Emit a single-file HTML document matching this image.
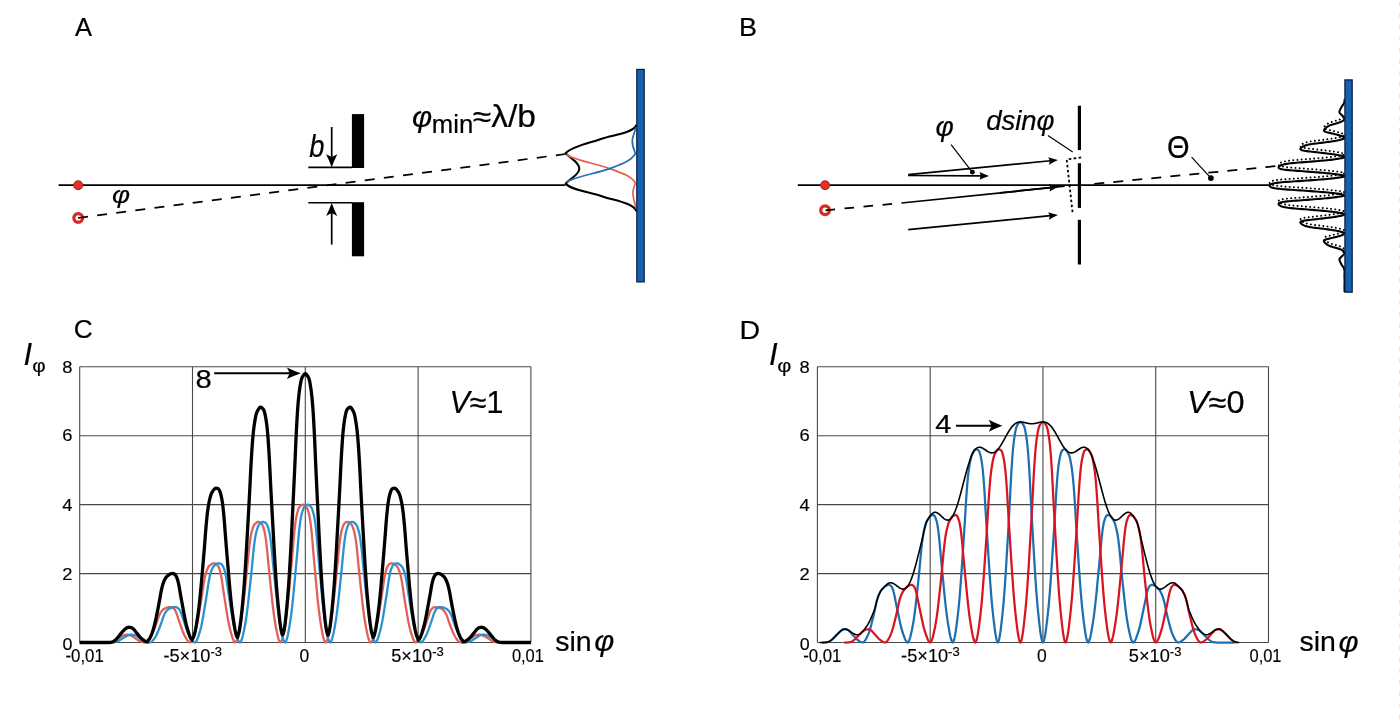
<!DOCTYPE html>
<html><head><meta charset="utf-8"><title>fig</title>
<style>
html,body{margin:0;padding:0;background:#fff;}
body{width:1400px;height:726px;overflow:hidden;}
svg{display:block;will-change:transform;}
text{font-family:"Liberation Sans",sans-serif;fill:#000;}
.g{stroke:#484848;stroke-width:1.1;}
.k{stroke:#000;fill:none;}
</style></head><body>
<svg width="1400" height="726" viewBox="0 0 1400 726">
<rect width="1400" height="726" fill="#fff"/>
<line x1="1399.5" y1="0" x2="1399.5" y2="726" stroke="#f1e3d8" stroke-width="1" stroke-dasharray="4,7.5" stroke-dashoffset="-2"/>

<!-- ===== Panel labels ===== -->
<text transform="translate(75.10,35.80) scale(1.0,1)" font-size="25.5" text-anchor="start" stroke="#000" stroke-width="0.20">A</text>
<text transform="translate(739.04,35.60) scale(1.06,1)" font-size="25.5" text-anchor="start" stroke="#000" stroke-width="0.19">B</text>
<text transform="translate(73.69,338.40) scale(1.03,1)" font-size="25.5" text-anchor="start" stroke="#000" stroke-width="0.20">C</text>
<text transform="translate(739.41,338.60) scale(1.1,1)" font-size="26" text-anchor="start" stroke="#000" stroke-width="0.19">D</text>

<!-- ===== Panel A ===== -->
<g id="panelA">
<line x1="58.6" y1="185.2" x2="565.5" y2="185.2" class="k" stroke-width="1.75"/>
<circle cx="78.2" cy="185.2" r="4.25" fill="#ee2e20" stroke="#a8342b" stroke-width="1.4"/>
<circle cx="78.2" cy="217.9" r="4.35" fill="#fff" stroke="#d92a20" stroke-width="3.3"/>
<line x1="78" y1="218" x2="565.7" y2="154" class="k" stroke-width="1.75" stroke-dasharray="10,9.28"/>
<rect x="351.9" y="114.1" width="12.2" height="53.9" fill="#000"/>
<rect x="351.9" y="202.2" width="12.2" height="54.1" fill="#000"/>
<line x1="308.3" y1="167.4" x2="352" y2="167.4" class="k" stroke-width="1.6"/>
<line x1="308.3" y1="202.7" x2="352" y2="202.7" class="k" stroke-width="1.6"/>
<line x1="331.70" y1="127.00" x2="331.70" y2="157.56" stroke="#000" stroke-width="1.7"/><path d="M331.70,167.20 Q334.05,160.70 337.30,154.20 L331.70,157.06 L326.10,154.20 Q329.35,160.70 331.70,167.20 Z" fill="#000"/>
<line x1="331.70" y1="244.60" x2="331.70" y2="212.54" stroke="#000" stroke-width="1.7"/><path d="M331.70,202.90 Q329.35,209.40 326.10,215.90 L331.70,213.04 L337.30,215.90 Q334.05,209.40 331.70,202.90 Z" fill="#000"/>
<text transform="translate(309.35,157.00) scale(0.88,1)" font-size="31" text-anchor="start" font-style="italic" stroke="#000" stroke-width="0.21">b</text>
<text transform="translate(111.89,203.20) scale(1.13,1)" font-size="24.5" text-anchor="start" font-style="italic" stroke="#000" stroke-width="0.19">φ</text>
<text transform="translate(412.06,127.10) scale(1.03,1)" font-size="30" text-anchor="start" font-style="italic" stroke="#000" stroke-width="0.20">φ</text>
<text transform="translate(431.80,133.40) scale(1.0,1)" font-size="25.7" text-anchor="start" stroke="#000" stroke-width="0.20">min</text>
<text transform="translate(472.79,126.50) scale(1.1,1)" font-size="30.5" text-anchor="start" stroke="#000" stroke-width="0.19">≈λ/b</text>
<!-- pattern -->
<path d="M636.6,124.6 C634,133 612,135 602.5,138.5 C588,143.5 572,146.5 565.8,153 C569,158 579.5,162 579.3,168.6 C579.5,175 569,179 565.8,183.7 C572,190.5 588,191.5 602.5,196.4 C612,200 634,203 636.6,211.4" class="k" stroke-width="2.1"/>
<path d="M566.5,154.5 C575,160.5 596,163.5 609.7,168.6 C622,173 631,176 635.5,183 C634,187 632.5,190 633,194.5 C633.3,199 635,203 636,208.5" fill="none" stroke="#e8604c" stroke-width="1.7"/>
<path d="M566.5,182.2 C575,176.5 596,173.5 609.7,168.6 C622,164 631,161 635.5,153.5 C634,149.5 632,146 632.3,140.5 C632.6,136 635,131.5 636,127.4" fill="none" stroke="#2a6db5" stroke-width="1.7"/>
<!-- screen -->
<rect x="636.8" y="69.4" width="7.4" height="212.5" fill="#1660b0" stroke="#0c1838" stroke-width="1.2"/>
</g>

<!-- ===== Panel B ===== -->
<g id="panelB">
<line x1="797.8" y1="185.2" x2="1270" y2="185.2" class="k" stroke-width="1.75"/>
<circle cx="825.1" cy="185.2" r="4.25" fill="#ee2e20" stroke="#a8342b" stroke-width="1.4"/>
<circle cx="825.1" cy="210.2" r="4.35" fill="#fff" stroke="#d92a20" stroke-width="3.3"/>
<line x1="825.5" y1="210.3" x2="901.6" y2="203.0" class="k" stroke-width="1.75" stroke-dasharray="9.6,9.5"/>
<line x1="901.5" y1="203.0" x2="1064.7" y2="186.2" class="k" stroke-width="1.75"/>
<line x1="1000.00" y1="192.85" x2="1050.97" y2="187.63" stroke="#000" stroke-width="1.75"/><path d="M1058.60,186.85 Q1053.71,185.75 1048.76,184.04 L1050.47,187.68 L1049.54,191.60 Q1054.04,188.92 1058.60,186.85 Z" fill="#000"/>
<line x1="908.20" y1="174.70" x2="1050.37" y2="160.75" stroke="#000" stroke-width="1.75"/><path d="M1058.00,160.00 Q1053.12,158.88 1048.17,157.15 L1049.87,160.80 L1048.92,164.71 Q1053.43,162.05 1058.00,160.00 Z" fill="#000"/>
<line x1="908.20" y1="175.50" x2="981.33" y2="175.86" stroke="#000" stroke-width="1.75"/><path d="M989.00,175.90 Q984.26,174.28 979.52,172.05 L980.83,175.86 L979.48,179.65 Q984.24,177.47 989.00,175.90 Z" fill="#000"/>
<line x1="908.20" y1="229.60" x2="1050.37" y2="215.74" stroke="#000" stroke-width="1.75"/><path d="M1058.00,215.00 Q1053.12,213.87 1048.18,212.14 L1049.87,215.79 L1048.91,219.70 Q1053.43,217.05 1058.00,215.00 Z" fill="#000"/>
<circle cx="972.4" cy="172.2" r="2.4" fill="#000"/>
<line x1="951.1" y1="144.7" x2="972" y2="171.8" class="k" stroke-width="1.2"/>
<text transform="translate(935.38,135.80) scale(1.0,1)" font-size="28" text-anchor="start" font-style="italic" stroke="#000" stroke-width="0.20">φ</text>
<text transform="translate(986.17,129.50) scale(0.965,1)" font-size="28.5" text-anchor="start" font-style="italic" stroke="#000" stroke-width="0.20">dsinφ</text>
<line x1="1047.9" y1="135.5" x2="1072.7" y2="152" class="k" stroke-width="1.2"/>
<!-- double slit -->
<line x1="1079.4" y1="105.7" x2="1079.4" y2="150.1" class="k" stroke-width="3.2"/>
<line x1="1079.4" y1="163.2" x2="1079.4" y2="207.9" class="k" stroke-width="3.2"/>
<line x1="1079.4" y1="219.8" x2="1079.4" y2="264.5" class="k" stroke-width="3.2"/>
<path d="M1081.2,157.4 L1066.7,159.5 L1072.7,213.8" class="k" stroke-width="1.8" stroke-dasharray="2.6,2.4"/>
<!-- theta line (drawn right to left so dash phase matches) -->
<line x1="1278.3" y1="165.9" x2="1088" y2="184.5" class="k" stroke-width="1.75" stroke-dasharray="10,9.1" stroke-dashoffset="-3"/>
<text transform="translate(1166.95,158.00) scale(0.94,1)" font-size="30.8" text-anchor="start" stroke="#000" stroke-width="0.21">Θ</text>
<line x1="1191.6" y1="157.1" x2="1210.5" y2="177.6" class="k" stroke-width="1.2"/>
<circle cx="1210.9" cy="178.1" r="2.9" fill="#000"/>
<!-- fringes -->
<path d="M1343.49,117.50 L1343.32,117.64 L1343.14,117.77 L1342.96,117.91 L1342.76,118.05 L1342.55,118.18 L1342.33,118.32 L1342.10,118.46 L1341.84,118.59 L1341.57,118.73 L1341.27,118.87 L1340.96,119.00 L1340.64,119.14 L1340.30,119.28 L1339.95,119.41 L1339.58,119.55 L1339.20,119.69 L1338.80,119.82 L1338.40,119.96 L1338.00,120.10 L1337.58,120.23 L1337.16,120.37 L1336.73,120.51 L1336.28,120.64 L1335.83,120.78 L1335.36,120.92 L1334.88,121.05 L1334.36,121.19 L1333.83,121.33 L1333.31,121.46 L1332.81,121.60 L1332.34,121.74 L1331.88,121.87 L1331.44,122.01 L1331.02,122.15 L1330.63,122.28 L1330.26,122.42 L1329.92,122.56 L1329.60,122.69 L1329.29,122.83 L1329.00,122.97 L1328.73,123.10 L1328.46,123.24 L1328.20,123.38 L1327.95,123.51 L1327.71,123.65 L1327.49,123.79 L1327.28,123.92 L1327.09,124.06 L1326.90,124.20 L1326.72,124.33 L1326.55,124.47 L1326.37,124.61 L1326.20,124.74 L1326.02,124.88 L1325.85,125.02 L1325.69,125.15 L1325.53,125.29 L1325.37,125.42 L1325.23,125.56 L1325.09,125.70 L1324.97,125.83 L1324.85,125.97 L1324.73,126.11 L1324.62,126.24 L1324.50,126.38 L1324.39,126.52 L1324.28,126.65 L1324.19,126.79 L1324.10,126.93 L1324.02,127.06 L1323.96,127.20 L1323.93,127.34 L1323.93,127.47 L1323.94,127.61 L1323.97,127.75 L1324.00,127.88 L1324.06,128.02 L1324.15,128.16 L1324.26,128.29 L1324.42,128.43 L1324.61,128.57 L1324.85,128.70 L1325.15,128.84 L1325.49,128.98 L1325.88,129.11 L1326.30,129.25 L1326.77,129.39 L1327.31,129.52 L1327.90,129.66 L1328.49,129.80 L1329.05,129.93 L1329.60,130.07 L1330.15,130.21 L1330.70,130.34 L1331.25,130.48 L1331.80,130.62 L1332.36,130.75 L1332.92,130.89 L1333.48,131.03 L1334.06,131.16 L1334.65,131.30 L1335.23,131.44 L1335.80,131.57 L1336.34,131.71 L1336.89,131.85 L1337.42,131.98 L1337.95,132.12 L1338.46,132.26 L1338.93,132.39 L1339.38,132.53 L1339.81,132.67 L1340.22,132.80 L1340.62,132.94 L1341.00,133.08 L1341.37,133.21 L1341.74,133.35 L1342.10,133.49 L1342.45,133.62 L1342.80,133.76 L1343.12,133.90 L1343.41,134.03 L1343.66,134.17 L1343.90,134.31 L1344.11,134.44 L1344.27,134.58 L1344.41,134.72 L1344.53,134.85 L1344.60,134.99 L1344.57,135.13 L1344.48,135.26 L1344.34,135.40 L1344.19,135.54 L1343.98,135.67 L1343.74,135.81 L1343.46,135.95 L1343.15,136.08 L1342.80,136.22 L1342.41,136.36 L1341.98,136.49 L1341.54,136.63 L1341.09,136.77 L1340.62,136.90 L1340.13,137.04 L1339.61,137.18 L1339.07,137.31 L1338.49,137.45 L1337.88,137.59 L1337.23,137.72 L1336.52,137.86 L1335.77,138.00 L1334.98,138.13 L1334.16,138.27 L1333.31,138.41 L1332.45,138.54 L1331.53,138.68 L1330.58,138.82 L1329.60,138.95 L1328.63,139.09 L1327.65,139.23 L1326.65,139.36 L1325.64,139.50 L1324.62,139.64 L1323.57,139.77 L1322.50,139.91 L1321.41,140.05 L1320.29,140.18 L1319.11,140.32 L1317.89,140.45 L1316.68,140.59 L1315.53,140.73 L1314.48,140.86 L1313.46,141.00 L1312.49,141.14 L1311.58,141.27 L1310.73,141.41 L1309.97,141.55 L1309.26,141.68 L1308.61,141.82 L1308.01,141.96 L1307.45,142.09 L1306.93,142.23 L1306.43,142.37 L1305.95,142.50 L1305.49,142.64 L1305.06,142.78 L1304.68,142.91 L1304.35,143.05 L1304.04,143.19 L1303.75,143.32 L1303.48,143.46 L1303.22,143.60 L1302.96,143.73 L1302.71,143.87 L1302.46,144.01 L1302.22,144.14 L1301.99,144.28 L1301.77,144.42 L1301.57,144.55 L1301.39,144.69 L1301.24,144.83 L1301.10,144.96 L1300.97,145.10 L1300.86,145.24 L1300.76,145.37 L1300.66,145.51 L1300.56,145.65 L1300.47,145.78 L1300.40,145.92 L1300.35,146.06 L1300.32,146.19 L1300.33,146.33 L1300.40,146.47 L1300.53,146.60 L1300.70,146.74 L1300.89,146.88 L1301.09,147.01 L1301.35,147.15 L1301.66,147.29 L1302.03,147.42 L1302.47,147.56 L1303.00,147.70 L1303.61,147.83 L1304.33,147.97 L1305.15,148.11 L1306.05,148.24 L1307.02,148.38 L1308.07,148.52 L1309.27,148.65 L1310.55,148.79 L1311.85,148.93 L1313.10,149.06 L1314.30,149.20 L1315.49,149.34 L1316.67,149.47 L1317.85,149.61 L1319.03,149.75 L1320.20,149.88 L1321.37,150.02 L1322.55,150.16 L1323.75,150.29 L1324.96,150.43 L1326.16,150.57 L1327.31,150.70 L1328.42,150.84 L1329.52,150.98 L1330.61,151.11 L1331.66,151.25 L1332.68,151.39 L1333.63,151.52 L1334.52,151.66 L1335.37,151.80 L1336.18,151.93 L1336.96,152.07 L1337.70,152.21 L1338.43,152.34 L1339.13,152.48 L1339.82,152.62 L1340.50,152.75 L1341.16,152.89 L1341.77,153.03 L1342.32,153.16 L1342.80,153.30 L1343.25,153.44 L1343.65,153.57 L1343.97,153.71 L1344.22,153.85 L1344.45,153.98 L1344.59,154.12 L1344.57,154.26 L1344.41,154.39 L1344.17,154.53 L1343.90,154.67 L1343.56,154.80 L1343.13,154.94 L1342.64,155.08 L1342.12,155.21 L1341.51,155.35 L1340.83,155.48 L1340.11,155.62 L1339.35,155.76 L1338.57,155.89 L1337.77,156.03 L1336.94,156.17 L1336.06,156.30 L1335.15,156.44 L1334.19,156.58 L1333.17,156.71 L1332.09,156.85 L1330.92,156.99 L1329.68,157.12 L1328.37,157.26 L1327.02,157.40 L1325.64,157.53 L1324.23,157.67 L1322.74,157.81 L1321.20,157.94 L1319.62,158.08 L1318.04,158.22 L1316.47,158.35 L1314.88,158.49 L1313.28,158.63 L1311.66,158.76 L1310.00,158.90 L1308.33,159.04 L1306.63,159.17 L1304.89,159.31 L1303.06,159.45 L1301.16,159.58 L1299.28,159.72 L1297.51,159.86 L1295.89,159.99 L1294.35,160.13 L1292.89,160.27 L1291.52,160.40 L1290.27,160.54 L1289.15,160.68 L1288.13,160.81 L1287.21,160.95 L1286.38,161.09 L1285.62,161.22 L1284.92,161.36 L1284.28,161.50 L1283.65,161.63 L1283.06,161.77 L1282.52,161.91 L1282.06,162.04 L1281.68,162.18 L1281.34,162.32 L1281.03,162.45 L1280.75,162.59 L1280.50,162.73 L1280.25,162.86 L1280.00,163.00 L1279.76,163.14 L1279.54,163.27 L1279.33,163.41 L1279.14,163.55 L1278.98,163.68 L1278.86,163.82 L1278.77,163.96 L1278.70,164.09 L1278.66,164.23 L1278.64,164.37 L1278.63,164.50 L1278.62,164.64 L1278.63,164.78 L1278.64,164.91 L1278.67,165.05 L1278.74,165.19 L1278.84,165.32 L1278.99,165.46 L1279.23,165.60 L1279.55,165.73 L1279.93,165.87 L1280.35,166.01 L1280.79,166.14 L1281.29,166.28 L1281.87,166.42 L1282.53,166.55 L1283.29,166.69 L1284.17,166.83 L1285.16,166.96 L1286.31,167.10 L1287.60,167.24 L1289.00,167.37 L1290.50,167.51 L1292.10,167.65 L1293.89,167.78 L1295.81,167.92 L1297.76,168.06 L1299.65,168.19 L1301.45,168.33 L1303.23,168.47 L1304.99,168.60 L1306.73,168.74 L1308.46,168.88 L1310.18,169.01 L1311.89,169.15 L1313.60,169.29 L1315.34,169.42 L1317.08,169.56 L1318.80,169.70 L1320.46,169.83 L1322.05,169.97 L1323.61,170.11 L1325.15,170.24 L1326.65,170.38 L1328.08,170.52 L1329.43,170.65 L1330.69,170.79 L1331.88,170.92 L1333.01,171.06 L1334.09,171.20 L1335.13,171.33 L1336.13,171.47 L1337.10,171.61 L1338.04,171.74 L1338.97,171.88 L1339.86,172.02 L1340.70,172.15 L1341.45,172.29 L1342.11,172.43 L1342.73,172.56 L1343.27,172.70 L1343.71,172.84 L1344.05,172.97 L1344.36,173.11 L1344.56,173.25 L1344.58,173.38 L1344.39,173.52 L1344.09,173.66 L1343.75,173.79 L1343.33,173.93 L1342.78,174.07 L1342.17,174.20 L1341.50,174.34 L1340.75,174.48 L1339.89,174.61 L1338.98,174.75 L1338.02,174.89 L1337.05,175.02 L1336.05,175.16 L1335.01,175.30 L1333.92,175.43 L1332.79,175.57 L1331.61,175.71 L1330.36,175.84 L1329.04,175.98 L1327.62,176.12 L1326.11,176.25 L1324.52,176.39 L1322.88,176.53 L1321.20,176.66 L1319.50,176.80 L1317.71,176.94 L1315.86,177.07 L1313.97,177.21 L1312.08,177.35 L1310.20,177.48 L1308.32,177.62 L1306.43,177.76 L1304.51,177.89 L1302.58,178.03 L1300.62,178.17 L1298.64,178.30 L1296.62,178.44 L1294.51,178.58 L1292.32,178.71 L1290.14,178.85 L1288.07,178.99 L1286.21,179.12 L1284.47,179.26 L1282.81,179.40 L1281.27,179.53 L1279.88,179.67 L1278.65,179.81 L1277.55,179.94 L1276.57,180.08 L1275.70,180.22 L1274.92,180.35 L1274.22,180.49 L1273.59,180.63 L1272.99,180.76 L1272.42,180.90 L1271.92,181.04 L1271.50,181.17 L1271.18,181.31 L1270.92,181.45 L1270.70,181.58 L1270.52,181.72 L1270.36,181.86 L1270.22,181.99 L1270.08,182.13 L1269.94,182.27 L1269.82,182.40 L1269.72,182.54 L1269.65,182.68 L1269.61,182.81 L1269.60,182.95 L1269.63,183.09 L1269.70,183.22 L1269.79,183.36 L1269.91,183.50 L1270.04,183.63 L1270.18,183.77 L1270.32,183.91 L1270.47,184.04 L1270.65,184.18 L1270.86,184.32 L1271.11,184.45 L1271.40,184.59 L1271.79,184.73 L1272.27,184.86 L1272.82,185.00 L1273.42,185.14 L1274.03,185.27 L1274.71,185.41 L1275.47,185.55 L1276.31,185.68 L1277.26,185.82 L1278.32,185.95 L1279.51,186.09 L1280.86,186.23 L1282.36,186.36 L1283.99,186.50 L1285.71,186.64 L1287.52,186.77 L1289.54,186.91 L1291.69,187.05 L1293.90,187.18 L1296.04,187.32 L1298.07,187.46 L1300.06,187.59 L1302.02,187.73 L1303.97,187.87 L1305.88,188.00 L1307.78,188.14 L1309.67,188.28 L1311.54,188.41 L1313.43,188.55 L1315.32,188.69 L1317.19,188.82 L1319.00,188.96 L1320.72,189.10 L1322.41,189.23 L1324.06,189.37 L1325.66,189.51 L1327.20,189.64 L1328.65,189.78 L1330.00,189.92 L1331.26,190.05 L1332.46,190.19 L1333.61,190.33 L1334.71,190.46 L1335.76,190.60 L1336.77,190.74 L1337.75,190.87 L1338.71,191.01 L1339.64,191.15 L1340.51,191.28 L1341.30,191.42 L1341.98,191.56 L1342.62,191.69 L1343.18,191.83 L1343.64,191.97 L1343.99,192.10 L1344.32,192.24 L1344.54,192.38 L1344.59,192.51 L1344.43,192.65 L1344.14,192.79 L1343.81,192.92 L1343.41,193.06 L1342.89,193.20 L1342.29,193.33 L1341.65,193.47 L1340.93,193.61 L1340.11,193.74 L1339.23,193.88 L1338.30,194.02 L1337.37,194.15 L1336.41,194.29 L1335.42,194.43 L1334.39,194.56 L1333.32,194.70 L1332.20,194.84 L1331.03,194.97 L1329.80,195.11 L1328.47,195.25 L1327.06,195.38 L1325.58,195.52 L1324.05,195.66 L1322.49,195.79 L1320.92,195.93 L1319.27,196.07 L1317.57,196.20 L1315.83,196.34 L1314.09,196.48 L1312.38,196.61 L1310.67,196.75 L1308.95,196.89 L1307.22,197.02 L1305.48,197.16 L1303.73,197.30 L1301.96,197.43 L1300.16,197.57 L1298.31,197.71 L1296.36,197.84 L1294.42,197.98 L1292.59,198.12 L1290.94,198.25 L1289.42,198.39 L1287.98,198.53 L1286.66,198.66 L1285.47,198.80 L1284.44,198.94 L1283.53,199.07 L1282.74,199.21 L1282.05,199.35 L1281.45,199.48 L1280.92,199.62 L1280.47,199.76 L1280.05,199.89 L1279.65,200.03 L1279.31,200.17 L1279.05,200.30 L1278.88,200.44 L1278.76,200.58 L1278.69,200.71 L1278.64,200.85 L1278.63,200.98 L1278.63,201.12 L1278.62,201.26 L1278.63,201.39 L1278.65,201.53 L1278.69,201.67 L1278.74,201.80 L1278.83,201.94 L1278.94,202.08 L1279.09,202.21 L1279.27,202.35 L1279.48,202.49 L1279.70,202.62 L1279.93,202.76 L1280.18,202.90 L1280.43,203.03 L1280.68,203.17 L1280.95,203.31 L1281.25,203.44 L1281.58,203.58 L1281.94,203.72 L1282.38,203.85 L1282.90,203.99 L1283.48,204.13 L1284.10,204.26 L1284.74,204.40 L1285.41,204.54 L1286.16,204.67 L1286.97,204.81 L1287.86,204.95 L1288.85,205.08 L1289.94,205.22 L1291.15,205.36 L1292.49,205.49 L1293.93,205.63 L1295.45,205.77 L1297.03,205.90 L1298.77,206.04 L1300.63,206.18 L1302.53,206.31 L1304.38,206.45 L1306.14,206.59 L1307.85,206.72 L1309.53,206.86 L1311.19,207.00 L1312.82,207.13 L1314.43,207.27 L1316.02,207.41 L1317.60,207.54 L1319.17,207.68 L1320.75,207.82 L1322.31,207.95 L1323.81,208.09 L1325.25,208.23 L1326.63,208.36 L1328.00,208.50 L1329.31,208.64 L1330.57,208.77 L1331.77,208.91 L1332.87,209.05 L1333.90,209.18 L1334.88,209.32 L1335.81,209.46 L1336.69,209.59 L1337.54,209.73 L1338.35,209.87 L1339.13,210.00 L1339.89,210.14 L1340.63,210.28 L1341.33,210.41 L1341.95,210.55 L1342.50,210.69 L1343.00,210.82 L1343.45,210.96 L1343.82,211.10 L1344.10,211.23 L1344.35,211.37 L1344.54,211.51 L1344.60,211.64 L1344.50,211.78 L1344.29,211.92 L1344.04,212.05 L1343.75,212.19 L1343.37,212.33 L1342.93,212.46 L1342.46,212.60 L1341.93,212.74 L1341.34,212.87 L1340.69,213.01 L1340.01,213.15 L1339.33,213.28 L1338.63,213.42 L1337.91,213.56 L1337.17,213.69 L1336.40,213.83 L1335.60,213.97 L1334.77,214.10 L1333.89,214.24 L1332.95,214.38 L1331.95,214.51 L1330.91,214.65 L1329.83,214.79 L1328.74,214.92 L1327.63,215.06 L1326.49,215.20 L1325.30,215.33 L1324.10,215.47 L1322.89,215.61 L1321.71,215.74 L1320.53,215.88 L1319.36,216.02 L1318.19,216.15 L1317.01,216.29 L1315.82,216.42 L1314.64,216.56 L1313.44,216.70 L1312.21,216.83 L1310.92,216.97 L1309.63,217.11 L1308.40,217.24 L1307.31,217.38 L1306.32,217.52 L1305.40,217.65 L1304.55,217.79 L1303.80,217.93 L1303.16,218.06 L1302.61,218.20 L1302.15,218.34 L1301.76,218.47 L1301.43,218.61 L1301.16,218.75 L1300.94,218.88 L1300.75,219.02 L1300.57,219.16 L1300.43,219.29 L1300.34,219.43 L1300.32,219.57 L1300.34,219.70 L1300.38,219.84 L1300.45,219.98 L1300.53,220.11 L1300.63,220.25 L1300.73,220.39 L1300.83,220.52 L1300.94,220.66 L1301.06,220.80 L1301.20,220.93 L1301.35,221.07 L1301.52,221.21 L1301.71,221.34 L1301.92,221.48 L1302.15,221.62 L1302.39,221.75 L1302.64,221.89 L1302.89,222.03 L1303.15,222.16 L1303.40,222.30 L1303.67,222.44 L1303.96,222.57 L1304.26,222.71 L1304.58,222.85 L1304.94,222.98 L1305.36,223.12 L1305.82,223.26 L1306.30,223.39 L1306.79,223.53 L1307.30,223.67 L1307.84,223.80 L1308.43,223.94 L1309.07,224.08 L1309.76,224.21 L1310.51,224.35 L1311.33,224.49 L1312.22,224.62 L1313.18,224.76 L1314.19,224.90 L1315.23,225.03 L1316.34,225.17 L1317.54,225.31 L1318.76,225.44 L1319.97,225.58 L1321.10,225.72 L1322.20,225.85 L1323.27,225.99 L1324.32,226.13 L1325.35,226.26 L1326.37,226.40 L1327.37,226.54 L1328.35,226.67 L1329.33,226.81 L1330.30,226.95 L1331.26,227.08 L1332.19,227.22 L1333.07,227.36 L1333.92,227.49 L1334.75,227.63 L1335.55,227.77 L1336.31,227.90 L1337.03,228.04 L1337.70,228.18 L1338.32,228.31 L1338.91,228.45 L1339.46,228.59 L1339.98,228.72 L1340.48,228.86 L1340.96,229.00 L1341.42,229.13 L1341.86,229.27 L1342.29,229.41 L1342.69,229.54 L1343.06,229.68 L1343.37,229.82 L1343.66,229.95 L1343.92,230.09 L1344.13,230.23 L1344.30,230.36 L1344.44,230.50 L1344.55,230.64 L1344.60,230.77 L1344.56,230.91 L1344.45,231.05 L1344.31,231.18 L1344.16,231.32 L1343.97,231.45 L1343.73,231.59 L1343.48,231.73 L1343.20,231.86 L1342.89,232.00 L1342.55,232.14 L1342.20,232.27 L1341.84,232.41 L1341.48,232.55 L1341.11,232.68 L1340.73,232.82 L1340.33,232.96 L1339.93,233.09 L1339.50,233.23 L1339.06,233.37 L1338.59,233.50 L1338.10,233.64 L1337.58,233.78 L1337.04,233.91 L1336.50,234.05 L1335.95,234.19 L1335.39,234.32 L1334.82,234.46 L1334.23,234.60 L1333.65,234.73 L1333.08,234.87 L1332.52,235.01 L1331.96,235.14 L1331.41,235.28 L1330.86,235.42 L1330.31,235.55 L1329.76,235.69 L1329.21,235.83 L1328.65,235.96 L1328.06,236.10 L1327.48,236.24 L1326.92,236.37 L1326.43,236.51 L1326.00,236.65 L1325.60,236.78 L1325.24,236.92 L1324.93,237.06 L1324.68,237.19 L1324.47,237.33 L1324.30,237.47 L1324.18,237.60 L1324.08,237.74 L1324.02,237.88 L1323.97,238.01 L1323.95,238.15 L1323.93,238.29 L1323.93,238.42 L1323.95,238.56 L1324.00,238.70 L1324.07,238.83 L1324.16,238.97 L1324.26,239.11 L1324.36,239.24 L1324.47,239.38 L1324.58,239.52 L1324.70,239.65 L1324.81,239.79 L1324.93,239.93 L1325.06,240.06 L1325.19,240.20 L1325.33,240.34 L1325.48,240.47 L1325.64,240.61 L1325.81,240.75 L1325.98,240.88 L1326.15,241.02 L1326.32,241.16 L1326.50,241.29 L1326.67,241.43 L1326.85,241.57 L1327.04,241.70 L1327.23,241.84 L1327.43,241.98 L1327.64,242.11 L1327.88,242.25 L1328.13,242.39 L1328.39,242.52 L1328.65,242.66 L1328.92,242.80 L1329.21,242.93 L1329.51,243.07 L1329.82,243.21 L1330.16,243.34 L1330.52,243.48 L1330.90,243.62 L1331.32,243.75 L1331.76,243.89 L1332.21,244.03 L1332.67,244.16 L1333.16,244.30 L1333.68,244.44 L1334.21,244.57 L1334.74,244.71 L1335.23,244.85 L1335.70,244.98 L1336.16,245.12 L1336.60,245.26 L1337.04,245.39 L1337.46,245.53 L1337.88,245.67 L1338.29,245.80 L1338.69,245.94 L1339.08,246.08 L1339.47,246.21 L1339.85,246.35 L1340.20,246.48 L1340.54,246.62 L1340.87,246.76 L1341.18,246.89 L1341.48,247.03 L1341.77,247.17 L1342.03,247.30 L1342.27,247.44 L1342.49,247.58 L1342.70,247.71 L1342.90,247.85 L1343.09,247.99 L1343.27,248.12 L1343.44,248.26 L1343.60,248.40 L1343.76,248.53 L1343.91,248.67 L1344.04,248.81 L1344.16,248.94 L1344.26,249.08 L1344.35,249.22 L1344.43,249.35 L1344.49,249.49 L1344.54,249.63 L1344.58,249.76 L1344.60,249.90 L1344.59,250.04 L1344.56,250.17 L1344.51,250.31 L1344.46,250.45 L1344.40,250.58 L1344.33,250.72 L1344.25,250.86 L1344.16,250.99 L1344.07,251.13 L1343.96,251.27 L1343.85,251.40 L1343.74,251.54 L1343.63,251.68 L1343.52,251.81 L1343.41,251.95 L1343.29,252.09 L1343.17,252.22 L1343.05,252.36 L1342.93,252.50 L1342.80,252.63 L1342.66,252.77 L1342.51,252.91 L1342.36,253.04 L1342.21,253.18 L1342.07,253.32 L1341.92,253.45 L1341.76,253.59 L1341.61,253.73 L1341.46,253.86 L1341.31,254.00" class="k" stroke-width="1.9" stroke-dasharray="0.1,4.1" stroke-linecap="round"/>
<path d="M1344.59,99.00 L1344.59,99.19 L1344.60,99.39 L1344.60,99.58 L1344.60,99.77 L1344.59,99.97 L1344.58,100.16 L1344.57,100.35 L1344.55,100.55 L1344.53,100.74 L1344.51,100.93 L1344.48,101.13 L1344.45,101.32 L1344.41,101.51 L1344.38,101.70 L1344.34,101.90 L1344.29,102.09 L1344.24,102.28 L1344.18,102.48 L1344.11,102.67 L1344.04,102.86 L1343.96,103.06 L1343.87,103.25 L1343.78,103.44 L1343.68,103.64 L1343.58,103.83 L1343.47,104.02 L1343.36,104.22 L1343.24,104.41 L1343.11,104.60 L1342.97,104.80 L1342.82,104.99 L1342.67,105.18 L1342.53,105.38 L1342.39,105.57 L1342.25,105.76 L1342.12,105.95 L1341.99,106.15 L1341.87,106.34 L1341.75,106.53 L1341.64,106.73 L1341.53,106.92 L1341.42,107.11 L1341.31,107.31 L1341.20,107.50 L1341.11,107.69 L1341.01,107.89 L1340.91,108.08 L1340.82,108.27 L1340.72,108.47 L1340.62,108.66 L1340.52,108.85 L1340.43,109.05 L1340.34,109.24 L1340.25,109.43 L1340.16,109.63 L1340.07,109.82 L1339.99,110.01 L1339.90,110.21 L1339.82,110.40 L1339.73,110.59 L1339.66,110.78 L1339.60,110.98 L1339.54,111.17 L1339.50,111.36 L1339.46,111.56 L1339.44,111.75 L1339.43,111.94 L1339.44,112.14 L1339.47,112.33 L1339.53,112.52 L1339.62,112.72 L1339.73,112.91 L1339.87,113.10 L1340.05,113.30 L1340.24,113.49 L1340.42,113.68 L1340.60,113.88 L1340.78,114.07 L1340.97,114.26 L1341.16,114.46 L1341.36,114.65 L1341.58,114.84 L1341.79,115.04 L1342.01,115.23 L1342.22,115.42 L1342.43,115.61 L1342.63,115.81 L1342.83,116.00 L1343.01,116.19 L1343.18,116.39 L1343.35,116.58 L1343.51,116.77 L1343.67,116.97 L1343.82,117.16 L1343.98,117.35 L1344.12,117.55 L1344.25,117.74 L1344.36,117.93 L1344.45,118.13 L1344.52,118.32 L1344.58,118.51 L1344.60,118.71 L1344.56,118.90 L1344.49,119.09 L1344.41,119.29 L1344.29,119.48 L1344.14,119.67 L1343.97,119.86 L1343.77,120.06 L1343.55,120.25 L1343.31,120.44 L1343.06,120.64 L1342.79,120.83 L1342.49,121.02 L1342.17,121.22 L1341.81,121.41 L1341.41,121.60 L1340.97,121.80 L1340.51,121.99 L1340.03,122.18 L1339.51,122.38 L1338.95,122.57 L1338.39,122.76 L1337.82,122.96 L1337.22,123.15 L1336.61,123.34 L1335.98,123.54 L1335.32,123.73 L1334.62,123.92 L1333.88,124.12 L1333.14,124.31 L1332.46,124.50 L1331.81,124.69 L1331.19,124.89 L1330.63,125.08 L1330.12,125.27 L1329.65,125.47 L1329.22,125.66 L1328.82,125.85 L1328.45,126.05 L1328.08,126.24 L1327.73,126.43 L1327.42,126.63 L1327.14,126.82 L1326.88,127.01 L1326.63,127.21 L1326.38,127.40 L1326.13,127.59 L1325.89,127.79 L1325.65,127.98 L1325.43,128.17 L1325.23,128.37 L1325.04,128.56 L1324.86,128.75 L1324.70,128.94 L1324.54,129.14 L1324.38,129.33 L1324.23,129.52 L1324.10,129.72 L1324.00,129.91 L1323.94,130.10 L1323.93,130.30 L1323.96,130.49 L1324.00,130.68 L1324.09,130.88 L1324.24,131.07 L1324.46,131.26 L1324.76,131.46 L1325.17,131.65 L1325.67,131.84 L1326.26,132.04 L1326.93,132.23 L1327.73,132.42 L1328.56,132.62 L1329.35,132.81 L1330.13,133.00 L1330.91,133.20 L1331.69,133.39 L1332.47,133.58 L1333.26,133.77 L1334.08,133.97 L1334.91,134.16 L1335.72,134.35 L1336.49,134.55 L1337.26,134.74 L1338.00,134.93 L1338.71,135.13 L1339.35,135.32 L1339.95,135.51 L1340.52,135.71 L1341.06,135.90 L1341.59,136.09 L1342.10,136.29 L1342.60,136.48 L1343.07,136.67 L1343.47,136.87 L1343.82,137.06 L1344.13,137.25 L1344.34,137.45 L1344.52,137.64 L1344.60,137.83 L1344.51,138.03 L1344.32,138.22 L1344.08,138.41 L1343.75,138.60 L1343.34,138.80 L1342.88,138.99 L1342.32,139.18 L1341.71,139.38 L1341.07,139.57 L1340.40,139.76 L1339.68,139.96 L1338.91,140.15 L1338.07,140.34 L1337.16,140.54 L1336.13,140.73 L1335.03,140.92 L1333.87,141.12 L1332.66,141.31 L1331.37,141.50 L1330.01,141.70 L1328.62,141.89 L1327.23,142.08 L1325.82,142.28 L1324.36,142.47 L1322.87,142.66 L1321.33,142.85 L1319.73,143.05 L1318.01,143.24 L1316.31,143.43 L1314.76,143.63 L1313.32,143.82 L1311.97,144.01 L1310.76,144.21 L1309.69,144.40 L1308.73,144.59 L1307.89,144.79 L1307.12,144.98 L1306.42,145.17 L1305.74,145.37 L1305.11,145.56 L1304.58,145.75 L1304.13,145.95 L1303.72,146.14 L1303.34,146.33 L1302.98,146.53 L1302.62,146.72 L1302.27,146.91 L1301.95,147.11 L1301.65,147.30 L1301.39,147.49 L1301.18,147.68 L1300.99,147.88 L1300.84,148.07 L1300.69,148.26 L1300.55,148.46 L1300.43,148.65 L1300.35,148.84 L1300.32,149.04 L1300.38,149.23 L1300.55,149.42 L1300.80,149.62 L1301.09,149.81 L1301.46,150.00 L1301.95,150.20 L1302.58,150.39 L1303.37,150.58 L1304.36,150.78 L1305.55,150.97 L1306.89,151.16 L1308.40,151.36 L1310.16,151.55 L1311.99,151.74 L1313.73,151.93 L1315.42,152.13 L1317.09,152.32 L1318.76,152.51 L1320.41,152.71 L1322.07,152.90 L1323.76,153.09 L1325.47,153.29 L1327.13,153.48 L1328.70,153.67 L1330.25,153.87 L1331.74,154.06 L1333.15,154.25 L1334.44,154.45 L1335.63,154.64 L1336.75,154.83 L1337.81,155.03 L1338.83,155.22 L1339.80,155.41 L1340.76,155.61 L1341.65,155.80 L1342.42,155.99 L1343.09,156.19 L1343.67,156.38 L1344.08,156.57 L1344.42,156.76 L1344.60,156.96 L1344.47,157.15 L1344.14,157.34 L1343.73,157.54 L1343.16,157.73 L1342.46,157.92 L1341.66,158.12 L1340.70,158.31 L1339.65,158.50 L1338.56,158.70 L1337.42,158.89 L1336.21,159.08 L1334.91,159.28 L1333.51,159.47 L1332.00,159.66 L1330.31,159.86 L1328.49,160.05 L1326.58,160.24 L1324.60,160.44 L1322.51,160.63 L1320.31,160.82 L1318.07,161.02 L1315.85,161.21 L1313.59,161.40 L1311.29,161.59 L1308.94,161.79 L1306.54,161.98 L1304.06,162.17 L1301.40,162.37 L1298.75,162.56 L1296.36,162.75 L1294.17,162.95 L1292.14,163.14 L1290.33,163.33 L1288.77,163.53 L1287.41,163.72 L1286.23,163.91 L1285.19,164.11 L1284.27,164.30 L1283.39,164.49 L1282.60,164.69 L1281.95,164.88 L1281.44,165.07 L1281.00,165.27 L1280.62,165.46 L1280.27,165.65 L1279.92,165.84 L1279.59,166.04 L1279.30,166.23 L1279.05,166.42 L1278.86,166.62 L1278.74,166.81 L1278.67,167.00 L1278.63,167.20 L1278.62,167.39 L1278.63,167.58 L1278.65,167.78 L1278.73,167.97 L1278.88,168.16 L1279.15,168.36 L1279.59,168.55 L1280.15,168.74 L1280.77,168.94 L1281.49,169.13 L1282.38,169.32 L1283.45,169.52 L1284.76,169.71 L1286.33,169.90 L1288.19,170.10 L1290.27,170.29 L1292.55,170.48 L1295.18,170.67 L1297.93,170.87 L1300.56,171.06 L1303.08,171.25 L1305.57,171.45 L1308.02,171.64 L1310.45,171.83 L1312.87,172.03 L1315.31,172.22 L1317.77,172.41 L1320.16,172.61 L1322.41,172.80 L1324.61,172.99 L1326.73,173.19 L1328.73,173.38 L1330.55,173.57 L1332.22,173.77 L1333.79,173.96 L1335.26,174.15 L1336.66,174.35 L1338.00,174.54 L1339.30,174.73 L1340.53,174.92 L1341.59,175.12 L1342.49,175.31 L1343.28,175.50 L1343.86,175.70 L1344.32,175.89 L1344.59,176.08 L1344.47,176.28 L1344.06,176.47 L1343.55,176.66 L1342.83,176.86 L1341.95,177.05 L1340.94,177.24 L1339.75,177.44 L1338.43,177.63 L1337.06,177.82 L1335.63,178.02 L1334.12,178.21 L1332.52,178.40 L1330.81,178.60 L1328.96,178.79 L1326.91,178.98 L1324.70,179.18 L1322.37,179.37 L1319.99,179.56 L1317.47,179.75 L1314.83,179.95 L1312.15,180.14 L1309.50,180.33 L1306.83,180.53 L1304.13,180.72 L1301.38,180.91 L1298.58,181.11 L1295.71,181.30 L1292.64,181.49 L1289.57,181.69 L1286.78,181.88 L1284.30,182.07 L1282.00,182.27 L1279.98,182.46 L1278.26,182.65 L1276.80,182.85 L1275.56,183.04 L1274.50,183.23 L1273.59,183.43 L1272.75,183.62 L1272.00,183.81 L1271.41,184.01 L1271.01,184.20 L1270.69,184.39 L1270.44,184.58 L1270.23,184.78 L1270.03,184.97 L1269.85,185.16 L1269.71,185.36 L1269.62,185.55 L1269.60,185.74 L1269.66,185.94 L1269.77,186.13 L1269.93,186.32 L1270.12,186.52 L1270.33,186.71 L1270.55,186.90 L1270.83,187.10 L1271.18,187.29 L1271.65,187.48 L1272.32,187.68 L1273.13,187.87 L1273.99,188.06 L1274.96,188.26 L1276.10,188.45 L1277.43,188.64 L1279.00,188.83 L1280.86,189.03 L1283.02,189.22 L1285.41,189.41 L1287.99,189.61 L1290.94,189.80 L1294.04,189.99 L1297.02,190.19 L1299.85,190.38 L1302.63,190.57 L1305.36,190.77 L1308.04,190.96 L1310.70,191.15 L1313.36,191.35 L1316.04,191.54 L1318.63,191.73 L1321.07,191.93 L1323.44,192.12 L1325.72,192.31 L1327.86,192.51 L1329.82,192.70 L1331.60,192.89 L1333.26,193.09 L1334.82,193.28 L1336.29,193.47 L1337.68,193.66 L1339.04,193.86 L1340.31,194.05 L1341.42,194.24 L1342.36,194.44 L1343.18,194.63 L1343.80,194.82 L1344.27,195.02 L1344.57,195.21 L1344.51,195.40 L1344.12,195.60 L1343.63,195.79 L1342.95,195.98 L1342.09,196.18 L1341.13,196.37 L1339.99,196.56 L1338.72,196.76 L1337.40,196.95 L1336.03,197.14 L1334.60,197.34 L1333.09,197.53 L1331.48,197.72 L1329.75,197.91 L1327.84,198.11 L1325.78,198.30 L1323.62,198.49 L1321.40,198.69 L1319.09,198.88 L1316.66,199.07 L1314.20,199.27 L1311.78,199.46 L1309.36,199.65 L1306.91,199.85 L1304.44,200.04 L1301.95,200.23 L1299.40,200.43 L1296.69,200.62 L1293.96,200.81 L1291.47,201.01 L1289.31,201.20 L1287.32,201.39 L1285.58,201.59 L1284.14,201.78 L1282.94,201.97 L1281.96,202.17 L1281.14,202.36 L1280.48,202.55 L1279.89,202.74 L1279.37,202.94 L1279.00,203.13 L1278.80,203.32 L1278.69,203.52 L1278.63,203.71 L1278.63,203.90 L1278.63,204.10 L1278.64,204.29 L1278.69,204.48 L1278.79,204.68 L1278.94,204.87 L1279.15,205.06 L1279.43,205.26 L1279.74,205.45 L1280.08,205.64 L1280.43,205.84 L1280.79,206.03 L1281.20,206.22 L1281.66,206.42 L1282.22,206.61 L1282.94,206.80 L1283.78,206.99 L1284.68,207.19 L1285.65,207.38 L1286.75,207.57 L1288.00,207.77 L1289.45,207.96 L1291.12,208.15 L1293.04,208.35 L1295.15,208.54 L1297.40,208.73 L1299.93,208.93 L1302.61,209.12 L1305.20,209.31 L1307.64,209.51 L1310.01,209.70 L1312.34,209.89 L1314.62,210.09 L1316.86,210.28 L1319.08,210.47 L1321.31,210.67 L1323.48,210.86 L1325.50,211.05 L1327.45,211.25 L1329.33,211.44 L1331.09,211.63 L1332.70,211.82 L1334.16,212.02 L1335.51,212.21 L1336.76,212.40 L1337.95,212.60 L1339.06,212.79 L1340.14,212.98 L1341.15,213.18 L1342.04,213.37 L1342.78,213.56 L1343.44,213.76 L1343.94,213.95 L1344.30,214.14 L1344.56,214.34 L1344.55,214.53 L1344.28,214.72 L1343.92,214.92 L1343.42,215.11 L1342.80,215.30 L1342.09,215.50 L1341.26,215.69 L1340.33,215.88 L1339.36,216.08 L1338.37,216.27 L1337.34,216.46 L1336.25,216.65 L1335.10,216.85 L1333.88,217.04 L1332.53,217.23 L1331.08,217.43 L1329.55,217.62 L1327.99,217.81 L1326.39,218.01 L1324.70,218.20 L1322.99,218.39 L1321.32,218.59 L1319.66,218.78 L1318.00,218.97 L1316.33,219.17 L1314.66,219.36 L1312.96,219.55 L1311.16,219.75 L1309.34,219.94 L1307.68,220.13 L1306.27,220.33 L1304.99,220.52 L1303.88,220.71 L1302.99,220.90 L1302.27,221.10 L1301.72,221.29 L1301.28,221.48 L1300.95,221.68 L1300.68,221.87 L1300.46,222.06 L1300.33,222.26 L1300.33,222.45 L1300.38,222.64 L1300.48,222.84 L1300.62,223.03 L1300.76,223.22 L1300.90,223.42 L1301.07,223.61 L1301.27,223.80 L1301.50,224.00 L1301.78,224.19 L1302.09,224.38 L1302.43,224.58 L1302.78,224.77 L1303.15,224.96 L1303.51,225.16 L1303.90,225.35 L1304.33,225.54 L1304.81,225.73 L1305.39,225.93 L1306.04,226.12 L1306.73,226.31 L1307.46,226.51 L1308.26,226.70 L1309.15,226.89 L1310.16,227.09 L1311.29,227.28 L1312.57,227.47 L1313.97,227.67 L1315.44,227.86 L1317.07,228.05 L1318.79,228.25 L1320.47,228.44 L1322.04,228.63 L1323.55,228.83 L1325.03,229.02 L1326.46,229.21 L1327.87,229.41 L1329.25,229.60 L1330.63,229.79 L1331.96,229.98 L1333.21,230.18 L1334.40,230.37 L1335.54,230.56 L1336.61,230.76 L1337.58,230.95 L1338.46,231.14 L1339.27,231.34 L1340.01,231.53 L1340.71,231.72 L1341.37,231.92 L1341.99,232.11 L1342.58,232.30 L1343.10,232.50 L1343.53,232.69 L1343.91,232.88 L1344.20,233.08 L1344.41,233.27 L1344.57,233.46 L1344.58,233.66 L1344.45,233.85 L1344.25,234.04 L1344.00,234.24 L1343.67,234.43 L1343.30,234.62 L1342.86,234.81 L1342.37,235.01 L1341.87,235.20 L1341.35,235.39 L1340.82,235.59 L1340.27,235.78 L1339.68,235.97 L1339.07,236.17 L1338.39,236.36 L1337.67,236.55 L1336.91,236.75 L1336.14,236.94 L1335.36,237.13 L1334.54,237.33 L1333.71,237.52 L1332.90,237.71 L1332.12,237.91 L1331.33,238.10 L1330.55,238.29 L1329.78,238.49 L1329.00,238.68 L1328.19,238.87 L1327.36,239.07 L1326.61,239.26 L1325.98,239.45 L1325.44,239.64 L1324.97,239.84 L1324.62,240.03 L1324.35,240.22 L1324.17,240.42 L1324.04,240.61 L1323.98,240.80 L1323.94,241.00 L1323.93,241.19 L1323.96,241.38 L1324.04,241.58 L1324.16,241.77 L1324.30,241.96 L1324.45,242.16 L1324.61,242.35 L1324.77,242.54 L1324.94,242.74 L1325.12,242.93 L1325.32,243.12 L1325.53,243.32 L1325.76,243.51 L1326.00,243.70 L1326.25,243.89 L1326.49,244.09 L1326.74,244.28 L1327.00,244.47 L1327.27,244.67 L1327.56,244.86 L1327.88,245.05 L1328.24,245.25 L1328.62,245.44 L1329.00,245.63 L1329.41,245.83 L1329.86,246.02 L1330.35,246.21 L1330.88,246.41 L1331.47,246.60 L1332.10,246.79 L1332.76,246.99 L1333.47,247.18 L1334.22,247.37 L1334.94,247.57 L1335.62,247.76 L1336.27,247.95 L1336.89,248.15 L1337.49,248.34 L1338.08,248.53 L1338.65,248.72 L1339.21,248.92 L1339.75,249.11 L1340.25,249.30 L1340.72,249.50 L1341.18,249.69 L1341.60,249.88 L1341.98,250.08 L1342.32,250.27 L1342.63,250.46 L1342.91,250.66 L1343.17,250.85 L1343.42,251.04 L1343.65,251.24 L1343.86,251.43 L1344.05,251.62 L1344.21,251.82 L1344.35,252.01 L1344.45,252.20 L1344.53,252.40 L1344.58,252.59 L1344.60,252.78 L1344.56,252.97 L1344.49,253.17 L1344.41,253.36 L1344.31,253.55 L1344.19,253.75 L1344.06,253.94 L1343.91,254.13 L1343.75,254.33 L1343.60,254.52 L1343.44,254.71 L1343.28,254.91 L1343.11,255.10 L1342.93,255.29 L1342.74,255.49 L1342.54,255.68 L1342.33,255.87 L1342.12,256.07 L1341.91,256.26 L1341.69,256.45 L1341.48,256.65 L1341.27,256.84 L1341.07,257.03 L1340.88,257.23 L1340.70,257.42 L1340.52,257.61 L1340.34,257.80 L1340.15,258.00 L1339.97,258.19 L1339.80,258.38 L1339.68,258.58 L1339.58,258.77 L1339.50,258.96 L1339.45,259.16 L1339.43,259.35 L1339.43,259.54 L1339.45,259.74 L1339.48,259.93 L1339.52,260.12 L1339.57,260.32 L1339.62,260.51 L1339.69,260.70 L1339.77,260.90 L1339.85,261.09 L1339.94,261.28 L1340.02,261.48 L1340.11,261.67 L1340.20,261.86 L1340.29,262.06 L1340.38,262.25 L1340.47,262.44 L1340.57,262.63 L1340.66,262.83 L1340.76,263.02 L1340.86,263.21 L1340.96,263.41 L1341.05,263.60 L1341.15,263.79 L1341.25,263.99 L1341.36,264.18 L1341.47,264.37 L1341.58,264.57 L1341.69,264.76 L1341.80,264.95 L1341.92,265.15 L1342.05,265.34 L1342.18,265.53 L1342.31,265.73 L1342.45,265.92 L1342.60,266.11 L1342.74,266.31 L1342.89,266.50 L1343.04,266.69 L1343.17,266.88 L1343.29,267.08 L1343.41,267.27 L1343.52,267.46 L1343.63,267.66 L1343.73,267.85 L1343.82,268.04 L1343.91,268.24 L1344.00,268.43 L1344.07,268.62 L1344.14,268.82 L1344.20,269.01 L1344.26,269.20 L1344.31,269.40 L1344.36,269.59 L1344.39,269.78 L1344.43,269.98 L1344.46,270.17 L1344.49,270.36 L1344.52,270.56 L1344.54,270.75 L1344.56,270.94 L1344.57,271.14 L1344.58,271.33 L1344.59,271.52 L1344.60,271.71 L1344.60,271.91 L1344.60,272.10 L1344.59,272.29 L1344.59,272.49 L1344.58,272.68 L1344.57,272.87 L1344.56,273.07 L1344.55,273.26 L1344.54,273.45 L1344.53,273.65 L1344.52,273.84 L1344.52,274.03 L1344.51,274.23 L1344.50,274.42 L1344.50,274.61 L1344.49,274.81 L1344.48,275.00 L1344.48,275.19 L1344.47,275.39 L1344.47,275.58 L1344.47,275.77 L1344.47,275.96 L1344.46,276.16 L1344.47,276.35 L1344.47,276.54 L1344.47,276.74 L1344.47,276.93 L1344.47,277.12 L1344.48,277.32 L1344.48,277.51 L1344.49,277.70 L1344.50,277.90 L1344.50,278.09 L1344.51,278.28 L1344.52,278.48 L1344.53,278.67 L1344.54,278.86 L1344.54,279.06 L1344.55,279.25 L1344.56,279.44 L1344.56,279.64 L1344.57,279.83 L1344.58,280.02 L1344.58,280.22 L1344.59,280.41 L1344.59,280.60 L1344.59,280.79 L1344.60,280.99 L1344.60,281.18 L1344.60,281.37 L1344.60,281.57 L1344.60,281.76 L1344.60,281.95 L1344.60,282.15 L1344.60,282.34 L1344.59,282.53 L1344.59,282.73 L1344.59,282.92 L1344.58,283.11 L1344.58,283.31 L1344.58,283.50 L1344.57,283.69 L1344.57,283.89 L1344.56,284.08 L1344.55,284.27 L1344.55,284.47 L1344.54,284.66 L1344.54,284.85 L1344.53,285.05 L1344.53,285.24 L1344.52,285.43 L1344.52,285.62 L1344.52,285.82 L1344.51,286.01 L1344.51,286.20 L1344.51,286.40 L1344.51,286.59 L1344.51,286.78 L1344.51,286.98 L1344.51,287.17 L1344.51,287.36 L1344.52,287.56 L1344.52,287.75 L1344.52,287.94 L1344.53,288.14 L1344.53,288.33 L1344.54,288.52 L1344.54,288.72 L1344.55,288.91 L1344.55,289.10 L1344.56,289.30 L1344.56,289.49 L1344.57,289.68 L1344.58,289.87 L1344.58,290.07 L1344.59,290.26 L1344.59,290.45 L1344.60,290.65 L1344.60,290.84 L1344.60,291.03 L1344.60,291.23 L1344.59,291.42 L1344.59,291.61 L1344.58,291.81 L1344.57,292.00" class="k" stroke-width="2.1" stroke-linejoin="round"/>
<rect x="1344.9" y="79.9" width="7.3" height="212.3" fill="#1660b0" stroke="#0c1838" stroke-width="1.2"/>
</g>

<!-- ===== Plot C ===== -->
<g id="plotC">
<line x1="79.70" y1="366.8" x2="79.70" y2="642.5" class="g"/><line x1="192.50" y1="366.8" x2="192.50" y2="642.5" class="g"/><line x1="305.30" y1="366.8" x2="305.30" y2="642.5" class="g"/><line x1="418.10" y1="366.8" x2="418.10" y2="642.5" class="g"/><line x1="530.90" y1="366.8" x2="530.90" y2="642.5" class="g"/><line x1="79.7" y1="366.80" x2="530.9" y2="366.80" class="g"/><line x1="79.7" y1="435.73" x2="530.9" y2="435.73" class="g"/><line x1="79.7" y1="504.65" x2="530.9" y2="504.65" class="g"/><line x1="79.7" y1="573.58" x2="530.9" y2="573.58" class="g"/><line x1="79.7" y1="642.50" x2="530.9" y2="642.50" class="g"/><path d="M79.70,642.50 L80.08,642.50 L80.45,642.50 L80.83,642.50 L81.20,642.50 L81.58,642.50 L81.96,642.50 L82.33,642.50 L82.71,642.50 L83.08,642.50 L83.46,642.50 L83.84,642.50 L84.21,642.50 L84.59,642.50 L84.96,642.50 L85.34,642.50 L85.72,642.50 L86.09,642.50 L86.47,642.50 L86.84,642.50 L87.22,642.50 L87.60,642.50 L87.97,642.50 L88.35,642.50 L88.72,642.50 L89.10,642.50 L89.48,642.50 L89.85,642.50 L90.23,642.50 L90.60,642.50 L90.98,642.50 L91.36,642.50 L91.73,642.50 L92.11,642.50 L92.48,642.50 L92.86,642.50 L93.24,642.50 L93.61,642.50 L93.99,642.50 L94.36,642.50 L94.74,642.50 L95.12,642.50 L95.49,642.50 L95.87,642.50 L96.24,642.50 L96.62,642.50 L97.00,642.50 L97.37,642.50 L97.75,642.50 L98.12,642.50 L98.50,642.50 L98.88,642.50 L99.25,642.50 L99.63,642.50 L100.00,642.50 L100.38,642.50 L100.76,642.50 L101.13,642.50 L101.51,642.50 L101.88,642.50 L102.26,642.50 L102.64,642.50 L103.01,642.50 L103.39,642.50 L103.76,642.50 L104.14,642.50 L104.52,642.50 L104.89,642.50 L105.27,642.50 L105.64,642.50 L106.02,642.50 L106.40,642.50 L106.77,642.50 L107.15,642.49 L107.52,642.48 L107.90,642.46 L108.28,642.44 L108.65,642.41 L109.03,642.37 L109.40,642.32 L109.78,642.26 L110.16,642.20 L110.53,642.12 L110.91,642.03 L111.28,641.92 L111.66,641.80 L112.04,641.67 L112.41,641.52 L112.79,641.35 L113.16,641.17 L113.54,640.98 L113.92,640.78 L114.29,640.57 L114.67,640.35 L115.04,640.13 L115.42,639.90 L115.80,639.67 L116.17,639.44 L116.55,639.20 L116.92,638.97 L117.30,638.73 L117.68,638.49 L118.05,638.24 L118.43,638.00 L118.80,637.77 L119.18,637.54 L119.56,637.32 L119.93,637.10 L120.31,636.88 L120.68,636.67 L121.06,636.46 L121.44,636.26 L121.81,636.06 L122.19,635.88 L122.56,635.70 L122.94,635.54 L123.32,635.39 L123.69,635.25 L124.07,635.13 L124.44,635.02 L124.82,634.92 L125.20,634.84 L125.57,634.77 L125.95,634.72 L126.32,634.70 L126.70,634.69 L127.08,634.71 L127.45,634.73 L127.83,634.77 L128.20,634.80 L128.58,634.85 L128.96,634.91 L129.33,634.99 L129.71,635.09 L130.08,635.21 L130.46,635.35 L130.84,635.52 L131.21,635.71 L131.59,635.91 L131.96,636.15 L132.34,636.41 L132.72,636.67 L133.09,636.92 L133.47,637.17 L133.84,637.41 L134.22,637.65 L134.60,637.90 L134.97,638.14 L135.35,638.38 L135.72,638.63 L136.10,638.88 L136.48,639.13 L136.85,639.37 L137.23,639.60 L137.60,639.83 L137.98,640.05 L138.36,640.27 L138.73,640.47 L139.11,640.66 L139.48,640.84 L139.86,641.01 L140.24,641.17 L140.61,641.33 L140.99,641.48 L141.36,641.62 L141.74,641.77 L142.12,641.91 L142.49,642.03 L142.87,642.14 L143.24,642.24 L143.62,642.33 L144.00,642.39 L144.37,642.45 L144.75,642.49 L145.12,642.50 L145.50,642.41 L145.88,642.27 L146.25,642.10 L146.63,641.86 L147.00,641.58 L147.38,641.26 L147.76,640.90 L148.13,640.48 L148.51,640.02 L148.88,639.55 L149.26,639.06 L149.64,638.55 L150.01,638.01 L150.39,637.45 L150.76,636.85 L151.14,636.21 L151.52,635.51 L151.89,634.76 L152.27,633.96 L152.64,633.12 L153.02,632.26 L153.40,631.37 L153.77,630.43 L154.15,629.46 L154.52,628.49 L154.90,627.51 L155.28,626.53 L155.65,625.53 L156.03,624.52 L156.40,623.48 L156.78,622.43 L157.16,621.35 L157.53,620.21 L157.91,619.03 L158.28,617.89 L158.66,616.85 L159.04,615.89 L159.41,614.98 L159.79,614.14 L160.16,613.39 L160.54,612.72 L160.92,612.12 L161.29,611.59 L161.67,611.11 L162.04,610.68 L162.42,610.28 L162.80,609.89 L163.17,609.54 L163.55,609.23 L163.92,608.98 L164.30,608.77 L164.68,608.57 L165.05,608.40 L165.43,608.23 L165.80,608.06 L166.18,607.90 L166.56,607.75 L166.93,607.61 L167.31,607.49 L167.68,607.39 L168.06,607.31 L168.44,607.25 L168.81,607.21 L169.19,607.18 L169.56,607.16 L169.94,607.14 L170.32,607.13 L170.69,607.13 L171.07,607.16 L171.44,607.21 L171.82,607.31 L172.20,607.47 L172.57,607.69 L172.95,607.93 L173.32,608.19 L173.70,608.50 L174.08,608.86 L174.45,609.30 L174.83,609.82 L175.20,610.43 L175.58,611.15 L175.96,611.97 L176.33,612.87 L176.71,613.83 L177.08,614.93 L177.46,616.13 L177.84,617.34 L178.21,618.49 L178.59,619.61 L178.96,620.71 L179.34,621.80 L179.72,622.89 L180.09,623.97 L180.47,625.04 L180.84,626.13 L181.22,627.23 L181.60,628.32 L181.97,629.37 L182.35,630.37 L182.72,631.36 L183.10,632.32 L183.48,633.24 L183.85,634.11 L184.23,634.91 L184.60,635.66 L184.98,636.37 L185.36,637.05 L185.73,637.70 L186.11,638.33 L186.48,638.93 L186.86,639.53 L187.24,640.10 L187.61,640.61 L187.99,641.05 L188.36,641.45 L188.74,641.80 L189.12,642.07 L189.49,642.28 L189.87,642.45 L190.24,642.49 L190.62,642.29 L191.00,641.93 L191.37,641.52 L191.75,640.97 L192.12,640.28 L192.50,639.52 L192.88,638.65 L193.25,637.64 L193.63,636.56 L194.00,635.43 L194.38,634.27 L194.76,633.07 L195.13,631.80 L195.51,630.46 L195.88,629.05 L196.26,627.54 L196.64,625.91 L197.01,624.15 L197.39,622.27 L197.76,620.32 L198.14,618.33 L198.52,616.26 L198.89,614.08 L199.27,611.84 L199.64,609.58 L200.02,607.33 L200.40,605.07 L200.77,602.79 L201.15,600.47 L201.52,598.11 L201.90,595.72 L202.28,593.27 L202.65,590.67 L203.03,588.00 L203.40,585.42 L203.78,583.09 L204.16,580.93 L204.53,578.90 L204.91,577.04 L205.28,575.39 L205.66,573.94 L206.04,572.65 L206.41,571.52 L206.79,570.51 L207.16,569.61 L207.54,568.78 L207.92,567.98 L208.29,567.26 L208.67,566.66 L209.04,566.19 L209.42,565.79 L209.80,565.44 L210.17,565.13 L210.55,564.85 L210.92,564.57 L211.30,564.30 L211.68,564.05 L212.05,563.83 L212.43,563.65 L212.80,563.51 L213.18,563.44 L213.56,563.40 L213.93,563.41 L214.31,563.44 L214.68,563.49 L215.06,563.54 L215.44,563.60 L215.81,563.70 L216.19,563.85 L216.56,564.06 L216.94,564.37 L217.32,564.83 L217.69,565.40 L218.07,566.02 L218.44,566.69 L218.82,567.46 L219.20,568.36 L219.57,569.41 L219.95,570.64 L220.32,572.06 L220.70,573.72 L221.08,575.60 L221.45,577.64 L221.83,579.83 L222.20,582.30 L222.58,584.98 L222.96,587.69 L223.33,590.26 L223.71,592.75 L224.08,595.20 L224.46,597.62 L224.84,600.02 L225.21,602.41 L225.59,604.78 L225.96,607.16 L226.34,609.57 L226.72,611.95 L227.09,614.25 L227.47,616.43 L227.84,618.58 L228.22,620.68 L228.60,622.68 L228.97,624.56 L229.35,626.29 L229.72,627.91 L230.10,629.44 L230.48,630.90 L230.85,632.29 L231.23,633.63 L231.60,634.93 L231.98,636.20 L232.36,637.41 L232.73,638.50 L233.11,639.43 L233.48,640.29 L233.86,641.03 L234.24,641.59 L234.61,642.05 L234.99,642.40 L235.36,642.49 L235.74,642.17 L236.12,641.59 L236.49,640.94 L236.87,640.05 L237.24,638.95 L237.62,637.74 L238.00,636.35 L238.37,634.76 L238.75,633.04 L239.12,631.25 L239.50,629.42 L239.88,627.51 L240.25,625.51 L240.63,623.41 L241.00,621.18 L241.38,618.82 L241.76,616.26 L242.13,613.49 L242.51,610.55 L242.88,607.50 L243.26,604.38 L243.64,601.16 L244.01,597.77 L244.39,594.27 L244.76,590.76 L245.14,587.28 L245.52,583.78 L245.89,580.24 L246.27,576.65 L246.64,573.02 L247.02,569.33 L247.40,565.56 L247.77,561.57 L248.15,557.47 L248.52,553.52 L248.90,549.96 L249.28,546.68 L249.65,543.60 L250.03,540.79 L250.40,538.31 L250.78,536.15 L251.16,534.24 L251.53,532.58 L251.91,531.10 L252.28,529.80 L252.66,528.61 L253.04,527.47 L253.41,526.45 L253.79,525.61 L254.16,524.99 L254.54,524.47 L254.92,524.02 L255.29,523.65 L255.67,523.31 L256.04,522.97 L256.42,522.65 L256.80,522.37 L257.17,522.13 L257.55,521.95 L257.92,521.84 L258.30,521.82 L258.68,521.87 L259.05,521.97 L259.43,522.11 L259.80,522.28 L260.18,522.46 L260.56,522.65 L260.93,522.90 L261.31,523.22 L261.68,523.64 L262.06,524.20 L262.44,524.99 L262.81,525.94 L263.19,526.98 L263.56,528.07 L263.94,529.33 L264.32,530.78 L264.69,532.44 L265.07,534.38 L265.44,536.60 L265.82,539.18 L266.20,542.08 L266.57,545.23 L266.95,548.58 L267.32,552.35 L267.70,556.43 L268.08,560.55 L268.45,564.46 L268.83,568.23 L269.20,571.94 L269.58,575.62 L269.96,579.24 L270.33,582.84 L270.71,586.41 L271.08,590.00 L271.46,593.62 L271.84,597.19 L272.21,600.62 L272.59,603.89 L272.96,607.10 L273.34,610.23 L273.72,613.21 L274.09,616.01 L274.47,618.58 L274.84,620.99 L275.22,623.26 L275.60,625.43 L275.97,627.49 L276.35,629.47 L276.72,631.38 L277.10,633.26 L277.48,635.04 L277.85,636.64 L278.23,638.01 L278.60,639.27 L278.98,640.35 L279.36,641.16 L279.73,641.84 L280.11,642.35 L280.48,642.48 L280.86,642.10 L281.24,641.42 L281.61,640.64 L281.99,639.59 L282.36,638.29 L282.74,636.86 L283.12,635.22 L283.49,633.34 L283.87,631.31 L284.24,629.20 L284.62,627.05 L285.00,624.81 L285.37,622.46 L285.75,619.99 L286.12,617.39 L286.50,614.62 L286.88,611.63 L287.25,608.39 L287.63,604.97 L288.00,601.42 L288.38,597.78 L288.76,594.04 L289.13,590.09 L289.51,586.03 L289.88,581.97 L290.26,577.94 L290.64,573.89 L291.01,569.81 L291.39,565.67 L291.76,561.49 L292.14,557.25 L292.52,552.92 L292.89,548.33 L293.27,543.62 L293.64,539.10 L294.02,535.04 L294.40,531.31 L294.77,527.81 L295.15,524.63 L295.52,521.85 L295.90,519.42 L296.28,517.30 L296.65,515.46 L297.03,513.84 L297.40,512.43 L297.78,511.14 L298.16,509.92 L298.53,508.83 L298.91,507.96 L299.28,507.33 L299.66,506.82 L300.04,506.40 L300.41,506.07 L300.79,505.77 L301.16,505.48 L301.54,505.21 L301.92,504.97 L302.29,504.79 L302.67,504.68 L303.04,504.65 L303.42,504.72 L303.80,504.87 L304.17,505.08 L304.55,505.33 L304.92,505.62 L305.30,505.91 L305.68,506.22 L306.05,506.59 L306.43,507.06 L306.80,507.61 L307.18,508.35 L307.56,509.33 L307.93,510.49 L308.31,511.76 L308.68,513.08 L309.06,514.59 L309.44,516.31 L309.81,518.28 L310.19,520.54 L310.56,523.13 L310.94,526.12 L311.32,529.46 L311.69,533.08 L312.07,536.92 L312.44,541.23 L312.82,545.88 L313.20,550.56 L313.57,555.01 L313.95,559.29 L314.32,563.50 L314.70,567.67 L315.08,571.77 L315.45,575.84 L315.83,579.87 L316.20,583.91 L316.58,587.99 L316.96,592.01 L317.33,595.87 L317.71,599.53 L318.08,603.14 L318.46,606.63 L318.84,609.97 L319.21,613.10 L319.59,615.97 L319.96,618.66 L320.34,621.19 L320.72,623.60 L321.09,625.90 L321.47,628.09 L321.84,630.22 L322.22,632.30 L322.60,634.27 L322.97,636.04 L323.35,637.56 L323.72,638.94 L324.10,640.13 L324.48,641.03 L324.85,641.77 L325.23,642.34 L325.60,642.48 L325.98,642.14 L326.36,641.52 L326.73,640.81 L327.11,639.86 L327.48,638.68 L327.86,637.38 L328.24,635.90 L328.61,634.20 L328.99,632.36 L329.36,630.47 L329.74,628.53 L330.12,626.51 L330.49,624.40 L330.87,622.19 L331.24,619.85 L331.62,617.38 L332.00,614.69 L332.37,611.80 L332.75,608.74 L333.12,605.57 L333.50,602.33 L333.88,599.00 L334.25,595.49 L334.63,591.88 L335.00,588.27 L335.38,584.70 L335.76,581.12 L336.13,577.51 L336.51,573.86 L336.88,570.17 L337.26,566.43 L337.64,562.62 L338.01,558.59 L338.39,554.45 L338.76,550.49 L339.14,546.94 L339.52,543.69 L339.89,540.65 L340.27,537.89 L340.64,535.49 L341.02,533.41 L341.40,531.61 L341.77,530.06 L342.15,528.70 L342.52,527.53 L342.90,526.47 L343.28,525.47 L343.65,524.59 L344.03,523.90 L344.40,523.43 L344.78,523.06 L345.16,522.77 L345.53,522.56 L345.91,522.38 L346.28,522.20 L346.66,522.04 L347.04,521.92 L347.41,521.84 L347.79,521.82 L348.16,521.88 L348.54,522.03 L348.92,522.24 L349.29,522.50 L349.67,522.80 L350.04,523.13 L350.42,523.47 L350.80,523.82 L351.17,524.22 L351.55,524.71 L351.92,525.27 L352.30,525.99 L352.68,526.92 L353.05,528.01 L353.43,529.18 L353.80,530.40 L354.18,531.79 L354.56,533.35 L354.93,535.12 L355.31,537.15 L355.68,539.46 L356.06,542.10 L356.44,545.05 L356.81,548.24 L357.19,551.60 L357.56,555.38 L357.94,559.43 L358.32,563.51 L358.69,567.39 L359.07,571.11 L359.44,574.77 L359.82,578.38 L360.20,581.94 L360.57,585.46 L360.95,588.95 L361.32,592.44 L361.70,595.95 L362.08,599.41 L362.45,602.73 L362.83,605.89 L363.20,608.98 L363.58,611.98 L363.96,614.84 L364.33,617.51 L364.71,619.97 L365.08,622.26 L365.46,624.43 L365.84,626.48 L366.21,628.44 L366.59,630.31 L366.96,632.11 L367.34,633.88 L367.72,635.54 L368.09,637.05 L368.47,638.33 L368.84,639.50 L369.22,640.51 L369.60,641.26 L369.97,641.89 L370.35,642.36 L370.72,642.49 L371.10,642.25 L371.48,641.83 L371.85,641.35 L372.23,640.69 L372.60,639.89 L372.98,639.00 L373.36,637.99 L373.73,636.84 L374.11,635.59 L374.48,634.31 L374.86,633.00 L375.24,631.63 L375.61,630.21 L375.99,628.71 L376.36,627.14 L376.74,625.48 L377.12,623.67 L377.49,621.73 L377.87,619.68 L378.24,617.56 L378.62,615.39 L379.00,613.16 L379.37,610.82 L379.75,608.41 L380.12,606.01 L380.50,603.64 L380.88,601.26 L381.25,598.87 L381.63,596.46 L382.00,594.02 L382.38,591.56 L382.76,589.05 L383.13,586.40 L383.51,583.68 L383.88,581.08 L384.26,578.76 L384.64,576.64 L385.01,574.67 L385.39,572.89 L385.76,571.35 L386.14,570.03 L386.52,568.88 L386.89,567.91 L387.27,567.07 L387.64,566.36 L388.02,565.72 L388.40,565.12 L388.77,564.60 L389.15,564.20 L389.52,563.95 L389.90,563.77 L390.28,563.65 L390.65,563.57 L391.03,563.51 L391.40,563.46 L391.78,563.42 L392.16,563.40 L392.53,563.42 L392.91,563.47 L393.28,563.57 L393.66,563.73 L394.04,563.93 L394.41,564.16 L394.79,564.42 L395.16,564.70 L395.54,564.98 L395.92,565.27 L396.29,565.60 L396.67,565.97 L397.04,566.40 L397.42,566.93 L397.80,567.60 L398.17,568.36 L398.55,569.18 L398.92,570.03 L399.30,570.98 L399.68,572.05 L400.05,573.25 L400.43,574.61 L400.80,576.15 L401.18,577.91 L401.56,579.86 L401.93,581.95 L402.31,584.16 L402.68,586.63 L403.06,589.28 L403.44,591.93 L403.81,594.45 L404.19,596.87 L404.56,599.25 L404.94,601.59 L405.32,603.89 L405.69,606.16 L406.07,608.41 L406.44,610.66 L406.82,612.92 L407.20,615.14 L407.57,617.27 L407.95,619.29 L408.32,621.27 L408.70,623.18 L409.08,625.01 L409.45,626.71 L409.83,628.28 L410.20,629.74 L410.58,631.11 L410.96,632.41 L411.33,633.65 L411.71,634.84 L412.08,635.97 L412.46,637.09 L412.84,638.14 L413.21,639.08 L413.59,639.89 L413.96,640.62 L414.34,641.25 L414.72,641.73 L415.09,642.12 L415.47,642.42 L415.84,642.49 L416.22,642.38 L416.60,642.18 L416.97,641.95 L417.35,641.64 L417.72,641.26 L418.10,640.85 L418.48,640.37 L418.85,639.83 L419.23,639.24 L419.60,638.64 L419.98,638.03 L420.36,637.39 L420.73,636.73 L421.11,636.04 L421.48,635.31 L421.86,634.54 L422.24,633.70 L422.61,632.81 L422.99,631.86 L423.36,630.88 L423.74,629.89 L424.12,628.87 L424.49,627.80 L424.87,626.70 L425.24,625.60 L425.62,624.53 L426.00,623.45 L426.37,622.37 L426.75,621.28 L427.12,620.18 L427.50,619.08 L427.88,617.95 L428.25,616.76 L428.63,615.55 L429.00,614.39 L429.38,613.36 L429.76,612.43 L430.13,611.56 L430.51,610.79 L430.88,610.12 L431.26,609.56 L431.64,609.08 L432.01,608.68 L432.39,608.34 L432.76,608.06 L433.14,607.81 L433.52,607.58 L433.89,607.39 L434.27,607.25 L434.64,607.18 L435.02,607.14 L435.40,607.13 L435.77,607.13 L436.15,607.15 L436.52,607.17 L436.90,607.19 L437.28,607.23 L437.65,607.28 L438.03,607.34 L438.40,607.43 L438.78,607.54 L439.16,607.67 L439.53,607.82 L439.91,607.98 L440.28,608.14 L440.66,608.31 L441.04,608.48 L441.41,608.66 L441.79,608.87 L442.16,609.10 L442.54,609.37 L442.92,609.70 L443.29,610.08 L443.67,610.47 L444.04,610.88 L444.42,611.34 L444.80,611.84 L445.17,612.40 L445.55,613.03 L445.92,613.73 L446.30,614.53 L446.68,615.41 L447.05,616.35 L447.43,617.33 L447.80,618.43 L448.18,619.60 L448.56,620.77 L448.93,621.88 L449.31,622.94 L449.68,623.98 L450.06,625.00 L450.44,626.01 L450.81,627.00 L451.19,627.98 L451.56,628.95 L451.94,629.93 L452.32,630.89 L452.69,631.81 L453.07,632.68 L453.44,633.52 L453.82,634.34 L454.20,635.12 L454.57,635.85 L454.95,636.52 L455.32,637.14 L455.70,637.72 L456.08,638.27 L456.45,638.80 L456.83,639.30 L457.20,639.78 L457.58,640.24 L457.96,640.68 L458.33,641.08 L458.71,641.42 L459.08,641.72 L459.46,641.98 L459.84,642.18 L460.21,642.34 L460.59,642.47 L460.96,642.50 L461.34,642.47 L461.72,642.42 L462.09,642.36 L462.47,642.29 L462.84,642.19 L463.22,642.09 L463.60,641.97 L463.97,641.84 L464.35,641.70 L464.72,641.55 L465.10,641.41 L465.48,641.25 L465.85,641.09 L466.23,640.93 L466.60,640.76 L466.98,640.57 L467.36,640.38 L467.73,640.17 L468.11,639.95 L468.48,639.72 L468.86,639.49 L469.24,639.25 L469.61,639.01 L469.99,638.76 L470.36,638.51 L470.74,638.26 L471.12,638.02 L471.49,637.78 L471.87,637.54 L472.24,637.30 L472.62,637.05 L473.00,636.80 L473.37,636.54 L473.75,636.28 L474.12,636.03 L474.50,635.81 L474.88,635.62 L475.25,635.44 L475.63,635.28 L476.00,635.15 L476.38,635.04 L476.76,634.95 L477.13,634.88 L477.51,634.83 L477.88,634.79 L478.26,634.75 L478.64,634.72 L479.01,634.70 L479.39,634.69 L479.76,634.71 L480.14,634.74 L480.52,634.80 L480.89,634.88 L481.27,634.97 L481.64,635.07 L482.02,635.19 L482.40,635.32 L482.77,635.46 L483.15,635.62 L483.52,635.79 L483.90,635.97 L484.28,636.16 L484.65,636.36 L485.03,636.56 L485.40,636.77 L485.78,636.99 L486.16,637.21 L486.53,637.43 L486.91,637.65 L487.28,637.88 L487.66,638.12 L488.04,638.36 L488.41,638.60 L488.79,638.84 L489.16,639.08 L489.54,639.32 L489.92,639.55 L490.29,639.78 L490.67,640.01 L491.04,640.24 L491.42,640.46 L491.80,640.68 L492.17,640.88 L492.55,641.08 L492.92,641.26 L493.30,641.44 L493.68,641.60 L494.05,641.74 L494.43,641.86 L494.80,641.97 L495.18,642.07 L495.56,642.16 L495.93,642.23 L496.31,642.29 L496.68,642.35 L497.06,642.39 L497.44,642.42 L497.81,642.45 L498.19,642.47 L498.56,642.49 L498.94,642.49 L499.32,642.50 L499.69,642.50 L500.07,642.50 L500.44,642.50 L500.82,642.50 L501.20,642.50 L501.57,642.50 L501.95,642.50 L502.32,642.50 L502.70,642.50 L503.08,642.50 L503.45,642.50 L503.83,642.50 L504.20,642.50 L504.58,642.50 L504.96,642.50 L505.33,642.50 L505.71,642.50 L506.08,642.50 L506.46,642.50 L506.84,642.50 L507.21,642.50 L507.59,642.50 L507.96,642.50 L508.34,642.50 L508.72,642.50 L509.09,642.50 L509.47,642.50 L509.84,642.50 L510.22,642.50 L510.60,642.50 L510.97,642.50 L511.35,642.50 L511.72,642.50 L512.10,642.50 L512.48,642.50 L512.85,642.50 L513.23,642.50 L513.60,642.50 L513.98,642.50 L514.36,642.50 L514.73,642.50 L515.11,642.50 L515.48,642.50 L515.86,642.50 L516.24,642.50 L516.61,642.50 L516.99,642.50 L517.36,642.50 L517.74,642.50 L518.12,642.50 L518.49,642.50 L518.87,642.50 L519.24,642.50 L519.62,642.50 L520.00,642.50 L520.37,642.50 L520.75,642.50 L521.12,642.50 L521.50,642.50 L521.88,642.50 L522.25,642.50 L522.63,642.50 L523.00,642.50 L523.38,642.50 L523.76,642.50 L524.13,642.50 L524.51,642.50 L524.88,642.50 L525.26,642.50 L525.64,642.50 L526.01,642.50 L526.39,642.50 L526.76,642.50 L527.14,642.50 L527.52,642.50 L527.89,642.50 L528.27,642.50 L528.64,642.50 L529.02,642.50 L529.40,642.50 L529.77,642.50 L530.15,642.50 L530.52,642.50 L530.90,642.50" fill="none" stroke="#e0615a" stroke-width="2.3" stroke-linejoin="round" stroke-linecap="butt"/><path d="M79.70,642.50 L80.08,642.50 L80.45,642.50 L80.83,642.50 L81.20,642.50 L81.58,642.50 L81.96,642.50 L82.33,642.50 L82.71,642.50 L83.08,642.50 L83.46,642.50 L83.84,642.50 L84.21,642.50 L84.59,642.50 L84.96,642.50 L85.34,642.50 L85.72,642.50 L86.09,642.50 L86.47,642.50 L86.84,642.50 L87.22,642.50 L87.60,642.50 L87.97,642.50 L88.35,642.50 L88.72,642.50 L89.10,642.50 L89.48,642.50 L89.85,642.50 L90.23,642.50 L90.60,642.50 L90.98,642.50 L91.36,642.50 L91.73,642.50 L92.11,642.50 L92.48,642.50 L92.86,642.50 L93.24,642.50 L93.61,642.50 L93.99,642.50 L94.36,642.50 L94.74,642.50 L95.12,642.50 L95.49,642.50 L95.87,642.50 L96.24,642.50 L96.62,642.50 L97.00,642.50 L97.37,642.50 L97.75,642.50 L98.12,642.50 L98.50,642.50 L98.88,642.50 L99.25,642.50 L99.63,642.50 L100.00,642.50 L100.38,642.50 L100.76,642.50 L101.13,642.50 L101.51,642.50 L101.88,642.50 L102.26,642.50 L102.64,642.50 L103.01,642.50 L103.39,642.50 L103.76,642.50 L104.14,642.50 L104.52,642.50 L104.89,642.50 L105.27,642.50 L105.64,642.50 L106.02,642.50 L106.40,642.50 L106.77,642.50 L107.15,642.50 L107.52,642.50 L107.90,642.50 L108.28,642.50 L108.65,642.50 L109.03,642.50 L109.40,642.50 L109.78,642.50 L110.16,642.50 L110.53,642.50 L110.91,642.50 L111.28,642.50 L111.66,642.49 L112.04,642.49 L112.41,642.47 L112.79,642.45 L113.16,642.42 L113.54,642.39 L113.92,642.35 L114.29,642.29 L114.67,642.23 L115.04,642.16 L115.42,642.07 L115.80,641.97 L116.17,641.86 L116.55,641.74 L116.92,641.60 L117.30,641.44 L117.68,641.26 L118.05,641.08 L118.43,640.88 L118.80,640.68 L119.18,640.46 L119.56,640.24 L119.93,640.01 L120.31,639.78 L120.68,639.55 L121.06,639.32 L121.44,639.08 L121.81,638.84 L122.19,638.60 L122.56,638.36 L122.94,638.12 L123.32,637.88 L123.69,637.65 L124.07,637.43 L124.44,637.21 L124.82,636.99 L125.20,636.77 L125.57,636.56 L125.95,636.36 L126.32,636.16 L126.70,635.97 L127.08,635.79 L127.45,635.62 L127.83,635.46 L128.20,635.32 L128.58,635.19 L128.96,635.07 L129.33,634.97 L129.71,634.88 L130.08,634.80 L130.46,634.74 L130.84,634.71 L131.21,634.69 L131.59,634.70 L131.96,634.72 L132.34,634.75 L132.72,634.79 L133.09,634.83 L133.47,634.88 L133.84,634.95 L134.22,635.04 L134.60,635.15 L134.97,635.28 L135.35,635.44 L135.72,635.62 L136.10,635.81 L136.48,636.03 L136.85,636.28 L137.23,636.54 L137.60,636.80 L137.98,637.05 L138.36,637.30 L138.73,637.54 L139.11,637.78 L139.48,638.02 L139.86,638.26 L140.24,638.51 L140.61,638.76 L140.99,639.01 L141.36,639.25 L141.74,639.49 L142.12,639.72 L142.49,639.95 L142.87,640.17 L143.24,640.38 L143.62,640.57 L144.00,640.76 L144.37,640.93 L144.75,641.09 L145.12,641.25 L145.50,641.41 L145.88,641.55 L146.25,641.70 L146.63,641.84 L147.00,641.97 L147.38,642.09 L147.76,642.19 L148.13,642.29 L148.51,642.36 L148.88,642.42 L149.26,642.47 L149.64,642.50 L150.01,642.47 L150.39,642.34 L150.76,642.18 L151.14,641.98 L151.52,641.72 L151.89,641.42 L152.27,641.08 L152.64,640.68 L153.02,640.24 L153.40,639.78 L153.77,639.30 L154.15,638.80 L154.52,638.27 L154.90,637.72 L155.28,637.14 L155.65,636.52 L156.03,635.85 L156.40,635.12 L156.78,634.34 L157.16,633.52 L157.53,632.68 L157.91,631.81 L158.28,630.89 L158.66,629.93 L159.04,628.95 L159.41,627.98 L159.79,627.00 L160.16,626.01 L160.54,625.00 L160.92,623.98 L161.29,622.94 L161.67,621.88 L162.04,620.77 L162.42,619.60 L162.80,618.43 L163.17,617.33 L163.55,616.35 L163.92,615.41 L164.30,614.53 L164.68,613.73 L165.05,613.03 L165.43,612.40 L165.80,611.84 L166.18,611.34 L166.56,610.88 L166.93,610.47 L167.31,610.08 L167.68,609.70 L168.06,609.37 L168.44,609.10 L168.81,608.87 L169.19,608.66 L169.56,608.48 L169.94,608.31 L170.32,608.14 L170.69,607.98 L171.07,607.82 L171.44,607.67 L171.82,607.54 L172.20,607.43 L172.57,607.34 L172.95,607.28 L173.32,607.23 L173.70,607.19 L174.08,607.17 L174.45,607.15 L174.83,607.13 L175.20,607.13 L175.58,607.14 L175.96,607.18 L176.33,607.25 L176.71,607.39 L177.08,607.58 L177.46,607.81 L177.84,608.06 L178.21,608.34 L178.59,608.68 L178.96,609.08 L179.34,609.56 L179.72,610.12 L180.09,610.79 L180.47,611.56 L180.84,612.43 L181.22,613.36 L181.60,614.39 L181.97,615.55 L182.35,616.76 L182.72,617.95 L183.10,619.08 L183.48,620.18 L183.85,621.28 L184.23,622.37 L184.60,623.45 L184.98,624.53 L185.36,625.60 L185.73,626.70 L186.11,627.80 L186.48,628.87 L186.86,629.89 L187.24,630.88 L187.61,631.86 L187.99,632.81 L188.36,633.70 L188.74,634.54 L189.12,635.31 L189.49,636.04 L189.87,636.73 L190.24,637.39 L190.62,638.03 L191.00,638.64 L191.37,639.24 L191.75,639.83 L192.12,640.37 L192.50,640.85 L192.88,641.26 L193.25,641.64 L193.63,641.95 L194.00,642.18 L194.38,642.38 L194.76,642.49 L195.13,642.42 L195.51,642.12 L195.88,641.73 L196.26,641.25 L196.64,640.62 L197.01,639.89 L197.39,639.08 L197.76,638.14 L198.14,637.09 L198.52,635.97 L198.89,634.84 L199.27,633.65 L199.64,632.41 L200.02,631.11 L200.40,629.74 L200.77,628.28 L201.15,626.71 L201.52,625.01 L201.90,623.18 L202.28,621.27 L202.65,619.29 L203.03,617.27 L203.40,615.14 L203.78,612.92 L204.16,610.66 L204.53,608.41 L204.91,606.16 L205.28,603.89 L205.66,601.59 L206.04,599.25 L206.41,596.87 L206.79,594.45 L207.16,591.93 L207.54,589.28 L207.92,586.63 L208.29,584.16 L208.67,581.95 L209.04,579.86 L209.42,577.91 L209.80,576.15 L210.17,574.61 L210.55,573.25 L210.92,572.05 L211.30,570.98 L211.68,570.03 L212.05,569.18 L212.43,568.36 L212.80,567.60 L213.18,566.93 L213.56,566.40 L213.93,565.97 L214.31,565.60 L214.68,565.27 L215.06,564.98 L215.44,564.70 L215.81,564.42 L216.19,564.16 L216.56,563.93 L216.94,563.73 L217.32,563.57 L217.69,563.47 L218.07,563.42 L218.44,563.40 L218.82,563.42 L219.20,563.46 L219.57,563.51 L219.95,563.57 L220.32,563.65 L220.70,563.77 L221.08,563.95 L221.45,564.20 L221.83,564.60 L222.20,565.12 L222.58,565.72 L222.96,566.36 L223.33,567.07 L223.71,567.91 L224.08,568.88 L224.46,570.03 L224.84,571.35 L225.21,572.89 L225.59,574.67 L225.96,576.64 L226.34,578.76 L226.72,581.08 L227.09,583.68 L227.47,586.40 L227.84,589.05 L228.22,591.56 L228.60,594.02 L228.97,596.46 L229.35,598.87 L229.72,601.26 L230.10,603.64 L230.48,606.01 L230.85,608.41 L231.23,610.82 L231.60,613.16 L231.98,615.39 L232.36,617.56 L232.73,619.68 L233.11,621.73 L233.48,623.67 L233.86,625.48 L234.24,627.14 L234.61,628.71 L234.99,630.21 L235.36,631.63 L235.74,633.00 L236.12,634.31 L236.49,635.59 L236.87,636.84 L237.24,637.99 L237.62,639.00 L238.00,639.89 L238.37,640.69 L238.75,641.35 L239.12,641.83 L239.50,642.25 L239.88,642.49 L240.25,642.36 L240.63,641.89 L241.00,641.26 L241.38,640.51 L241.76,639.50 L242.13,638.33 L242.51,637.05 L242.88,635.54 L243.26,633.88 L243.64,632.11 L244.01,630.31 L244.39,628.44 L244.76,626.48 L245.14,624.43 L245.52,622.26 L245.89,619.97 L246.27,617.51 L246.64,614.84 L247.02,611.98 L247.40,608.98 L247.77,605.89 L248.15,602.73 L248.52,599.41 L248.90,595.95 L249.28,592.44 L249.65,588.95 L250.03,585.46 L250.40,581.94 L250.78,578.38 L251.16,574.77 L251.53,571.11 L251.91,567.39 L252.28,563.51 L252.66,559.43 L253.04,555.38 L253.41,551.60 L253.79,548.24 L254.16,545.05 L254.54,542.10 L254.92,539.46 L255.29,537.15 L255.67,535.12 L256.04,533.35 L256.42,531.79 L256.80,530.40 L257.17,529.18 L257.55,528.01 L257.92,526.92 L258.30,525.99 L258.68,525.27 L259.05,524.71 L259.43,524.22 L259.80,523.82 L260.18,523.47 L260.56,523.13 L260.93,522.80 L261.31,522.50 L261.68,522.24 L262.06,522.03 L262.44,521.88 L262.81,521.82 L263.19,521.84 L263.56,521.92 L263.94,522.04 L264.32,522.20 L264.69,522.38 L265.07,522.56 L265.44,522.77 L265.82,523.06 L266.20,523.43 L266.57,523.90 L266.95,524.59 L267.32,525.47 L267.70,526.47 L268.08,527.53 L268.45,528.70 L268.83,530.06 L269.20,531.61 L269.58,533.41 L269.96,535.49 L270.33,537.89 L270.71,540.65 L271.08,543.69 L271.46,546.94 L271.84,550.49 L272.21,554.45 L272.59,558.59 L272.96,562.62 L273.34,566.43 L273.72,570.17 L274.09,573.86 L274.47,577.51 L274.84,581.12 L275.22,584.70 L275.60,588.27 L275.97,591.88 L276.35,595.49 L276.72,599.00 L277.10,602.33 L277.48,605.57 L277.85,608.74 L278.23,611.80 L278.60,614.69 L278.98,617.38 L279.36,619.85 L279.73,622.19 L280.11,624.40 L280.48,626.51 L280.86,628.53 L281.24,630.47 L281.61,632.36 L281.99,634.20 L282.36,635.90 L282.74,637.38 L283.12,638.68 L283.49,639.86 L283.87,640.81 L284.24,641.52 L284.62,642.14 L285.00,642.48 L285.37,642.34 L285.75,641.77 L286.12,641.03 L286.50,640.13 L286.88,638.94 L287.25,637.56 L287.63,636.04 L288.00,634.27 L288.38,632.30 L288.76,630.22 L289.13,628.09 L289.51,625.90 L289.88,623.60 L290.26,621.19 L290.64,618.66 L291.01,615.97 L291.39,613.10 L291.76,609.97 L292.14,606.63 L292.52,603.14 L292.89,599.53 L293.27,595.87 L293.64,592.01 L294.02,587.99 L294.40,583.91 L294.77,579.87 L295.15,575.84 L295.52,571.77 L295.90,567.67 L296.28,563.50 L296.65,559.29 L297.03,555.01 L297.40,550.56 L297.78,545.88 L298.16,541.23 L298.53,536.92 L298.91,533.08 L299.28,529.46 L299.66,526.12 L300.04,523.13 L300.41,520.54 L300.79,518.28 L301.16,516.31 L301.54,514.59 L301.92,513.08 L302.29,511.76 L302.67,510.49 L303.04,509.33 L303.42,508.35 L303.80,507.61 L304.17,507.06 L304.55,506.59 L304.92,506.22 L305.30,505.91 L305.68,505.62 L306.05,505.33 L306.43,505.08 L306.80,504.87 L307.18,504.72 L307.56,504.65 L307.93,504.68 L308.31,504.79 L308.68,504.97 L309.06,505.21 L309.44,505.48 L309.81,505.77 L310.19,506.07 L310.56,506.40 L310.94,506.82 L311.32,507.33 L311.69,507.96 L312.07,508.83 L312.44,509.92 L312.82,511.14 L313.20,512.43 L313.57,513.84 L313.95,515.46 L314.32,517.30 L314.70,519.42 L315.08,521.85 L315.45,524.63 L315.83,527.81 L316.20,531.31 L316.58,535.04 L316.96,539.10 L317.33,543.62 L317.71,548.33 L318.08,552.92 L318.46,557.25 L318.84,561.49 L319.21,565.67 L319.59,569.81 L319.96,573.89 L320.34,577.94 L320.72,581.97 L321.09,586.03 L321.47,590.09 L321.84,594.04 L322.22,597.78 L322.60,601.42 L322.97,604.97 L323.35,608.39 L323.72,611.63 L324.10,614.62 L324.48,617.39 L324.85,619.99 L325.23,622.46 L325.60,624.81 L325.98,627.05 L326.36,629.20 L326.73,631.31 L327.11,633.34 L327.48,635.22 L327.86,636.86 L328.24,638.29 L328.61,639.59 L328.99,640.64 L329.36,641.42 L329.74,642.10 L330.12,642.48 L330.49,642.35 L330.87,641.84 L331.24,641.16 L331.62,640.35 L332.00,639.27 L332.37,638.01 L332.75,636.64 L333.12,635.04 L333.50,633.26 L333.88,631.38 L334.25,629.47 L334.63,627.49 L335.00,625.43 L335.38,623.26 L335.76,620.99 L336.13,618.58 L336.51,616.01 L336.88,613.21 L337.26,610.23 L337.64,607.10 L338.01,603.89 L338.39,600.62 L338.76,597.19 L339.14,593.62 L339.52,590.00 L339.89,586.41 L340.27,582.84 L340.64,579.24 L341.02,575.62 L341.40,571.94 L341.77,568.23 L342.15,564.46 L342.52,560.55 L342.90,556.43 L343.28,552.35 L343.65,548.58 L344.03,545.23 L344.40,542.08 L344.78,539.18 L345.16,536.60 L345.53,534.38 L345.91,532.44 L346.28,530.78 L346.66,529.33 L347.04,528.07 L347.41,526.98 L347.79,525.94 L348.16,524.99 L348.54,524.20 L348.92,523.64 L349.29,523.22 L349.67,522.90 L350.04,522.65 L350.42,522.46 L350.80,522.28 L351.17,522.11 L351.55,521.97 L351.92,521.87 L352.30,521.82 L352.68,521.84 L353.05,521.95 L353.43,522.13 L353.80,522.37 L354.18,522.65 L354.56,522.97 L354.93,523.31 L355.31,523.65 L355.68,524.02 L356.06,524.47 L356.44,524.99 L356.81,525.61 L357.19,526.45 L357.56,527.47 L357.94,528.61 L358.32,529.80 L358.69,531.10 L359.07,532.58 L359.44,534.24 L359.82,536.15 L360.20,538.31 L360.57,540.79 L360.95,543.60 L361.32,546.68 L361.70,549.96 L362.08,553.52 L362.45,557.47 L362.83,561.57 L363.20,565.56 L363.58,569.33 L363.96,573.02 L364.33,576.65 L364.71,580.24 L365.08,583.78 L365.46,587.28 L365.84,590.76 L366.21,594.27 L366.59,597.77 L366.96,601.16 L367.34,604.38 L367.72,607.50 L368.09,610.55 L368.47,613.49 L368.84,616.26 L369.22,618.82 L369.60,621.18 L369.97,623.41 L370.35,625.51 L370.72,627.51 L371.10,629.42 L371.48,631.25 L371.85,633.04 L372.23,634.76 L372.60,636.35 L372.98,637.74 L373.36,638.95 L373.73,640.05 L374.11,640.94 L374.48,641.59 L374.86,642.17 L375.24,642.49 L375.61,642.40 L375.99,642.05 L376.36,641.59 L376.74,641.03 L377.12,640.29 L377.49,639.43 L377.87,638.50 L378.24,637.41 L378.62,636.20 L379.00,634.93 L379.37,633.63 L379.75,632.29 L380.12,630.90 L380.50,629.44 L380.88,627.91 L381.25,626.29 L381.63,624.56 L382.00,622.68 L382.38,620.68 L382.76,618.58 L383.13,616.43 L383.51,614.25 L383.88,611.95 L384.26,609.57 L384.64,607.16 L385.01,604.78 L385.39,602.41 L385.76,600.02 L386.14,597.62 L386.52,595.20 L386.89,592.75 L387.27,590.26 L387.64,587.69 L388.02,584.98 L388.40,582.30 L388.77,579.83 L389.15,577.64 L389.52,575.60 L389.90,573.72 L390.28,572.06 L390.65,570.64 L391.03,569.41 L391.40,568.36 L391.78,567.46 L392.16,566.69 L392.53,566.02 L392.91,565.40 L393.28,564.83 L393.66,564.37 L394.04,564.06 L394.41,563.85 L394.79,563.70 L395.16,563.60 L395.54,563.54 L395.92,563.49 L396.29,563.44 L396.67,563.41 L397.04,563.40 L397.42,563.44 L397.80,563.51 L398.17,563.65 L398.55,563.83 L398.92,564.05 L399.30,564.30 L399.68,564.57 L400.05,564.85 L400.43,565.13 L400.80,565.44 L401.18,565.79 L401.56,566.19 L401.93,566.66 L402.31,567.26 L402.68,567.98 L403.06,568.78 L403.44,569.61 L403.81,570.51 L404.19,571.52 L404.56,572.65 L404.94,573.94 L405.32,575.39 L405.69,577.04 L406.07,578.90 L406.44,580.93 L406.82,583.09 L407.20,585.42 L407.57,588.00 L407.95,590.67 L408.32,593.27 L408.70,595.72 L409.08,598.11 L409.45,600.47 L409.83,602.79 L410.20,605.07 L410.58,607.33 L410.96,609.58 L411.33,611.84 L411.71,614.08 L412.08,616.26 L412.46,618.33 L412.84,620.32 L413.21,622.27 L413.59,624.15 L413.96,625.91 L414.34,627.54 L414.72,629.05 L415.09,630.46 L415.47,631.80 L415.84,633.07 L416.22,634.27 L416.60,635.43 L416.97,636.56 L417.35,637.64 L417.72,638.65 L418.10,639.52 L418.48,640.28 L418.85,640.97 L419.23,641.52 L419.60,641.93 L419.98,642.29 L420.36,642.49 L420.73,642.45 L421.11,642.28 L421.48,642.07 L421.86,641.80 L422.24,641.45 L422.61,641.05 L422.99,640.61 L423.36,640.10 L423.74,639.53 L424.12,638.93 L424.49,638.33 L424.87,637.70 L425.24,637.05 L425.62,636.37 L426.00,635.66 L426.37,634.91 L426.75,634.11 L427.12,633.24 L427.50,632.32 L427.88,631.36 L428.25,630.37 L428.63,629.37 L429.00,628.32 L429.38,627.23 L429.76,626.13 L430.13,625.04 L430.51,623.97 L430.88,622.89 L431.26,621.80 L431.64,620.71 L432.01,619.61 L432.39,618.49 L432.76,617.34 L433.14,616.13 L433.52,614.93 L433.89,613.83 L434.27,612.87 L434.64,611.97 L435.02,611.15 L435.40,610.43 L435.77,609.82 L436.15,609.30 L436.52,608.86 L436.90,608.50 L437.28,608.19 L437.65,607.93 L438.03,607.69 L438.40,607.47 L438.78,607.31 L439.16,607.21 L439.53,607.16 L439.91,607.13 L440.28,607.13 L440.66,607.14 L441.04,607.16 L441.41,607.18 L441.79,607.21 L442.16,607.25 L442.54,607.31 L442.92,607.39 L443.29,607.49 L443.67,607.61 L444.04,607.75 L444.42,607.90 L444.80,608.06 L445.17,608.23 L445.55,608.40 L445.92,608.57 L446.30,608.77 L446.68,608.98 L447.05,609.23 L447.43,609.54 L447.80,609.89 L448.18,610.28 L448.56,610.68 L448.93,611.11 L449.31,611.59 L449.68,612.12 L450.06,612.72 L450.44,613.39 L450.81,614.14 L451.19,614.98 L451.56,615.89 L451.94,616.85 L452.32,617.89 L452.69,619.03 L453.07,620.21 L453.44,621.35 L453.82,622.43 L454.20,623.48 L454.57,624.52 L454.95,625.53 L455.32,626.53 L455.70,627.51 L456.08,628.49 L456.45,629.46 L456.83,630.43 L457.20,631.37 L457.58,632.26 L457.96,633.12 L458.33,633.96 L458.71,634.76 L459.08,635.51 L459.46,636.21 L459.84,636.85 L460.21,637.45 L460.59,638.01 L460.96,638.55 L461.34,639.06 L461.72,639.55 L462.09,640.02 L462.47,640.48 L462.84,640.90 L463.22,641.26 L463.60,641.58 L463.97,641.86 L464.35,642.10 L464.72,642.27 L465.10,642.41 L465.48,642.50 L465.85,642.49 L466.23,642.45 L466.60,642.39 L466.98,642.33 L467.36,642.24 L467.73,642.14 L468.11,642.03 L468.48,641.91 L468.86,641.77 L469.24,641.62 L469.61,641.48 L469.99,641.33 L470.36,641.17 L470.74,641.01 L471.12,640.84 L471.49,640.66 L471.87,640.47 L472.24,640.27 L472.62,640.05 L473.00,639.83 L473.37,639.60 L473.75,639.37 L474.12,639.13 L474.50,638.88 L474.88,638.63 L475.25,638.38 L475.63,638.14 L476.00,637.90 L476.38,637.65 L476.76,637.41 L477.13,637.17 L477.51,636.92 L477.88,636.67 L478.26,636.41 L478.64,636.15 L479.01,635.91 L479.39,635.71 L479.76,635.52 L480.14,635.35 L480.52,635.21 L480.89,635.09 L481.27,634.99 L481.64,634.91 L482.02,634.85 L482.40,634.80 L482.77,634.77 L483.15,634.73 L483.52,634.71 L483.90,634.69 L484.28,634.70 L484.65,634.72 L485.03,634.77 L485.40,634.84 L485.78,634.92 L486.16,635.02 L486.53,635.13 L486.91,635.25 L487.28,635.39 L487.66,635.54 L488.04,635.70 L488.41,635.88 L488.79,636.06 L489.16,636.26 L489.54,636.46 L489.92,636.67 L490.29,636.88 L490.67,637.10 L491.04,637.32 L491.42,637.54 L491.80,637.77 L492.17,638.00 L492.55,638.24 L492.92,638.49 L493.30,638.73 L493.68,638.97 L494.05,639.20 L494.43,639.44 L494.80,639.67 L495.18,639.90 L495.56,640.13 L495.93,640.35 L496.31,640.57 L496.68,640.78 L497.06,640.98 L497.44,641.17 L497.81,641.35 L498.19,641.52 L498.56,641.67 L498.94,641.80 L499.32,641.92 L499.69,642.03 L500.07,642.12 L500.44,642.20 L500.82,642.26 L501.20,642.32 L501.57,642.37 L501.95,642.41 L502.32,642.44 L502.70,642.46 L503.08,642.48 L503.45,642.49 L503.83,642.50 L504.20,642.50 L504.58,642.50 L504.96,642.50 L505.33,642.50 L505.71,642.50 L506.08,642.50 L506.46,642.50 L506.84,642.50 L507.21,642.50 L507.59,642.50 L507.96,642.50 L508.34,642.50 L508.72,642.50 L509.09,642.50 L509.47,642.50 L509.84,642.50 L510.22,642.50 L510.60,642.50 L510.97,642.50 L511.35,642.50 L511.72,642.50 L512.10,642.50 L512.48,642.50 L512.85,642.50 L513.23,642.50 L513.60,642.50 L513.98,642.50 L514.36,642.50 L514.73,642.50 L515.11,642.50 L515.48,642.50 L515.86,642.50 L516.24,642.50 L516.61,642.50 L516.99,642.50 L517.36,642.50 L517.74,642.50 L518.12,642.50 L518.49,642.50 L518.87,642.50 L519.24,642.50 L519.62,642.50 L520.00,642.50 L520.37,642.50 L520.75,642.50 L521.12,642.50 L521.50,642.50 L521.88,642.50 L522.25,642.50 L522.63,642.50 L523.00,642.50 L523.38,642.50 L523.76,642.50 L524.13,642.50 L524.51,642.50 L524.88,642.50 L525.26,642.50 L525.64,642.50 L526.01,642.50 L526.39,642.50 L526.76,642.50 L527.14,642.50 L527.52,642.50 L527.89,642.50 L528.27,642.50 L528.64,642.50 L529.02,642.50 L529.40,642.50 L529.77,642.50 L530.15,642.50 L530.52,642.50 L530.90,642.50" fill="none" stroke="#2b92d0" stroke-width="2.3" stroke-linejoin="round" stroke-linecap="butt"/><path d="M79.70,642.50 L80.08,642.50 L80.45,642.50 L80.83,642.50 L81.20,642.50 L81.58,642.50 L81.96,642.50 L82.33,642.50 L82.71,642.50 L83.08,642.50 L83.46,642.50 L83.84,642.50 L84.21,642.50 L84.59,642.50 L84.96,642.50 L85.34,642.50 L85.72,642.50 L86.09,642.50 L86.47,642.50 L86.84,642.50 L87.22,642.50 L87.60,642.50 L87.97,642.50 L88.35,642.50 L88.72,642.50 L89.10,642.50 L89.48,642.50 L89.85,642.50 L90.23,642.50 L90.60,642.50 L90.98,642.50 L91.36,642.50 L91.73,642.50 L92.11,642.50 L92.48,642.50 L92.86,642.50 L93.24,642.50 L93.61,642.50 L93.99,642.50 L94.36,642.50 L94.74,642.50 L95.12,642.50 L95.49,642.50 L95.87,642.50 L96.24,642.50 L96.62,642.50 L97.00,642.50 L97.37,642.50 L97.75,642.50 L98.12,642.50 L98.50,642.50 L98.88,642.50 L99.25,642.50 L99.63,642.50 L100.00,642.50 L100.38,642.50 L100.76,642.50 L101.13,642.50 L101.51,642.50 L101.88,642.50 L102.26,642.50 L102.64,642.50 L103.01,642.50 L103.39,642.50 L103.76,642.50 L104.14,642.50 L104.52,642.50 L104.89,642.50 L105.27,642.50 L105.64,642.50 L106.02,642.50 L106.40,642.50 L106.77,642.50 L107.15,642.50 L107.52,642.50 L107.90,642.50 L108.28,642.50 L108.65,642.50 L109.03,642.50 L109.40,642.48 L109.78,642.46 L110.16,642.43 L110.53,642.39 L110.91,642.33 L111.28,642.26 L111.66,642.17 L112.04,642.06 L112.41,641.93 L112.79,641.77 L113.16,641.60 L113.54,641.40 L113.92,641.17 L114.29,640.92 L114.67,640.64 L115.04,640.32 L115.42,639.98 L115.80,639.61 L116.17,639.23 L116.55,638.82 L116.92,638.40 L117.30,637.97 L117.68,637.53 L118.05,637.08 L118.43,636.63 L118.80,636.17 L119.18,635.71 L119.56,635.25 L119.93,634.78 L120.31,634.30 L120.68,633.84 L121.06,633.38 L121.44,632.94 L121.81,632.50 L122.19,632.07 L122.56,631.65 L122.94,631.23 L123.32,630.82 L123.69,630.42 L124.07,630.04 L124.44,629.67 L124.82,629.33 L125.20,629.00 L125.57,628.71 L125.95,628.43 L126.32,628.18 L126.70,627.96 L127.08,627.76 L127.45,627.59 L127.83,627.45 L128.20,627.35 L128.58,627.28 L128.96,627.26 L129.33,627.28 L129.71,627.33 L130.08,627.38 L130.46,627.45 L130.84,627.53 L131.21,627.64 L131.59,627.78 L131.96,627.95 L132.34,628.16 L132.72,628.42 L133.09,628.72 L133.47,629.07 L133.84,629.44 L134.22,629.87 L134.60,630.35 L134.97,630.85 L135.35,631.33 L135.72,631.79 L136.10,632.25 L136.48,632.71 L136.85,633.16 L137.23,633.62 L137.60,634.07 L137.98,634.53 L138.36,635.01 L138.73,635.48 L139.11,635.94 L139.48,636.37 L139.86,636.81 L140.24,637.23 L140.61,637.64 L140.99,638.03 L141.36,638.39 L141.74,638.73 L142.12,639.05 L142.49,639.36 L142.87,639.65 L143.24,639.94 L143.62,640.21 L144.00,640.48 L144.37,640.75 L144.75,640.99 L145.12,641.20 L145.50,641.38 L145.88,641.55 L146.25,641.69 L146.63,641.79 L147.00,641.87 L147.38,641.91 L147.76,640.68 L148.13,640.42 L148.51,640.10 L148.88,639.69 L149.26,639.16 L149.64,638.57 L150.01,637.90 L150.39,637.13 L150.76,636.27 L151.14,635.38 L151.52,634.46 L151.89,633.50 L152.27,632.49 L152.64,631.42 L153.02,630.30 L153.40,629.10 L153.77,627.81 L154.15,626.40 L154.52,624.90 L154.90,623.33 L155.28,621.71 L155.65,620.04 L156.03,618.28 L156.40,616.45 L156.78,614.59 L157.16,612.74 L157.53,610.88 L157.91,608.99 L158.28,607.08 L158.66,605.12 L159.04,603.14 L159.41,601.11 L159.79,598.97 L160.16,596.74 L160.54,594.55 L160.92,592.52 L161.29,590.68 L161.67,588.92 L162.04,587.29 L162.42,585.82 L162.80,584.52 L163.17,583.35 L163.55,582.32 L163.92,581.38 L164.30,580.54 L164.68,579.77 L165.05,579.02 L165.43,578.32 L165.80,577.71 L166.18,577.21 L166.56,576.79 L166.93,576.40 L167.31,576.05 L167.68,575.73 L168.06,575.41 L168.44,575.10 L168.81,574.80 L169.19,574.52 L169.56,574.28 L169.94,574.07 L170.32,573.91 L170.69,573.79 L171.07,573.70 L171.44,573.63 L171.82,573.58 L172.20,573.54 L172.57,573.51 L172.95,573.50 L173.32,573.53 L173.70,573.61 L174.08,573.76 L174.45,574.04 L174.83,574.42 L175.20,574.86 L175.58,575.33 L175.96,575.89 L176.33,576.56 L176.71,577.34 L177.08,578.28 L177.46,579.38 L177.84,580.69 L178.21,582.19 L178.59,583.86 L178.96,585.64 L179.34,587.65 L179.72,589.88 L180.09,592.17 L180.47,594.38 L180.84,596.50 L181.22,598.58 L181.60,600.65 L181.97,602.70 L182.35,604.74 L182.72,606.77 L183.10,608.81 L183.48,610.88 L183.85,612.94 L184.23,614.95 L184.60,616.85 L184.98,618.72 L185.36,620.56 L185.73,622.32 L186.11,623.98 L186.48,625.52 L186.86,626.96 L187.24,628.31 L187.61,629.61 L187.99,630.84 L188.36,632.03 L188.74,633.18 L189.12,634.31 L189.49,635.39 L189.87,636.39 L190.24,637.24 L190.62,638.01 L191.00,638.70 L191.37,639.24 L191.75,639.65 L192.12,640.00 L192.50,638.36 L192.88,638.09 L193.25,637.45 L193.63,636.70 L194.00,635.72 L194.38,634.46 L194.76,633.03 L195.13,631.44 L195.51,629.59 L195.88,627.56 L196.26,625.43 L196.64,623.25 L197.01,620.99 L197.39,618.61 L197.76,616.10 L198.14,613.46 L198.52,610.65 L198.89,607.62 L199.27,604.33 L199.64,600.82 L200.02,597.16 L200.40,593.39 L200.77,589.52 L201.15,585.44 L201.52,581.20 L201.90,576.91 L202.28,572.66 L202.65,568.38 L203.03,564.06 L203.40,559.68 L203.78,555.23 L204.16,550.71 L204.53,546.10 L204.91,541.25 L205.28,536.19 L205.66,531.23 L206.04,526.69 L206.41,522.56 L206.79,518.64 L207.16,515.03 L207.54,511.80 L207.92,508.97 L208.29,506.45 L208.67,504.24 L209.04,502.27 L209.42,500.51 L209.80,498.91 L210.17,497.38 L210.55,495.96 L210.92,494.75 L211.30,493.81 L211.68,493.02 L212.05,492.32 L212.43,491.72 L212.80,491.17 L213.18,490.63 L213.56,490.11 L213.93,489.61 L214.31,489.18 L214.68,488.81 L215.06,488.53 L215.44,488.35 L215.81,488.27 L216.19,488.25 L216.56,488.29 L216.94,488.37 L217.32,488.46 L217.69,488.56 L218.07,488.73 L218.44,488.98 L218.82,489.34 L219.20,489.86 L219.57,490.67 L219.95,491.69 L220.32,492.84 L220.70,494.06 L221.08,495.47 L221.45,497.11 L221.83,499.01 L222.20,501.24 L222.58,503.83 L222.96,506.86 L223.33,510.31 L223.71,514.11 L224.08,518.16 L224.46,522.69 L224.84,527.69 L225.21,532.83 L225.59,537.77 L225.96,542.49 L226.34,547.13 L226.72,551.72 L227.09,556.27 L227.47,560.78 L227.84,565.27 L228.22,569.76 L228.60,574.31 L228.97,578.83 L229.35,583.22 L229.72,587.38 L230.10,591.46 L230.48,595.44 L230.85,599.28 L231.23,602.89 L231.60,606.22 L231.98,609.32 L232.36,612.25 L232.73,615.04 L233.11,617.70 L233.48,620.25 L233.86,622.71 L234.24,625.13 L234.61,627.44 L234.99,629.57 L235.36,631.39 L235.74,633.03 L236.12,634.49 L236.49,635.63 L236.87,636.51 L237.24,637.25 L237.62,637.56 L238.00,635.43 L238.37,634.42 L238.75,633.21 L239.12,631.65 L239.50,629.64 L239.88,627.38 L240.25,624.86 L240.63,621.92 L241.00,618.70 L241.38,615.34 L241.76,611.89 L242.13,608.31 L242.51,604.57 L242.88,600.63 L243.26,596.47 L243.64,592.06 L244.01,587.31 L244.39,582.15 L244.76,576.66 L245.14,570.93 L245.52,565.04 L245.89,559.02 L246.27,552.65 L246.64,546.06 L247.02,539.40 L247.40,532.80 L247.77,526.18 L248.15,519.50 L248.52,512.74 L248.90,505.88 L249.28,498.92 L249.65,491.83 L250.03,484.38 L250.40,476.62 L250.78,469.02 L251.16,462.08 L251.53,455.80 L251.91,449.87 L252.28,444.40 L252.66,439.55 L253.04,435.32 L253.41,431.59 L253.79,428.34 L254.16,425.46 L254.54,422.91 L254.92,420.63 L255.29,418.44 L255.67,416.43 L256.04,414.75 L256.42,413.48 L256.80,412.45 L257.17,411.57 L257.55,410.83 L257.92,410.17 L258.30,409.53 L258.68,408.91 L259.05,408.35 L259.43,407.87 L259.80,407.49 L260.18,407.26 L260.56,407.17 L260.93,407.23 L261.31,407.40 L261.68,407.64 L262.06,407.95 L262.44,408.28 L262.81,408.62 L263.19,409.06 L263.56,409.63 L263.94,410.36 L264.32,411.34 L264.69,412.74 L265.07,414.46 L265.44,416.39 L265.82,418.41 L266.20,420.71 L266.57,423.36 L266.95,426.39 L267.32,429.93 L267.70,433.99 L268.08,438.70 L268.45,444.05 L268.83,449.91 L269.20,456.13 L269.58,463.06 L269.96,470.68 L270.33,478.50 L270.71,486.01 L271.08,493.18 L271.46,500.22 L271.84,507.18 L272.21,514.07 L272.59,520.88 L272.96,527.64 L273.34,534.40 L273.72,541.25 L274.09,548.04 L274.47,554.61 L274.84,560.85 L275.22,566.95 L275.60,572.90 L275.97,578.62 L276.35,584.00 L276.72,588.97 L277.10,593.58 L277.48,597.94 L277.85,602.08 L278.23,606.02 L278.60,609.80 L278.98,613.44 L279.36,617.00 L279.73,620.42 L280.11,623.55 L280.48,626.24 L280.86,628.65 L281.24,630.79 L281.61,632.47 L281.99,633.76 L282.36,634.84 L282.74,634.60 L283.12,634.09 L283.49,632.89 L283.87,631.47 L284.24,629.62 L284.62,627.25 L285.00,624.58 L285.37,621.60 L285.75,618.14 L286.12,614.35 L286.50,610.39 L286.88,606.34 L287.25,602.14 L287.63,597.75 L288.00,593.14 L288.38,588.27 L288.76,583.12 L289.13,577.57 L289.51,571.54 L289.88,565.14 L290.26,558.46 L290.64,551.61 L291.01,544.61 L291.39,537.22 L291.76,529.57 L292.14,521.86 L292.52,514.23 L292.89,506.58 L293.27,498.87 L293.64,491.08 L294.02,483.18 L294.40,475.18 L294.77,467.03 L295.15,458.48 L295.52,449.58 L295.90,440.88 L296.28,432.96 L296.65,425.82 L297.03,419.08 L297.40,412.89 L297.78,407.43 L298.16,402.69 L298.53,398.54 L298.91,394.95 L299.28,391.79 L299.66,389.02 L300.04,386.56 L300.41,384.20 L300.79,382.07 L301.16,380.31 L301.54,379.03 L301.92,378.02 L302.29,377.19 L302.67,376.51 L303.04,375.95 L303.42,375.39 L303.80,374.86 L304.17,374.40 L304.55,374.03 L304.92,373.78 L305.30,373.69 L305.68,373.78 L306.05,374.03 L306.43,374.40 L306.80,374.86 L307.18,375.39 L307.56,375.95 L307.93,376.51 L308.31,377.19 L308.68,378.02 L309.06,379.03 L309.44,380.31 L309.81,382.07 L310.19,384.20 L310.56,386.56 L310.94,389.02 L311.32,391.79 L311.69,394.95 L312.07,398.54 L312.44,402.69 L312.82,407.43 L313.20,412.89 L313.57,419.08 L313.95,425.82 L314.32,432.96 L314.70,440.88 L315.08,449.58 L315.45,458.48 L315.83,467.03 L316.20,475.18 L316.58,483.18 L316.96,491.08 L317.33,498.87 L317.71,506.58 L318.08,514.23 L318.46,521.86 L318.84,529.57 L319.21,537.22 L319.59,544.61 L319.96,551.61 L320.34,558.46 L320.72,565.14 L321.09,571.54 L321.47,577.57 L321.84,583.12 L322.22,588.27 L322.60,593.14 L322.97,597.75 L323.35,602.14 L323.72,606.34 L324.10,610.39 L324.48,614.35 L324.85,618.14 L325.23,621.60 L325.60,624.58 L325.98,627.25 L326.36,629.62 L326.73,631.47 L327.11,632.89 L327.48,634.09 L327.86,635.30 L328.24,634.84 L328.61,633.76 L328.99,632.47 L329.36,630.79 L329.74,628.65 L330.12,626.24 L330.49,623.55 L330.87,620.42 L331.24,617.00 L331.62,613.44 L332.00,609.80 L332.37,606.02 L332.75,602.08 L333.12,597.94 L333.50,593.58 L333.88,588.97 L334.25,584.00 L334.63,578.62 L335.00,572.90 L335.38,566.95 L335.76,560.85 L336.13,554.61 L336.51,548.04 L336.88,541.25 L337.26,534.40 L337.64,527.64 L338.01,520.88 L338.39,514.07 L338.76,507.18 L339.14,500.22 L339.52,493.18 L339.89,486.01 L340.27,478.50 L340.64,470.68 L341.02,463.06 L341.40,456.13 L341.77,449.91 L342.15,444.05 L342.52,438.70 L342.90,433.99 L343.28,429.93 L343.65,426.39 L344.03,423.36 L344.40,420.71 L344.78,418.41 L345.16,416.39 L345.53,414.46 L345.91,412.74 L346.28,411.34 L346.66,410.36 L347.04,409.63 L347.41,409.06 L347.79,408.62 L348.16,408.28 L348.54,407.95 L348.92,407.64 L349.29,407.40 L349.67,407.23 L350.04,407.17 L350.42,407.26 L350.80,407.49 L351.17,407.87 L351.55,408.35 L351.92,408.91 L352.30,409.53 L352.68,410.17 L353.05,410.83 L353.43,411.57 L353.80,412.45 L354.18,413.48 L354.56,414.75 L354.93,416.43 L355.31,418.44 L355.68,420.63 L356.06,422.91 L356.44,425.46 L356.81,428.34 L357.19,431.59 L357.56,435.32 L357.94,439.55 L358.32,444.40 L358.69,449.87 L359.07,455.80 L359.44,462.08 L359.82,469.02 L360.20,476.62 L360.57,484.38 L360.95,491.83 L361.32,498.92 L361.70,505.88 L362.08,512.74 L362.45,519.50 L362.83,526.18 L363.20,532.80 L363.58,539.40 L363.96,546.06 L364.33,552.65 L364.71,559.02 L365.08,565.04 L365.46,570.93 L365.84,576.66 L366.21,582.15 L366.59,587.31 L366.96,592.06 L367.34,596.47 L367.72,600.63 L368.09,604.57 L368.47,608.31 L368.84,611.89 L369.22,615.34 L369.60,618.70 L369.97,621.92 L370.35,624.86 L370.72,627.38 L371.10,629.64 L371.48,631.65 L371.85,633.21 L372.23,634.42 L372.60,635.43 L372.98,637.56 L373.36,637.25 L373.73,636.51 L374.11,635.63 L374.48,634.49 L374.86,633.03 L375.24,631.39 L375.61,629.57 L375.99,627.44 L376.36,625.13 L376.74,622.71 L377.12,620.25 L377.49,617.70 L377.87,615.04 L378.24,612.25 L378.62,609.32 L379.00,606.22 L379.37,602.89 L379.75,599.28 L380.12,595.44 L380.50,591.46 L380.88,587.38 L381.25,583.22 L381.63,578.83 L382.00,574.31 L382.38,569.76 L382.76,565.27 L383.13,560.78 L383.51,556.27 L383.88,551.72 L384.26,547.13 L384.64,542.49 L385.01,537.77 L385.39,532.83 L385.76,527.69 L386.14,522.69 L386.52,518.16 L386.89,514.11 L387.27,510.31 L387.64,506.86 L388.02,503.83 L388.40,501.24 L388.77,499.01 L389.15,497.11 L389.52,495.47 L389.90,494.06 L390.28,492.84 L390.65,491.69 L391.03,490.67 L391.40,489.86 L391.78,489.34 L392.16,488.98 L392.53,488.73 L392.91,488.56 L393.28,488.46 L393.66,488.37 L394.04,488.29 L394.41,488.25 L394.79,488.27 L395.16,488.35 L395.54,488.53 L395.92,488.81 L396.29,489.18 L396.67,489.61 L397.04,490.11 L397.42,490.63 L397.80,491.17 L398.17,491.72 L398.55,492.32 L398.92,493.02 L399.30,493.81 L399.68,494.75 L400.05,495.96 L400.43,497.38 L400.80,498.91 L401.18,500.51 L401.56,502.27 L401.93,504.24 L402.31,506.45 L402.68,508.97 L403.06,511.80 L403.44,515.03 L403.81,518.64 L404.19,522.56 L404.56,526.69 L404.94,531.23 L405.32,536.19 L405.69,541.25 L406.07,546.10 L406.44,550.71 L406.82,555.23 L407.20,559.68 L407.57,564.06 L407.95,568.38 L408.32,572.66 L408.70,576.91 L409.08,581.20 L409.45,585.44 L409.83,589.52 L410.20,593.39 L410.58,597.16 L410.96,600.82 L411.33,604.33 L411.71,607.62 L412.08,610.65 L412.46,613.46 L412.84,616.10 L413.21,618.61 L413.59,620.99 L413.96,623.25 L414.34,625.43 L414.72,627.56 L415.09,629.59 L415.47,631.44 L415.84,633.03 L416.22,634.46 L416.60,635.72 L416.97,636.70 L417.35,637.45 L417.72,638.09 L418.10,640.15 L418.48,640.00 L418.85,639.65 L419.23,639.24 L419.60,638.70 L419.98,638.01 L420.36,637.24 L420.73,636.39 L421.11,635.39 L421.48,634.31 L421.86,633.18 L422.24,632.03 L422.61,630.84 L422.99,629.61 L423.36,628.31 L423.74,626.96 L424.12,625.52 L424.49,623.98 L424.87,622.32 L425.24,620.56 L425.62,618.72 L426.00,616.85 L426.37,614.95 L426.75,612.94 L427.12,610.88 L427.50,608.81 L427.88,606.77 L428.25,604.74 L428.63,602.70 L429.00,600.65 L429.38,598.58 L429.76,596.50 L430.13,594.38 L430.51,592.17 L430.88,589.88 L431.26,587.65 L431.64,585.64 L432.01,583.86 L432.39,582.19 L432.76,580.69 L433.14,579.38 L433.52,578.28 L433.89,577.34 L434.27,576.56 L434.64,575.89 L435.02,575.33 L435.40,574.86 L435.77,574.42 L436.15,574.04 L436.52,573.76 L436.90,573.61 L437.28,573.53 L437.65,573.50 L438.03,573.51 L438.40,573.54 L438.78,573.58 L439.16,573.63 L439.53,573.70 L439.91,573.79 L440.28,573.91 L440.66,574.07 L441.04,574.28 L441.41,574.52 L441.79,574.80 L442.16,575.10 L442.54,575.41 L442.92,575.73 L443.29,576.05 L443.67,576.40 L444.04,576.79 L444.42,577.21 L444.80,577.71 L445.17,578.32 L445.55,579.02 L445.92,579.77 L446.30,580.54 L446.68,581.38 L447.05,582.32 L447.43,583.35 L447.80,584.52 L448.18,585.82 L448.56,587.29 L448.93,588.92 L449.31,590.68 L449.68,592.52 L450.06,594.55 L450.44,596.74 L450.81,598.97 L451.19,601.11 L451.56,603.14 L451.94,605.12 L452.32,607.08 L452.69,608.99 L453.07,610.88 L453.44,612.74 L453.82,614.59 L454.20,616.45 L454.57,618.28 L454.95,620.04 L455.32,621.71 L455.70,623.33 L456.08,624.90 L456.45,626.40 L456.83,627.81 L457.20,629.10 L457.58,630.30 L457.96,631.42 L458.33,632.49 L458.71,633.50 L459.08,634.46 L459.46,635.38 L459.84,636.27 L460.21,637.13 L460.59,637.90 L460.96,638.57 L461.34,639.16 L461.72,639.69 L462.09,640.10 L462.47,640.42 L462.84,640.68 L463.22,641.91 L463.60,641.87 L463.97,641.79 L464.35,641.69 L464.72,641.55 L465.10,641.38 L465.48,641.20 L465.85,640.99 L466.23,640.75 L466.60,640.48 L466.98,640.21 L467.36,639.94 L467.73,639.65 L468.11,639.36 L468.48,639.05 L468.86,638.73 L469.24,638.39 L469.61,638.03 L469.99,637.64 L470.36,637.23 L470.74,636.81 L471.12,636.37 L471.49,635.94 L471.87,635.48 L472.24,635.01 L472.62,634.53 L473.00,634.07 L473.37,633.62 L473.75,633.16 L474.12,632.71 L474.50,632.25 L474.88,631.79 L475.25,631.33 L475.63,630.85 L476.00,630.35 L476.38,629.87 L476.76,629.44 L477.13,629.07 L477.51,628.72 L477.88,628.42 L478.26,628.16 L478.64,627.95 L479.01,627.78 L479.39,627.64 L479.76,627.53 L480.14,627.45 L480.52,627.38 L480.89,627.33 L481.27,627.28 L481.64,627.26 L482.02,627.28 L482.40,627.35 L482.77,627.45 L483.15,627.59 L483.52,627.76 L483.90,627.96 L484.28,628.18 L484.65,628.43 L485.03,628.71 L485.40,629.00 L485.78,629.33 L486.16,629.67 L486.53,630.04 L486.91,630.42 L487.28,630.82 L487.66,631.23 L488.04,631.65 L488.41,632.07 L488.79,632.50 L489.16,632.94 L489.54,633.38 L489.92,633.84 L490.29,634.30 L490.67,634.78 L491.04,635.25 L491.42,635.71 L491.80,636.17 L492.17,636.63 L492.55,637.08 L492.92,637.53 L493.30,637.97 L493.68,638.40 L494.05,638.82 L494.43,639.23 L494.80,639.61 L495.18,639.98 L495.56,640.32 L495.93,640.64 L496.31,640.92 L496.68,641.17 L497.06,641.40 L497.44,641.60 L497.81,641.77 L498.19,641.93 L498.56,642.06 L498.94,642.17 L499.32,642.26 L499.69,642.33 L500.07,642.39 L500.44,642.43 L500.82,642.46 L501.20,642.48 L501.57,642.50 L501.95,642.50 L502.32,642.50 L502.70,642.50 L503.08,642.50 L503.45,642.50 L503.83,642.50 L504.20,642.50 L504.58,642.50 L504.96,642.50 L505.33,642.50 L505.71,642.50 L506.08,642.50 L506.46,642.50 L506.84,642.50 L507.21,642.50 L507.59,642.50 L507.96,642.50 L508.34,642.50 L508.72,642.50 L509.09,642.50 L509.47,642.50 L509.84,642.50 L510.22,642.50 L510.60,642.50 L510.97,642.50 L511.35,642.50 L511.72,642.50 L512.10,642.50 L512.48,642.50 L512.85,642.50 L513.23,642.50 L513.60,642.50 L513.98,642.50 L514.36,642.50 L514.73,642.50 L515.11,642.50 L515.48,642.50 L515.86,642.50 L516.24,642.50 L516.61,642.50 L516.99,642.50 L517.36,642.50 L517.74,642.50 L518.12,642.50 L518.49,642.50 L518.87,642.50 L519.24,642.50 L519.62,642.50 L520.00,642.50 L520.37,642.50 L520.75,642.50 L521.12,642.50 L521.50,642.50 L521.88,642.50 L522.25,642.50 L522.63,642.50 L523.00,642.50 L523.38,642.50 L523.76,642.50 L524.13,642.50 L524.51,642.50 L524.88,642.50 L525.26,642.50 L525.64,642.50 L526.01,642.50 L526.39,642.50 L526.76,642.50 L527.14,642.50 L527.52,642.50 L527.89,642.50 L528.27,642.50 L528.64,642.50 L529.02,642.50 L529.40,642.50 L529.77,642.50 L530.15,642.50 L530.52,642.50 L530.90,642.50" fill="none" stroke="#000" stroke-width="3.3" stroke-linejoin="round" stroke-linecap="butt"/>
<text transform="translate(23.56,365.30) scale(1.0,1)" font-size="31" text-anchor="start" font-style="italic" stroke="#000" stroke-width="0.20">I</text>
<text transform="translate(32.17,371.50) scale(1.09,1)" font-size="19" text-anchor="start" stroke="#000" stroke-width="0.14">φ</text>
<text transform="translate(72.40,373.30) scale(1.08,1)" font-size="17" text-anchor="end" stroke="#000" stroke-width="0.14">8</text><text transform="translate(72.40,441.20) scale(1.08,1)" font-size="17" text-anchor="end" stroke="#000" stroke-width="0.14">6</text><text transform="translate(72.40,511.00) scale(1.08,1)" font-size="17" text-anchor="end" stroke="#000" stroke-width="0.14">4</text><text transform="translate(72.40,579.90) scale(1.08,1)" font-size="17" text-anchor="end" stroke="#000" stroke-width="0.14">2</text><text transform="translate(72.40,649.50) scale(1.05,1)" font-size="17" text-anchor="end" stroke="#000" stroke-width="0.15">0</text>
<text transform="translate(84.60,662.40) scale(0.96,1)" font-size="17.5" text-anchor="middle" stroke="#000" stroke-width="0.15">-0,01</text><text transform="translate(192.70,662.40) scale(1.04,1)" font-size="17.5" text-anchor="middle" stroke="#000" stroke-width="0.15">-5×10<tspan font-size="12.5" dy="-6.2">-3</tspan></text><text transform="translate(304.30,662.40) scale(1.0,1)" font-size="17.5" text-anchor="middle" stroke="#000" stroke-width="0.15">0</text><text transform="translate(417.50,662.40) scale(1.04,1)" font-size="17.5" text-anchor="middle" stroke="#000" stroke-width="0.15">5×10<tspan font-size="12.5" dy="-6.2">-3</tspan></text><text transform="translate(527.90,662.40) scale(0.94,1)" font-size="17.5" text-anchor="middle" stroke="#000" stroke-width="0.15">0,01</text>
<text transform="translate(555.14,651.00) scale(1.0,1)" font-size="28.5" text-anchor="start" stroke="#000" stroke-width="0.20">sin</text>
<text transform="translate(594.27,651.40) scale(1.06,1)" font-size="29" text-anchor="start" font-style="italic" stroke="#000" stroke-width="0.19">φ</text>
<text transform="translate(195.53,387.60) scale(1.1,1)" font-size="26.5" text-anchor="start" stroke="#000" stroke-width="0.19">8</text>
<line x1="214.20" y1="373.20" x2="290.20" y2="373.20" stroke="#000" stroke-width="1.9"/><path d="M300.90,373.20 Q293.90,370.76 286.90,367.40 L289.70,373.20 L286.90,379.00 Q293.90,375.64 300.90,373.20 Z" fill="#000"/>
<text transform="translate(449.48,412.90) scale(0.98,1)" font-size="31" text-anchor="start" stroke="#000" stroke-width="0.20"><tspan font-style="italic">V</tspan>≈1</text>
</g>

<!-- ===== Plot D ===== -->
<g id="plotD">
<line x1="817.40" y1="366.8" x2="817.40" y2="642.5" class="g"/><line x1="930.17" y1="366.8" x2="930.17" y2="642.5" class="g"/><line x1="1042.95" y1="366.8" x2="1042.95" y2="642.5" class="g"/><line x1="1155.72" y1="366.8" x2="1155.72" y2="642.5" class="g"/><line x1="1268.50" y1="366.8" x2="1268.50" y2="642.5" class="g"/><line x1="817.4" y1="366.80" x2="1268.5" y2="366.80" class="g"/><line x1="817.4" y1="435.73" x2="1268.5" y2="435.73" class="g"/><line x1="817.4" y1="504.65" x2="1268.5" y2="504.65" class="g"/><line x1="817.4" y1="573.58" x2="1268.5" y2="573.58" class="g"/><line x1="817.4" y1="642.50" x2="1268.5" y2="642.50" class="g"/><path d="M821.91,642.50 L822.29,642.50 L822.66,642.50 L823.04,642.50 L823.41,642.50 L823.79,642.50 L824.17,642.50 L824.54,642.49 L824.92,642.48 L825.29,642.46 L825.67,642.43 L826.05,642.39 L826.42,642.34 L826.80,642.28 L827.17,642.20 L827.55,642.12 L827.93,642.01 L828.30,641.89 L828.68,641.74 L829.05,641.58 L829.43,641.40 L829.81,641.19 L830.18,640.95 L830.56,640.69 L830.93,640.42 L831.31,640.12 L831.68,639.81 L832.06,639.49 L832.44,639.15 L832.81,638.80 L833.19,638.44 L833.56,638.08 L833.94,637.71 L834.32,637.33 L834.69,636.95 L835.07,636.56 L835.44,636.16 L835.82,635.77 L836.20,635.38 L836.57,634.99 L836.95,634.61 L837.32,634.23 L837.70,633.85 L838.08,633.47 L838.45,633.10 L838.83,632.73 L839.20,632.37 L839.58,632.02 L839.95,631.69 L840.33,631.37 L840.71,631.08 L841.08,630.80 L841.46,630.54 L841.83,630.30 L842.21,630.08 L842.59,629.88 L842.96,629.70 L843.34,629.56 L843.71,629.45 L844.09,629.38 L844.47,629.34 L844.84,629.32 L845.22,629.32 L845.59,629.33 L845.97,629.35 L846.35,629.40 L846.72,629.47 L847.10,629.58 L847.47,629.72 L847.85,629.91 L848.23,630.15 L848.60,630.42 L848.98,630.72 L849.35,631.08 L849.73,631.49 L850.10,631.93 L850.48,632.35 L850.86,632.75 L851.23,633.16 L851.61,633.56 L851.98,633.97 L852.36,634.39 L852.74,634.80 L853.11,635.23 L853.49,635.66 L853.86,636.10 L854.24,636.54 L854.62,636.95 L854.99,637.37 L855.37,637.78 L855.74,638.17 L856.12,638.55 L856.50,638.91 L856.87,639.24 L857.25,639.56 L857.62,639.86 L858.00,640.16 L858.37,640.44 L858.75,640.72 L859.13,641.00 L859.50,641.27 L859.88,641.52 L860.25,641.74 L860.63,641.94 L861.01,642.12 L861.38,642.26 L861.76,642.37 L862.13,642.46 L862.51,642.50 L862.89,642.42 L863.26,642.23 L863.64,642.00 L864.01,641.70 L864.39,641.32 L864.77,640.88 L865.14,640.39 L865.52,639.81 L865.89,639.17 L866.27,638.49 L866.65,637.80 L867.02,637.07 L867.40,636.30 L867.77,635.48 L868.15,634.62 L868.52,633.69 L868.90,632.69 L869.28,631.59 L869.65,630.42 L870.03,629.18 L870.40,627.91 L870.78,626.59 L871.16,625.19 L871.53,623.73 L871.91,622.24 L872.28,620.75 L872.66,619.24 L873.04,617.71 L873.41,616.15 L873.79,614.55 L874.16,612.92 L874.54,611.24 L874.92,609.47 L875.29,607.62 L875.67,605.79 L876.04,604.08 L876.42,602.51 L876.79,601.01 L877.17,599.60 L877.55,598.31 L877.92,597.15 L878.30,596.10 L878.67,595.15 L879.05,594.28 L879.43,593.48 L879.80,592.74 L880.18,592.01 L880.55,591.32 L880.93,590.70 L881.31,590.18 L881.68,589.70 L882.06,589.27 L882.43,588.86 L882.81,588.47 L883.19,588.08 L883.56,587.70 L883.94,587.33 L884.31,586.97 L884.69,586.65 L885.06,586.35 L885.44,586.09 L885.82,585.87 L886.19,585.67 L886.57,585.50 L886.94,585.33 L887.32,585.18 L887.70,585.03 L888.07,584.90 L888.45,584.81 L888.82,584.76 L889.20,584.77 L889.58,584.89 L889.95,585.11 L890.33,585.37 L890.70,585.67 L891.08,586.05 L891.46,586.52 L891.83,587.09 L892.21,587.81 L892.58,588.68 L892.96,589.72 L893.34,590.95 L893.71,592.33 L894.09,593.82 L894.46,595.52 L894.84,597.42 L895.21,599.39 L895.59,601.29 L895.97,603.12 L896.34,604.92 L896.72,606.72 L897.09,608.51 L897.47,610.29 L897.85,612.08 L898.22,613.88 L898.60,615.71 L898.97,617.55 L899.35,619.34 L899.73,621.05 L900.10,622.73 L900.48,624.38 L900.85,625.98 L901.23,627.49 L901.61,628.89 L901.98,630.20 L902.36,631.44 L902.73,632.63 L903.11,633.77 L903.48,634.87 L903.86,635.93 L904.24,636.98 L904.61,637.99 L904.99,638.93 L905.36,639.73 L905.74,640.46 L906.12,641.11 L906.49,641.63 L906.87,642.02 L907.24,642.36 L907.62,642.50 L908.00,642.29 L908.37,641.80 L908.75,641.22 L909.12,640.45 L909.50,639.47 L909.88,638.35 L910.25,637.10 L910.63,635.64 L911.00,634.03 L911.38,632.35 L911.76,630.62 L912.13,628.81 L912.51,626.91 L912.88,624.90 L913.26,622.77 L913.63,620.52 L914.01,618.07 L914.39,615.41 L914.76,612.57 L915.14,609.60 L915.51,606.53 L915.89,603.38 L916.27,600.04 L916.64,596.57 L917.02,593.05 L917.39,589.55 L917.77,586.02 L918.15,582.44 L918.52,578.80 L918.90,575.10 L919.27,571.34 L919.65,567.48 L920.03,563.43 L920.40,559.19 L920.78,555.02 L921.15,551.18 L921.53,547.68 L921.90,544.34 L922.28,541.23 L922.66,538.44 L923.03,535.97 L923.41,533.76 L923.78,531.79 L924.16,530.01 L924.54,528.41 L924.91,526.94 L925.29,525.52 L925.66,524.19 L926.04,523.03 L926.42,522.10 L926.79,521.29 L927.17,520.56 L927.54,519.90 L927.92,519.29 L928.30,518.69 L928.67,518.10 L929.05,517.53 L929.42,517.01 L929.80,516.55 L930.17,516.17 L930.55,515.87 L930.93,515.64 L931.30,515.48 L931.68,515.37 L932.05,515.28 L932.43,515.22 L932.81,515.16 L933.18,515.15 L933.56,515.22 L933.93,515.39 L934.31,515.69 L934.69,516.24 L935.06,516.97 L935.44,517.82 L935.81,518.74 L936.19,519.81 L936.57,521.09 L936.94,522.60 L937.32,524.40 L937.69,526.51 L938.07,529.01 L938.45,531.89 L938.82,535.07 L939.20,538.48 L939.57,542.31 L939.95,546.57 L940.32,550.95 L940.70,555.17 L941.08,559.21 L941.45,563.18 L941.83,567.13 L942.20,571.05 L942.58,574.93 L942.96,578.81 L943.33,582.70 L943.71,586.65 L944.08,590.59 L944.46,594.41 L944.84,598.04 L945.21,601.61 L945.59,605.11 L945.96,608.47 L946.34,611.64 L946.72,614.58 L947.09,617.31 L947.47,619.90 L947.84,622.37 L948.22,624.73 L948.59,626.99 L948.97,629.18 L949.35,631.33 L949.72,633.40 L950.10,635.30 L950.47,636.93 L950.85,638.41 L951.23,639.72 L951.60,640.75 L951.98,641.54 L952.35,642.21 L952.73,642.50 L953.11,642.15 L953.48,641.33 L953.86,640.36 L954.23,639.09 L954.61,637.46 L954.99,635.61 L955.36,633.56 L955.74,631.16 L956.11,628.52 L956.49,625.76 L956.87,622.94 L957.24,619.99 L957.62,616.91 L957.99,613.67 L958.37,610.23 L958.74,606.59 L959.12,602.66 L959.50,598.39 L959.87,593.85 L960.25,589.09 L960.62,584.21 L961.00,579.20 L961.38,573.90 L961.75,568.41 L962.13,562.85 L962.50,557.34 L962.88,551.81 L963.26,546.21 L963.63,540.54 L964.01,534.78 L964.38,528.94 L964.76,522.97 L965.14,516.70 L965.51,510.16 L965.89,503.75 L966.26,497.88 L966.64,492.56 L967.01,487.51 L967.39,482.85 L967.77,478.70 L968.14,475.06 L968.52,471.84 L968.89,469.01 L969.27,466.49 L969.65,464.25 L970.02,462.23 L970.40,460.28 L970.77,458.49 L971.15,456.97 L971.53,455.80 L971.90,454.82 L972.28,453.97 L972.65,453.24 L973.03,452.58 L973.41,451.93 L973.78,451.30 L974.16,450.72 L974.53,450.21 L974.91,449.78 L975.28,449.48 L975.66,449.31 L976.04,449.25 L976.41,449.29 L976.79,449.40 L977.16,449.55 L977.54,449.73 L977.92,449.92 L978.29,450.19 L978.67,450.59 L979.04,451.11 L979.42,451.84 L979.80,452.94 L980.17,454.32 L980.55,455.87 L980.92,457.50 L981.30,459.37 L981.68,461.54 L982.05,464.05 L982.43,466.98 L982.80,470.37 L983.18,474.32 L983.56,478.82 L983.93,483.76 L984.31,489.01 L984.68,494.88 L985.06,501.35 L985.43,507.99 L985.81,514.37 L986.19,520.47 L986.56,526.46 L986.94,532.39 L987.31,538.26 L987.69,544.07 L988.07,549.85 L988.44,555.63 L988.82,561.49 L989.19,567.30 L989.57,572.94 L989.95,578.28 L990.32,583.52 L990.70,588.64 L991.07,593.55 L991.45,598.18 L991.83,602.45 L992.20,606.42 L992.58,610.18 L992.95,613.75 L993.33,617.15 L993.70,620.41 L994.08,623.55 L994.46,626.63 L994.83,629.59 L995.21,632.30 L995.58,634.63 L995.96,636.72 L996.34,638.58 L996.71,640.04 L997.09,641.15 L997.46,642.10 L997.84,642.50 L998.22,642.07 L998.59,641.07 L998.97,639.87 L999.34,638.32 L999.72,636.33 L1000.10,634.08 L1000.47,631.58 L1000.85,628.66 L1001.22,625.47 L1001.60,622.14 L1001.98,618.73 L1002.35,615.19 L1002.73,611.49 L1003.10,607.60 L1003.48,603.49 L1003.85,599.15 L1004.23,594.47 L1004.61,589.38 L1004.98,583.98 L1005.36,578.35 L1005.73,572.56 L1006.11,566.65 L1006.49,560.40 L1006.86,553.94 L1007.24,547.43 L1007.61,540.98 L1007.99,534.51 L1008.37,528.00 L1008.74,521.40 L1009.12,514.72 L1009.49,507.96 L1009.87,501.06 L1010.25,493.83 L1010.62,486.30 L1011.00,478.94 L1011.37,472.23 L1011.75,466.19 L1012.12,460.48 L1012.50,455.24 L1012.88,450.61 L1013.25,446.59 L1013.63,443.07 L1014.00,440.02 L1014.38,437.34 L1014.76,434.99 L1015.13,432.90 L1015.51,430.90 L1015.88,429.08 L1016.26,427.58 L1016.64,426.49 L1017.01,425.63 L1017.39,424.92 L1017.76,424.35 L1018.14,423.86 L1018.52,423.38 L1018.89,422.93 L1019.27,422.54 L1019.64,422.22 L1020.02,422.02 L1020.39,421.94 L1020.77,422.02 L1021.15,422.22 L1021.52,422.54 L1021.90,422.93 L1022.27,423.38 L1022.65,423.86 L1023.03,424.35 L1023.40,424.92 L1023.78,425.63 L1024.15,426.49 L1024.53,427.58 L1024.91,429.08 L1025.28,430.90 L1025.66,432.90 L1026.03,434.99 L1026.41,437.34 L1026.79,440.02 L1027.16,443.07 L1027.54,446.59 L1027.91,450.61 L1028.29,455.24 L1028.67,460.48 L1029.04,466.19 L1029.42,472.23 L1029.79,478.94 L1030.17,486.30 L1030.54,493.83 L1030.92,501.06 L1031.30,507.96 L1031.67,514.72 L1032.05,521.40 L1032.42,528.00 L1032.80,534.51 L1033.18,540.98 L1033.55,547.43 L1033.93,553.94 L1034.30,560.40 L1034.68,566.65 L1035.06,572.56 L1035.43,578.35 L1035.81,583.98 L1036.18,589.38 L1036.56,594.47 L1036.94,599.15 L1037.31,603.49 L1037.69,607.60 L1038.06,611.49 L1038.44,615.19 L1038.81,618.73 L1039.19,622.14 L1039.57,625.47 L1039.94,628.66 L1040.32,631.58 L1040.69,634.08 L1041.07,636.33 L1041.45,638.32 L1041.82,639.87 L1042.20,641.07 L1042.57,642.07 L1042.95,642.50 L1043.33,642.10 L1043.70,641.15 L1044.08,640.04 L1044.45,638.58 L1044.83,636.72 L1045.21,634.63 L1045.58,632.30 L1045.96,629.59 L1046.33,626.63 L1046.71,623.55 L1047.09,620.41 L1047.46,617.15 L1047.84,613.75 L1048.21,610.18 L1048.59,606.42 L1048.96,602.45 L1049.34,598.18 L1049.72,593.55 L1050.09,588.64 L1050.47,583.52 L1050.84,578.28 L1051.22,572.94 L1051.60,567.30 L1051.97,561.49 L1052.35,555.63 L1052.72,549.85 L1053.10,544.07 L1053.48,538.26 L1053.85,532.39 L1054.23,526.46 L1054.60,520.47 L1054.98,514.37 L1055.36,507.99 L1055.73,501.35 L1056.11,494.88 L1056.48,489.01 L1056.86,483.76 L1057.23,478.82 L1057.61,474.32 L1057.99,470.37 L1058.36,466.98 L1058.74,464.05 L1059.11,461.54 L1059.49,459.37 L1059.87,457.50 L1060.24,455.87 L1060.62,454.32 L1060.99,452.94 L1061.37,451.84 L1061.75,451.11 L1062.12,450.59 L1062.50,450.19 L1062.87,449.92 L1063.25,449.73 L1063.63,449.55 L1064.00,449.40 L1064.38,449.29 L1064.75,449.25 L1065.13,449.31 L1065.51,449.48 L1065.88,449.78 L1066.26,450.21 L1066.63,450.72 L1067.01,451.30 L1067.38,451.93 L1067.76,452.58 L1068.14,453.24 L1068.51,453.97 L1068.89,454.82 L1069.26,455.80 L1069.64,456.97 L1070.02,458.49 L1070.39,460.28 L1070.77,462.23 L1071.14,464.25 L1071.52,466.49 L1071.90,469.01 L1072.27,471.84 L1072.65,475.06 L1073.02,478.70 L1073.40,482.85 L1073.78,487.51 L1074.15,492.56 L1074.53,497.88 L1074.90,503.75 L1075.28,510.16 L1075.65,516.70 L1076.03,522.97 L1076.41,528.94 L1076.78,534.78 L1077.16,540.54 L1077.53,546.21 L1077.91,551.81 L1078.29,557.34 L1078.66,562.85 L1079.04,568.41 L1079.41,573.90 L1079.79,579.20 L1080.17,584.21 L1080.54,589.09 L1080.92,593.85 L1081.29,598.39 L1081.67,602.66 L1082.05,606.59 L1082.42,610.23 L1082.80,613.67 L1083.17,616.91 L1083.55,619.99 L1083.92,622.94 L1084.30,625.76 L1084.68,628.52 L1085.05,631.16 L1085.43,633.56 L1085.80,635.61 L1086.18,637.46 L1086.56,639.09 L1086.93,640.36 L1087.31,641.33 L1087.68,642.15 L1088.06,642.50 L1088.44,642.21 L1088.81,641.54 L1089.19,640.75 L1089.56,639.72 L1089.94,638.41 L1090.32,636.93 L1090.69,635.30 L1091.07,633.40 L1091.44,631.33 L1091.82,629.18 L1092.20,626.99 L1092.57,624.73 L1092.95,622.37 L1093.32,619.90 L1093.70,617.31 L1094.07,614.58 L1094.45,611.64 L1094.83,608.47 L1095.20,605.11 L1095.58,601.61 L1095.95,598.04 L1096.33,594.41 L1096.71,590.59 L1097.08,586.65 L1097.46,582.70 L1097.83,578.81 L1098.21,574.93 L1098.59,571.05 L1098.96,567.13 L1099.34,563.18 L1099.71,559.21 L1100.09,555.17 L1100.47,550.95 L1100.84,546.57 L1101.22,542.31 L1101.59,538.48 L1101.97,535.07 L1102.34,531.89 L1102.72,529.01 L1103.10,526.51 L1103.47,524.40 L1103.85,522.60 L1104.22,521.09 L1104.60,519.81 L1104.98,518.74 L1105.35,517.82 L1105.73,516.97 L1106.10,516.24 L1106.48,515.69 L1106.86,515.39 L1107.23,515.22 L1107.61,515.15 L1107.98,515.16 L1108.36,515.22 L1108.74,515.28 L1109.11,515.37 L1109.49,515.48 L1109.86,515.64 L1110.24,515.87 L1110.62,516.17 L1110.99,516.55 L1111.37,517.01 L1111.74,517.53 L1112.12,518.10 L1112.49,518.69 L1112.87,519.29 L1113.25,519.90 L1113.62,520.56 L1114.00,521.29 L1114.37,522.10 L1114.75,523.03 L1115.13,524.19 L1115.50,525.52 L1115.88,526.94 L1116.25,528.41 L1116.63,530.01 L1117.01,531.79 L1117.38,533.76 L1117.76,535.97 L1118.13,538.44 L1118.51,541.23 L1118.89,544.34 L1119.26,547.68 L1119.64,551.18 L1120.01,555.02 L1120.39,559.19 L1120.76,563.43 L1121.14,567.48 L1121.52,571.34 L1121.89,575.10 L1122.27,578.80 L1122.64,582.44 L1123.02,586.02 L1123.40,589.55 L1123.77,593.05 L1124.15,596.57 L1124.52,600.04 L1124.90,603.38 L1125.28,606.53 L1125.65,609.60 L1126.03,612.57 L1126.40,615.41 L1126.78,618.07 L1127.16,620.52 L1127.53,622.77 L1127.91,624.90 L1128.28,626.91 L1128.66,628.81 L1129.03,630.62 L1129.41,632.35 L1129.79,634.03 L1130.16,635.64 L1130.54,637.10 L1130.91,638.35 L1131.29,639.47 L1131.67,640.45 L1132.04,641.22 L1132.42,641.80 L1132.79,642.29 L1133.17,642.50 L1133.55,642.36 L1133.92,642.02 L1134.30,641.63 L1134.67,641.11 L1135.05,640.46 L1135.43,639.73 L1135.80,638.93 L1136.18,637.99 L1136.55,636.98 L1136.93,635.93 L1137.31,634.87 L1137.68,633.77 L1138.06,632.63 L1138.43,631.44 L1138.81,630.20 L1139.18,628.89 L1139.56,627.49 L1139.94,625.98 L1140.31,624.38 L1140.69,622.73 L1141.06,621.05 L1141.44,619.34 L1141.82,617.55 L1142.19,615.71 L1142.57,613.88 L1142.94,612.08 L1143.32,610.29 L1143.70,608.51 L1144.07,606.72 L1144.45,604.92 L1144.82,603.12 L1145.20,601.29 L1145.58,599.39 L1145.95,597.42 L1146.33,595.52 L1146.70,593.82 L1147.08,592.33 L1147.45,590.95 L1147.83,589.72 L1148.21,588.68 L1148.58,587.81 L1148.96,587.09 L1149.33,586.52 L1149.71,586.05 L1150.09,585.67 L1150.46,585.37 L1150.84,585.11 L1151.21,584.89 L1151.59,584.77 L1151.97,584.76 L1152.34,584.81 L1152.72,584.90 L1153.09,585.03 L1153.47,585.18 L1153.85,585.33 L1154.22,585.50 L1154.60,585.67 L1154.97,585.87 L1155.35,586.09 L1155.72,586.35 L1156.10,586.65 L1156.48,586.97 L1156.85,587.33 L1157.23,587.70 L1157.60,588.08 L1157.98,588.47 L1158.36,588.86 L1158.73,589.27 L1159.11,589.70 L1159.48,590.18 L1159.86,590.70 L1160.24,591.32 L1160.61,592.01 L1160.99,592.74 L1161.36,593.48 L1161.74,594.28 L1162.12,595.15 L1162.49,596.10 L1162.87,597.15 L1163.24,598.31 L1163.62,599.60 L1164.00,601.01 L1164.37,602.51 L1164.75,604.08 L1165.12,605.79 L1165.50,607.62 L1165.87,609.47 L1166.25,611.24 L1166.63,612.92 L1167.00,614.55 L1167.38,616.15 L1167.75,617.71 L1168.13,619.24 L1168.51,620.75 L1168.88,622.24 L1169.26,623.73 L1169.63,625.19 L1170.01,626.59 L1170.39,627.91 L1170.76,629.18 L1171.14,630.42 L1171.51,631.59 L1171.89,632.69 L1172.27,633.69 L1172.64,634.62 L1173.02,635.48 L1173.39,636.30 L1173.77,637.07 L1174.14,637.80 L1174.52,638.49 L1174.90,639.17 L1175.27,639.81 L1175.65,640.39 L1176.02,640.88 L1176.40,641.32 L1176.78,641.70 L1177.15,642.00 L1177.53,642.23 L1177.90,642.42 L1178.28,642.50 L1178.66,642.46 L1179.03,642.37 L1179.41,642.26 L1179.78,642.12 L1180.16,641.94 L1180.54,641.74 L1180.91,641.52 L1181.29,641.27 L1181.66,641.00 L1182.04,640.72 L1182.42,640.44 L1182.79,640.16 L1183.17,639.86 L1183.54,639.56 L1183.92,639.24 L1184.29,638.91 L1184.67,638.55 L1185.05,638.17 L1185.42,637.78 L1185.80,637.37 L1186.17,636.95 L1186.55,636.54 L1186.93,636.10 L1187.30,635.66 L1187.68,635.23 L1188.05,634.80 L1188.43,634.39 L1188.81,633.97 L1189.18,633.56 L1189.56,633.16 L1189.93,632.75 L1190.31,632.35 L1190.69,631.93 L1191.06,631.49 L1191.44,631.08 L1191.81,630.72 L1192.19,630.42 L1192.56,630.15 L1192.94,629.91 L1193.32,629.72 L1193.69,629.58 L1194.07,629.47 L1194.44,629.40 L1194.82,629.35 L1195.20,629.33 L1195.57,629.32 L1195.95,629.32 L1196.32,629.34 L1196.70,629.38 L1197.08,629.45 L1197.45,629.56 L1197.83,629.70 L1198.20,629.88 L1198.58,630.08 L1198.96,630.30 L1199.33,630.54 L1199.71,630.80 L1200.08,631.08 L1200.46,631.37 L1200.84,631.69 L1201.21,632.02 L1201.59,632.37 L1201.96,632.73 L1202.34,633.10 L1202.71,633.47 L1203.09,633.85 L1203.47,634.23 L1203.84,634.61 L1204.22,634.99 L1204.59,635.38 L1204.97,635.77 L1205.35,636.16 L1205.72,636.56 L1206.10,636.95 L1206.47,637.33 L1206.85,637.71 L1207.23,638.08 L1207.60,638.44 L1207.98,638.80 L1208.35,639.15 L1208.73,639.49 L1209.11,639.81 L1209.48,640.12 L1209.86,640.42 L1210.23,640.69 L1210.61,640.95 L1210.98,641.19 L1211.36,641.40 L1211.74,641.58 L1212.11,641.74 L1212.49,641.89 L1212.86,642.01 L1213.24,642.12 L1213.62,642.20 L1213.99,642.28 L1214.37,642.34 L1214.74,642.39 L1215.12,642.43 L1215.50,642.46 L1215.87,642.48 L1216.25,642.49 L1216.62,642.50 L1217.00,642.50 L1217.38,642.50 L1217.75,642.50 L1218.13,642.50 L1218.50,642.50 L1218.88,642.50 L1219.25,642.50 L1219.63,642.50 L1220.01,642.50 L1220.38,642.50 L1220.76,642.50 L1221.13,642.50 L1221.51,642.50 L1221.89,642.50 L1222.26,642.50 L1222.64,642.50 L1223.01,642.50 L1223.39,642.50 L1223.77,642.50 L1224.14,642.50 L1224.52,642.50 L1224.89,642.50 L1225.27,642.50 L1225.65,642.50 L1226.02,642.50 L1226.40,642.50 L1226.77,642.50 L1227.15,642.50 L1227.53,642.50 L1227.90,642.50 L1228.28,642.50 L1228.65,642.50 L1229.03,642.50 L1229.40,642.50 L1229.78,642.50 L1230.16,642.50 L1230.53,642.50 L1230.91,642.50 L1231.28,642.50 L1231.66,642.50 L1232.04,642.50 L1232.41,642.50 L1232.79,642.50 L1233.16,642.50 L1233.54,642.50 L1233.92,642.50 L1234.29,642.50 L1234.67,642.50" fill="none" stroke="#1b70b3" stroke-width="2.25" stroke-linejoin="round" stroke-linecap="butt"/><path d="M844.47,642.50 L844.84,642.50 L845.22,642.50 L845.59,642.50 L845.97,642.50 L846.35,642.50 L846.72,642.50 L847.10,642.49 L847.47,642.48 L847.85,642.46 L848.23,642.43 L848.60,642.39 L848.98,642.34 L849.35,642.28 L849.73,642.20 L850.10,642.12 L850.48,642.01 L850.86,641.89 L851.23,641.74 L851.61,641.58 L851.98,641.40 L852.36,641.19 L852.74,640.95 L853.11,640.69 L853.49,640.42 L853.86,640.12 L854.24,639.81 L854.62,639.49 L854.99,639.15 L855.37,638.80 L855.74,638.44 L856.12,638.08 L856.50,637.71 L856.87,637.33 L857.25,636.95 L857.62,636.56 L858.00,636.16 L858.37,635.77 L858.75,635.38 L859.13,634.99 L859.50,634.61 L859.88,634.23 L860.25,633.85 L860.63,633.47 L861.01,633.10 L861.38,632.73 L861.76,632.37 L862.13,632.02 L862.51,631.69 L862.89,631.37 L863.26,631.08 L863.64,630.80 L864.01,630.54 L864.39,630.30 L864.77,630.08 L865.14,629.88 L865.52,629.70 L865.89,629.56 L866.27,629.45 L866.65,629.38 L867.02,629.34 L867.40,629.32 L867.77,629.32 L868.15,629.33 L868.52,629.35 L868.90,629.40 L869.28,629.47 L869.65,629.58 L870.03,629.72 L870.40,629.91 L870.78,630.15 L871.16,630.42 L871.53,630.72 L871.91,631.08 L872.28,631.49 L872.66,631.93 L873.04,632.35 L873.41,632.75 L873.79,633.16 L874.16,633.56 L874.54,633.97 L874.92,634.39 L875.29,634.80 L875.67,635.23 L876.04,635.66 L876.42,636.10 L876.79,636.54 L877.17,636.95 L877.55,637.37 L877.92,637.78 L878.30,638.17 L878.67,638.55 L879.05,638.91 L879.43,639.24 L879.80,639.56 L880.18,639.86 L880.55,640.16 L880.93,640.44 L881.31,640.72 L881.68,641.00 L882.06,641.27 L882.43,641.52 L882.81,641.74 L883.19,641.94 L883.56,642.12 L883.94,642.26 L884.31,642.37 L884.69,642.46 L885.06,642.50 L885.44,642.42 L885.82,642.23 L886.19,642.00 L886.57,641.70 L886.94,641.32 L887.32,640.88 L887.70,640.39 L888.07,639.81 L888.45,639.17 L888.82,638.49 L889.20,637.80 L889.58,637.07 L889.95,636.30 L890.33,635.48 L890.70,634.62 L891.08,633.69 L891.46,632.69 L891.83,631.59 L892.21,630.42 L892.58,629.18 L892.96,627.91 L893.34,626.59 L893.71,625.19 L894.09,623.73 L894.46,622.24 L894.84,620.75 L895.21,619.24 L895.59,617.71 L895.97,616.15 L896.34,614.55 L896.72,612.92 L897.09,611.24 L897.47,609.47 L897.85,607.62 L898.22,605.79 L898.60,604.08 L898.97,602.51 L899.35,601.01 L899.73,599.60 L900.10,598.31 L900.48,597.15 L900.85,596.10 L901.23,595.15 L901.61,594.28 L901.98,593.48 L902.36,592.74 L902.73,592.01 L903.11,591.32 L903.48,590.70 L903.86,590.18 L904.24,589.70 L904.61,589.27 L904.99,588.86 L905.36,588.47 L905.74,588.08 L906.12,587.70 L906.49,587.33 L906.87,586.97 L907.24,586.65 L907.62,586.35 L908.00,586.09 L908.37,585.87 L908.75,585.67 L909.12,585.50 L909.50,585.33 L909.88,585.18 L910.25,585.03 L910.63,584.90 L911.00,584.81 L911.38,584.76 L911.76,584.77 L912.13,584.89 L912.51,585.11 L912.88,585.37 L913.26,585.67 L913.63,586.05 L914.01,586.52 L914.39,587.09 L914.76,587.81 L915.14,588.68 L915.51,589.72 L915.89,590.95 L916.27,592.33 L916.64,593.82 L917.02,595.52 L917.39,597.42 L917.77,599.39 L918.15,601.29 L918.52,603.12 L918.90,604.92 L919.27,606.72 L919.65,608.51 L920.03,610.29 L920.40,612.08 L920.78,613.88 L921.15,615.71 L921.53,617.55 L921.90,619.34 L922.28,621.05 L922.66,622.73 L923.03,624.38 L923.41,625.98 L923.78,627.49 L924.16,628.89 L924.54,630.20 L924.91,631.44 L925.29,632.63 L925.66,633.77 L926.04,634.87 L926.42,635.93 L926.79,636.98 L927.17,637.99 L927.54,638.93 L927.92,639.73 L928.30,640.46 L928.67,641.11 L929.05,641.63 L929.42,642.02 L929.80,642.36 L930.17,642.50 L930.55,642.29 L930.93,641.80 L931.30,641.22 L931.68,640.45 L932.05,639.47 L932.43,638.35 L932.81,637.10 L933.18,635.64 L933.56,634.03 L933.93,632.35 L934.31,630.62 L934.69,628.81 L935.06,626.91 L935.44,624.90 L935.81,622.77 L936.19,620.52 L936.57,618.07 L936.94,615.41 L937.32,612.57 L937.69,609.60 L938.07,606.53 L938.45,603.38 L938.82,600.04 L939.20,596.57 L939.57,593.05 L939.95,589.55 L940.32,586.02 L940.70,582.44 L941.08,578.80 L941.45,575.10 L941.83,571.34 L942.20,567.48 L942.58,563.43 L942.96,559.19 L943.33,555.02 L943.71,551.18 L944.08,547.68 L944.46,544.34 L944.84,541.23 L945.21,538.44 L945.59,535.97 L945.96,533.76 L946.34,531.79 L946.72,530.01 L947.09,528.41 L947.47,526.94 L947.84,525.52 L948.22,524.19 L948.59,523.03 L948.97,522.10 L949.35,521.29 L949.72,520.56 L950.10,519.90 L950.47,519.29 L950.85,518.69 L951.23,518.10 L951.60,517.53 L951.98,517.01 L952.35,516.55 L952.73,516.17 L953.11,515.87 L953.48,515.64 L953.86,515.48 L954.23,515.37 L954.61,515.28 L954.99,515.22 L955.36,515.16 L955.74,515.15 L956.11,515.22 L956.49,515.39 L956.87,515.69 L957.24,516.24 L957.62,516.97 L957.99,517.82 L958.37,518.74 L958.74,519.81 L959.12,521.09 L959.50,522.60 L959.87,524.40 L960.25,526.51 L960.62,529.01 L961.00,531.89 L961.38,535.07 L961.75,538.48 L962.13,542.31 L962.50,546.57 L962.88,550.95 L963.26,555.17 L963.63,559.21 L964.01,563.18 L964.38,567.13 L964.76,571.05 L965.14,574.93 L965.51,578.81 L965.89,582.70 L966.26,586.65 L966.64,590.59 L967.01,594.41 L967.39,598.04 L967.77,601.61 L968.14,605.11 L968.52,608.47 L968.89,611.64 L969.27,614.58 L969.65,617.31 L970.02,619.90 L970.40,622.37 L970.77,624.73 L971.15,626.99 L971.53,629.18 L971.90,631.33 L972.28,633.40 L972.65,635.30 L973.03,636.93 L973.41,638.41 L973.78,639.72 L974.16,640.75 L974.53,641.54 L974.91,642.21 L975.28,642.50 L975.66,642.15 L976.04,641.33 L976.41,640.36 L976.79,639.09 L977.16,637.46 L977.54,635.61 L977.92,633.56 L978.29,631.16 L978.67,628.52 L979.04,625.76 L979.42,622.94 L979.80,619.99 L980.17,616.91 L980.55,613.67 L980.92,610.23 L981.30,606.59 L981.68,602.66 L982.05,598.39 L982.43,593.85 L982.80,589.09 L983.18,584.21 L983.56,579.20 L983.93,573.90 L984.31,568.41 L984.68,562.85 L985.06,557.34 L985.43,551.81 L985.81,546.21 L986.19,540.54 L986.56,534.78 L986.94,528.94 L987.31,522.97 L987.69,516.70 L988.07,510.16 L988.44,503.75 L988.82,497.88 L989.19,492.56 L989.57,487.51 L989.95,482.85 L990.32,478.70 L990.70,475.06 L991.07,471.84 L991.45,469.01 L991.83,466.49 L992.20,464.25 L992.58,462.23 L992.95,460.28 L993.33,458.49 L993.70,456.97 L994.08,455.80 L994.46,454.82 L994.83,453.97 L995.21,453.24 L995.58,452.58 L995.96,451.93 L996.34,451.30 L996.71,450.72 L997.09,450.21 L997.46,449.78 L997.84,449.48 L998.22,449.31 L998.59,449.25 L998.97,449.29 L999.34,449.40 L999.72,449.55 L1000.10,449.73 L1000.47,449.92 L1000.85,450.19 L1001.22,450.59 L1001.60,451.11 L1001.98,451.84 L1002.35,452.94 L1002.73,454.32 L1003.10,455.87 L1003.48,457.50 L1003.85,459.37 L1004.23,461.54 L1004.61,464.05 L1004.98,466.98 L1005.36,470.37 L1005.73,474.32 L1006.11,478.82 L1006.49,483.76 L1006.86,489.01 L1007.24,494.88 L1007.61,501.35 L1007.99,507.99 L1008.37,514.37 L1008.74,520.47 L1009.12,526.46 L1009.49,532.39 L1009.87,538.26 L1010.25,544.07 L1010.62,549.85 L1011.00,555.63 L1011.37,561.49 L1011.75,567.30 L1012.12,572.94 L1012.50,578.28 L1012.88,583.52 L1013.25,588.64 L1013.63,593.55 L1014.00,598.18 L1014.38,602.45 L1014.76,606.42 L1015.13,610.18 L1015.51,613.75 L1015.88,617.15 L1016.26,620.41 L1016.64,623.55 L1017.01,626.63 L1017.39,629.59 L1017.76,632.30 L1018.14,634.63 L1018.52,636.72 L1018.89,638.58 L1019.27,640.04 L1019.64,641.15 L1020.02,642.10 L1020.39,642.50 L1020.77,642.07 L1021.15,641.07 L1021.52,639.87 L1021.90,638.32 L1022.27,636.33 L1022.65,634.08 L1023.03,631.58 L1023.40,628.66 L1023.78,625.47 L1024.15,622.14 L1024.53,618.73 L1024.91,615.19 L1025.28,611.49 L1025.66,607.60 L1026.03,603.49 L1026.41,599.15 L1026.79,594.47 L1027.16,589.38 L1027.54,583.98 L1027.91,578.35 L1028.29,572.56 L1028.67,566.65 L1029.04,560.40 L1029.42,553.94 L1029.79,547.43 L1030.17,540.98 L1030.54,534.51 L1030.92,528.00 L1031.30,521.40 L1031.67,514.72 L1032.05,507.96 L1032.42,501.06 L1032.80,493.83 L1033.18,486.30 L1033.55,478.94 L1033.93,472.23 L1034.30,466.19 L1034.68,460.48 L1035.06,455.24 L1035.43,450.61 L1035.81,446.59 L1036.18,443.07 L1036.56,440.02 L1036.94,437.34 L1037.31,434.99 L1037.69,432.90 L1038.06,430.90 L1038.44,429.08 L1038.81,427.58 L1039.19,426.49 L1039.57,425.63 L1039.94,424.92 L1040.32,424.35 L1040.69,423.86 L1041.07,423.38 L1041.45,422.93 L1041.82,422.54 L1042.20,422.22 L1042.57,422.02 L1042.95,421.94 L1043.33,422.02 L1043.70,422.22 L1044.08,422.54 L1044.45,422.93 L1044.83,423.38 L1045.21,423.86 L1045.58,424.35 L1045.96,424.92 L1046.33,425.63 L1046.71,426.49 L1047.09,427.58 L1047.46,429.08 L1047.84,430.90 L1048.21,432.90 L1048.59,434.99 L1048.96,437.34 L1049.34,440.02 L1049.72,443.07 L1050.09,446.59 L1050.47,450.61 L1050.84,455.24 L1051.22,460.48 L1051.60,466.19 L1051.97,472.23 L1052.35,478.94 L1052.72,486.30 L1053.10,493.83 L1053.48,501.06 L1053.85,507.96 L1054.23,514.72 L1054.60,521.40 L1054.98,528.00 L1055.36,534.51 L1055.73,540.98 L1056.11,547.43 L1056.48,553.94 L1056.86,560.40 L1057.23,566.65 L1057.61,572.56 L1057.99,578.35 L1058.36,583.98 L1058.74,589.38 L1059.11,594.47 L1059.49,599.15 L1059.87,603.49 L1060.24,607.60 L1060.62,611.49 L1060.99,615.19 L1061.37,618.73 L1061.75,622.14 L1062.12,625.47 L1062.50,628.66 L1062.87,631.58 L1063.25,634.08 L1063.63,636.33 L1064.00,638.32 L1064.38,639.87 L1064.75,641.07 L1065.13,642.07 L1065.51,642.50 L1065.88,642.10 L1066.26,641.15 L1066.63,640.04 L1067.01,638.58 L1067.38,636.72 L1067.76,634.63 L1068.14,632.30 L1068.51,629.59 L1068.89,626.63 L1069.26,623.55 L1069.64,620.41 L1070.02,617.15 L1070.39,613.75 L1070.77,610.18 L1071.14,606.42 L1071.52,602.45 L1071.90,598.18 L1072.27,593.55 L1072.65,588.64 L1073.02,583.52 L1073.40,578.28 L1073.78,572.94 L1074.15,567.30 L1074.53,561.49 L1074.90,555.63 L1075.28,549.85 L1075.65,544.07 L1076.03,538.26 L1076.41,532.39 L1076.78,526.46 L1077.16,520.47 L1077.53,514.37 L1077.91,507.99 L1078.29,501.35 L1078.66,494.88 L1079.04,489.01 L1079.41,483.76 L1079.79,478.82 L1080.17,474.32 L1080.54,470.37 L1080.92,466.98 L1081.29,464.05 L1081.67,461.54 L1082.05,459.37 L1082.42,457.50 L1082.80,455.87 L1083.17,454.32 L1083.55,452.94 L1083.92,451.84 L1084.30,451.11 L1084.68,450.59 L1085.05,450.19 L1085.43,449.92 L1085.80,449.73 L1086.18,449.55 L1086.56,449.40 L1086.93,449.29 L1087.31,449.25 L1087.68,449.31 L1088.06,449.48 L1088.44,449.78 L1088.81,450.21 L1089.19,450.72 L1089.56,451.30 L1089.94,451.93 L1090.32,452.58 L1090.69,453.24 L1091.07,453.97 L1091.44,454.82 L1091.82,455.80 L1092.20,456.97 L1092.57,458.49 L1092.95,460.28 L1093.32,462.23 L1093.70,464.25 L1094.07,466.49 L1094.45,469.01 L1094.83,471.84 L1095.20,475.06 L1095.58,478.70 L1095.95,482.85 L1096.33,487.51 L1096.71,492.56 L1097.08,497.88 L1097.46,503.75 L1097.83,510.16 L1098.21,516.70 L1098.59,522.97 L1098.96,528.94 L1099.34,534.78 L1099.71,540.54 L1100.09,546.21 L1100.47,551.81 L1100.84,557.34 L1101.22,562.85 L1101.59,568.41 L1101.97,573.90 L1102.34,579.20 L1102.72,584.21 L1103.10,589.09 L1103.47,593.85 L1103.85,598.39 L1104.22,602.66 L1104.60,606.59 L1104.98,610.23 L1105.35,613.67 L1105.73,616.91 L1106.10,619.99 L1106.48,622.94 L1106.86,625.76 L1107.23,628.52 L1107.61,631.16 L1107.98,633.56 L1108.36,635.61 L1108.74,637.46 L1109.11,639.09 L1109.49,640.36 L1109.86,641.33 L1110.24,642.15 L1110.62,642.50 L1110.99,642.21 L1111.37,641.54 L1111.74,640.75 L1112.12,639.72 L1112.49,638.41 L1112.87,636.93 L1113.25,635.30 L1113.62,633.40 L1114.00,631.33 L1114.37,629.18 L1114.75,626.99 L1115.13,624.73 L1115.50,622.37 L1115.88,619.90 L1116.25,617.31 L1116.63,614.58 L1117.01,611.64 L1117.38,608.47 L1117.76,605.11 L1118.13,601.61 L1118.51,598.04 L1118.89,594.41 L1119.26,590.59 L1119.64,586.65 L1120.01,582.70 L1120.39,578.81 L1120.76,574.93 L1121.14,571.05 L1121.52,567.13 L1121.89,563.18 L1122.27,559.21 L1122.64,555.17 L1123.02,550.95 L1123.40,546.57 L1123.77,542.31 L1124.15,538.48 L1124.52,535.07 L1124.90,531.89 L1125.28,529.01 L1125.65,526.51 L1126.03,524.40 L1126.40,522.60 L1126.78,521.09 L1127.16,519.81 L1127.53,518.74 L1127.91,517.82 L1128.28,516.97 L1128.66,516.24 L1129.03,515.69 L1129.41,515.39 L1129.79,515.22 L1130.16,515.15 L1130.54,515.16 L1130.91,515.22 L1131.29,515.28 L1131.67,515.37 L1132.04,515.48 L1132.42,515.64 L1132.79,515.87 L1133.17,516.17 L1133.55,516.55 L1133.92,517.01 L1134.30,517.53 L1134.67,518.10 L1135.05,518.69 L1135.43,519.29 L1135.80,519.90 L1136.18,520.56 L1136.55,521.29 L1136.93,522.10 L1137.31,523.03 L1137.68,524.19 L1138.06,525.52 L1138.43,526.94 L1138.81,528.41 L1139.18,530.01 L1139.56,531.79 L1139.94,533.76 L1140.31,535.97 L1140.69,538.44 L1141.06,541.23 L1141.44,544.34 L1141.82,547.68 L1142.19,551.18 L1142.57,555.02 L1142.94,559.19 L1143.32,563.43 L1143.70,567.48 L1144.07,571.34 L1144.45,575.10 L1144.82,578.80 L1145.20,582.44 L1145.58,586.02 L1145.95,589.55 L1146.33,593.05 L1146.70,596.57 L1147.08,600.04 L1147.45,603.38 L1147.83,606.53 L1148.21,609.60 L1148.58,612.57 L1148.96,615.41 L1149.33,618.07 L1149.71,620.52 L1150.09,622.77 L1150.46,624.90 L1150.84,626.91 L1151.21,628.81 L1151.59,630.62 L1151.97,632.35 L1152.34,634.03 L1152.72,635.64 L1153.09,637.10 L1153.47,638.35 L1153.85,639.47 L1154.22,640.45 L1154.60,641.22 L1154.97,641.80 L1155.35,642.29 L1155.72,642.50 L1156.10,642.36 L1156.48,642.02 L1156.85,641.63 L1157.23,641.11 L1157.60,640.46 L1157.98,639.73 L1158.36,638.93 L1158.73,637.99 L1159.11,636.98 L1159.48,635.93 L1159.86,634.87 L1160.24,633.77 L1160.61,632.63 L1160.99,631.44 L1161.36,630.20 L1161.74,628.89 L1162.12,627.49 L1162.49,625.98 L1162.87,624.38 L1163.24,622.73 L1163.62,621.05 L1164.00,619.34 L1164.37,617.55 L1164.75,615.71 L1165.12,613.88 L1165.50,612.08 L1165.87,610.29 L1166.25,608.51 L1166.63,606.72 L1167.00,604.92 L1167.38,603.12 L1167.75,601.29 L1168.13,599.39 L1168.51,597.42 L1168.88,595.52 L1169.26,593.82 L1169.63,592.33 L1170.01,590.95 L1170.39,589.72 L1170.76,588.68 L1171.14,587.81 L1171.51,587.09 L1171.89,586.52 L1172.27,586.05 L1172.64,585.67 L1173.02,585.37 L1173.39,585.11 L1173.77,584.89 L1174.14,584.77 L1174.52,584.76 L1174.90,584.81 L1175.27,584.90 L1175.65,585.03 L1176.02,585.18 L1176.40,585.33 L1176.78,585.50 L1177.15,585.67 L1177.53,585.87 L1177.90,586.09 L1178.28,586.35 L1178.66,586.65 L1179.03,586.97 L1179.41,587.33 L1179.78,587.70 L1180.16,588.08 L1180.54,588.47 L1180.91,588.86 L1181.29,589.27 L1181.66,589.70 L1182.04,590.18 L1182.42,590.70 L1182.79,591.32 L1183.17,592.01 L1183.54,592.74 L1183.92,593.48 L1184.29,594.28 L1184.67,595.15 L1185.05,596.10 L1185.42,597.15 L1185.80,598.31 L1186.17,599.60 L1186.55,601.01 L1186.93,602.51 L1187.30,604.08 L1187.68,605.79 L1188.05,607.62 L1188.43,609.47 L1188.81,611.24 L1189.18,612.92 L1189.56,614.55 L1189.93,616.15 L1190.31,617.71 L1190.69,619.24 L1191.06,620.75 L1191.44,622.24 L1191.81,623.73 L1192.19,625.19 L1192.56,626.59 L1192.94,627.91 L1193.32,629.18 L1193.69,630.42 L1194.07,631.59 L1194.44,632.69 L1194.82,633.69 L1195.20,634.62 L1195.57,635.48 L1195.95,636.30 L1196.32,637.07 L1196.70,637.80 L1197.08,638.49 L1197.45,639.17 L1197.83,639.81 L1198.20,640.39 L1198.58,640.88 L1198.96,641.32 L1199.33,641.70 L1199.71,642.00 L1200.08,642.23 L1200.46,642.42 L1200.84,642.50 L1201.21,642.46 L1201.59,642.37 L1201.96,642.26 L1202.34,642.12 L1202.71,641.94 L1203.09,641.74 L1203.47,641.52 L1203.84,641.27 L1204.22,641.00 L1204.59,640.72 L1204.97,640.44 L1205.35,640.16 L1205.72,639.86 L1206.10,639.56 L1206.47,639.24 L1206.85,638.91 L1207.23,638.55 L1207.60,638.17 L1207.98,637.78 L1208.35,637.37 L1208.73,636.95 L1209.11,636.54 L1209.48,636.10 L1209.86,635.66 L1210.23,635.23 L1210.61,634.80 L1210.98,634.39 L1211.36,633.97 L1211.74,633.56 L1212.11,633.16 L1212.49,632.75 L1212.86,632.35 L1213.24,631.93 L1213.62,631.49 L1213.99,631.08 L1214.37,630.72 L1214.74,630.42 L1215.12,630.15 L1215.50,629.91 L1215.87,629.72 L1216.25,629.58 L1216.62,629.47 L1217.00,629.40 L1217.38,629.35 L1217.75,629.33 L1218.13,629.32 L1218.50,629.32 L1218.88,629.34 L1219.25,629.38 L1219.63,629.45 L1220.01,629.56 L1220.38,629.70 L1220.76,629.88 L1221.13,630.08 L1221.51,630.30 L1221.89,630.54 L1222.26,630.80 L1222.64,631.08 L1223.01,631.37 L1223.39,631.69 L1223.77,632.02 L1224.14,632.37 L1224.52,632.73 L1224.89,633.10 L1225.27,633.47 L1225.65,633.85 L1226.02,634.23 L1226.40,634.61 L1226.77,634.99 L1227.15,635.38 L1227.53,635.77 L1227.90,636.16 L1228.28,636.56 L1228.65,636.95 L1229.03,637.33 L1229.40,637.71 L1229.78,638.08 L1230.16,638.44 L1230.53,638.80 L1230.91,639.15 L1231.28,639.49 L1231.66,639.81 L1232.04,640.12 L1232.41,640.42 L1232.79,640.69 L1233.16,640.95 L1233.54,641.19 L1233.92,641.40 L1234.29,641.58 L1234.67,641.74 L1235.04,641.89 L1235.42,642.01 L1235.80,642.12 L1236.17,642.20 L1236.55,642.28 L1236.92,642.34" fill="none" stroke="#d9131f" stroke-width="2.25" stroke-linejoin="round" stroke-linecap="butt"/><path d="M819.66,642.50 L820.03,642.50 L820.41,642.50 L820.78,642.50 L821.16,642.50 L821.54,642.50 L821.91,642.50 L822.29,642.50 L822.66,642.50 L823.04,642.50 L823.41,642.50 L823.79,642.50 L824.17,642.49 L824.54,642.48 L824.92,642.47 L825.29,642.44 L825.67,642.41 L826.05,642.37 L826.42,642.32 L826.80,642.26 L827.17,642.18 L827.55,642.09 L827.93,641.98 L828.30,641.85 L828.68,641.71 L829.05,641.54 L829.43,641.36 L829.81,641.15 L830.18,640.92 L830.56,640.66 L830.93,640.39 L831.31,640.10 L831.68,639.79 L832.06,639.47 L832.44,639.13 L832.81,638.79 L833.19,638.43 L833.56,638.07 L833.94,637.70 L834.32,637.32 L834.69,636.94 L835.07,636.55 L835.44,636.16 L835.82,635.77 L836.20,635.38 L836.57,634.99 L836.95,634.61 L837.32,634.23 L837.70,633.85 L838.08,633.48 L838.45,633.11 L838.83,632.74 L839.20,632.38 L839.58,632.02 L839.95,631.66 L840.33,631.29 L840.71,630.94 L841.08,630.59 L841.46,630.28 L841.83,629.99 L842.21,629.73 L842.59,629.52 L842.96,629.34 L843.34,629.21 L843.71,629.12 L844.09,629.06 L844.47,629.04 L844.84,629.05 L845.22,629.08 L845.59,629.14 L845.97,629.22 L846.35,629.32 L846.72,629.45 L847.10,629.59 L847.47,629.75 L847.85,629.93 L848.23,630.13 L848.60,630.34 L848.98,630.56 L849.35,630.80 L849.73,631.04 L850.10,631.30 L850.48,631.56 L850.86,631.82 L851.23,632.09 L851.61,632.35 L851.98,632.62 L852.36,632.87 L852.74,633.12 L853.11,633.36 L853.49,633.59 L853.86,633.81 L854.24,634.00 L854.62,634.18 L854.99,634.34 L855.37,634.48 L855.74,634.59 L856.12,634.68 L856.50,634.74 L856.87,634.77 L857.25,634.77 L857.62,634.75 L858.00,634.69 L858.37,634.60 L858.75,634.48 L859.13,634.33 L859.50,634.15 L859.88,633.93 L860.25,633.67 L860.63,633.39 L861.01,633.07 L861.38,632.73 L861.76,632.38 L862.13,632.01 L862.51,631.62 L862.89,631.22 L863.26,630.78 L863.64,630.33 L864.01,629.86 L864.39,629.37 L864.77,628.87 L865.14,628.36 L865.52,627.84 L865.89,627.32 L866.27,626.78 L866.65,626.23 L867.02,625.67 L867.40,625.09 L867.77,624.48 L868.15,623.84 L868.52,623.18 L868.90,622.49 L869.28,621.77 L869.65,621.03 L870.03,620.27 L870.40,619.48 L870.78,618.67 L871.16,617.84 L871.53,616.99 L871.91,616.12 L872.28,615.24 L872.66,614.34 L873.04,613.42 L873.41,612.50 L873.79,611.55 L874.16,610.58 L874.54,609.54 L874.92,608.38 L875.29,607.09 L875.67,605.67 L876.04,604.17 L876.42,602.65 L876.79,601.17 L877.17,599.78 L877.55,598.50 L877.92,597.33 L878.30,596.26 L878.67,595.29 L879.05,594.39 L879.43,593.57 L879.80,592.80 L880.18,592.08 L880.55,591.42 L880.93,590.82 L881.31,590.27 L881.68,589.77 L882.06,589.31 L882.43,588.89 L882.81,588.48 L883.19,588.09 L883.56,587.72 L883.94,587.35 L884.31,586.99 L884.69,586.62 L885.06,586.24 L885.44,585.85 L885.82,585.45 L886.19,585.05 L886.57,584.68 L886.94,584.33 L887.32,584.02 L887.70,583.74 L888.07,583.51 L888.45,583.30 L888.82,583.13 L889.20,582.99 L889.58,582.89 L889.95,582.82 L890.33,582.79 L890.70,582.78 L891.08,582.80 L891.46,582.85 L891.83,582.93 L892.21,583.04 L892.58,583.17 L892.96,583.33 L893.34,583.50 L893.71,583.70 L894.09,583.91 L894.46,584.14 L894.84,584.39 L895.21,584.65 L895.59,584.92 L895.97,585.19 L896.34,585.48 L896.72,585.76 L897.09,586.05 L897.47,586.34 L897.85,586.63 L898.22,586.91 L898.60,587.19 L898.97,587.45 L899.35,587.71 L899.73,587.95 L900.10,588.17 L900.48,588.38 L900.85,588.56 L901.23,588.72 L901.61,588.86 L901.98,588.97 L902.36,589.05 L902.73,589.11 L903.11,589.12 L903.48,589.11 L903.86,589.06 L904.24,588.96 L904.61,588.81 L904.99,588.61 L905.36,588.35 L905.74,588.04 L906.12,587.70 L906.49,587.35 L906.87,586.99 L907.24,586.60 L907.62,586.18 L908.00,585.70 L908.37,585.15 L908.75,584.55 L909.12,583.88 L909.50,583.16 L909.88,582.39 L910.25,581.58 L910.63,580.72 L911.00,579.82 L911.38,578.87 L911.76,577.87 L912.13,576.83 L912.51,575.75 L912.88,574.63 L913.26,573.47 L913.63,572.28 L914.01,571.04 L914.39,569.77 L914.76,568.47 L915.14,567.14 L915.51,565.78 L915.89,564.39 L916.27,562.98 L916.64,561.55 L917.02,560.10 L917.39,558.63 L917.77,557.14 L918.15,555.65 L918.52,554.14 L918.90,552.63 L919.27,551.11 L919.65,549.60 L920.03,548.08 L920.40,546.56 L920.78,545.06 L921.15,543.56 L921.53,542.07 L921.90,540.56 L922.28,539.00 L922.66,537.35 L923.03,535.62 L923.41,533.82 L923.78,532.02 L924.16,530.27 L924.54,528.62 L924.91,527.09 L925.29,525.70 L925.66,524.44 L926.04,523.31 L926.42,522.32 L926.79,521.44 L927.17,520.67 L927.54,519.97 L927.92,519.33 L928.30,518.72 L928.67,518.14 L929.05,517.60 L929.42,517.08 L929.80,516.57 L930.17,516.07 L930.55,515.57 L930.93,515.08 L931.30,514.60 L931.68,514.16 L932.05,513.77 L932.43,513.42 L932.81,513.12 L933.18,512.87 L933.56,512.67 L933.93,512.51 L934.31,512.40 L934.69,512.33 L935.06,512.30 L935.44,512.32 L935.81,512.37 L936.19,512.45 L936.57,512.58 L936.94,512.73 L937.32,512.91 L937.69,513.13 L938.07,513.37 L938.45,513.63 L938.82,513.91 L939.20,514.21 L939.57,514.53 L939.95,514.86 L940.32,515.20 L940.70,515.55 L941.08,515.90 L941.45,516.26 L941.83,516.61 L942.20,516.96 L942.58,517.31 L942.96,517.65 L943.33,517.97 L943.71,518.29 L944.08,518.58 L944.46,518.86 L944.84,519.12 L945.21,519.35 L945.59,519.55 L945.96,519.73 L946.34,519.87 L946.72,519.99 L947.09,520.07 L947.47,520.11 L947.84,520.11 L948.22,520.07 L948.59,520.00 L948.97,519.87 L949.35,519.71 L949.72,519.49 L950.10,519.22 L950.47,518.89 L950.85,518.49 L951.23,518.04 L951.60,517.56 L951.98,517.06 L952.35,516.54 L952.73,515.99 L953.11,515.38 L953.48,514.72 L953.86,513.99 L954.23,513.21 L954.61,512.37 L954.99,511.48 L955.36,510.55 L955.74,509.58 L956.11,508.56 L956.49,507.50 L956.87,506.40 L957.24,505.27 L957.62,504.10 L957.99,502.89 L958.37,501.65 L958.74,500.38 L959.12,499.08 L959.50,497.76 L959.87,496.41 L960.25,495.04 L960.62,493.65 L961.00,492.24 L961.38,490.82 L961.75,489.39 L962.13,487.95 L962.50,486.51 L962.88,485.06 L963.26,483.60 L963.63,482.15 L964.01,480.71 L964.38,479.27 L964.76,477.84 L965.14,476.42 L965.51,475.01 L965.89,473.62 L966.26,472.25 L966.64,470.90 L967.01,469.58 L967.39,468.28 L967.77,467.00 L968.14,465.76 L968.52,464.55 L968.89,463.37 L969.27,462.22 L969.65,461.11 L970.02,460.04 L970.40,458.98 L970.77,457.94 L971.15,456.92 L971.53,455.94 L971.90,455.00 L972.28,454.14 L972.65,453.35 L973.03,452.64 L973.41,451.98 L973.78,451.38 L974.16,450.83 L974.53,450.33 L974.91,449.88 L975.28,449.47 L975.66,449.10 L976.04,448.75 L976.41,448.44 L976.79,448.16 L977.16,447.91 L977.54,447.71 L977.92,447.55 L978.29,447.42 L978.67,447.33 L979.04,447.28 L979.42,447.26 L979.80,447.27 L980.17,447.31 L980.55,447.38 L980.92,447.48 L981.30,447.60 L981.68,447.74 L982.05,447.91 L982.43,448.09 L982.80,448.29 L983.18,448.50 L983.56,448.73 L983.93,448.97 L984.31,449.21 L984.68,449.47 L985.06,449.72 L985.43,449.98 L985.81,450.24 L986.19,450.49 L986.56,450.75 L986.94,450.99 L987.31,451.23 L987.69,451.46 L988.07,451.67 L988.44,451.88 L988.82,452.07 L989.19,452.24 L989.57,452.39 L989.95,452.53 L990.32,452.64 L990.70,452.73 L991.07,452.80 L991.45,452.85 L991.83,452.87 L992.20,452.86 L992.58,452.83 L992.95,452.77 L993.33,452.68 L993.70,452.57 L994.08,452.43 L994.46,452.25 L994.83,452.05 L995.21,451.82 L995.58,451.56 L995.96,451.27 L996.34,450.94 L996.71,450.59 L997.09,450.21 L997.46,449.82 L997.84,449.40 L998.22,448.97 L998.59,448.51 L998.97,448.03 L999.34,447.51 L999.72,446.98 L1000.10,446.42 L1000.47,445.85 L1000.85,445.26 L1001.22,444.65 L1001.60,444.02 L1001.98,443.39 L1002.35,442.74 L1002.73,442.08 L1003.10,441.42 L1003.48,440.74 L1003.85,440.06 L1004.23,439.38 L1004.61,438.69 L1004.98,438.01 L1005.36,437.32 L1005.73,436.63 L1006.11,435.95 L1006.49,435.28 L1006.86,434.61 L1007.24,433.94 L1007.61,433.29 L1007.99,432.65 L1008.37,432.02 L1008.74,431.40 L1009.12,430.79 L1009.49,430.20 L1009.87,429.63 L1010.25,429.08 L1010.62,428.54 L1011.00,428.02 L1011.37,427.52 L1011.75,427.04 L1012.12,426.58 L1012.50,426.15 L1012.88,425.73 L1013.25,425.34 L1013.63,424.97 L1014.00,424.62 L1014.38,424.29 L1014.76,423.99 L1015.13,423.71 L1015.51,423.45 L1015.88,423.22 L1016.26,423.00 L1016.64,422.81 L1017.01,422.64 L1017.39,422.49 L1017.76,422.36 L1018.14,422.25 L1018.52,422.16 L1018.89,422.09 L1019.27,422.03 L1019.64,421.99 L1020.02,421.97 L1020.39,421.96 L1020.77,421.97 L1021.15,421.99 L1021.52,422.02 L1021.90,422.06 L1022.27,422.11 L1022.65,422.17 L1023.03,422.23 L1023.40,422.31 L1023.78,422.38 L1024.15,422.47 L1024.53,422.56 L1024.91,422.64 L1025.28,422.74 L1025.66,422.83 L1026.03,422.92 L1026.41,423.01 L1026.79,423.10 L1027.16,423.18 L1027.54,423.26 L1027.91,423.34 L1028.29,423.41 L1028.67,423.47 L1029.04,423.53 L1029.42,423.58 L1029.79,423.63 L1030.17,423.67 L1030.54,423.70 L1030.92,423.72 L1031.30,423.73 L1031.67,423.73 L1032.05,423.73 L1032.42,423.72 L1032.80,423.70 L1033.18,423.67 L1033.55,423.63 L1033.93,423.58 L1034.30,423.53 L1034.68,423.47 L1035.06,423.41 L1035.43,423.34 L1035.81,423.26 L1036.18,423.18 L1036.56,423.10 L1036.94,423.01 L1037.31,422.92 L1037.69,422.83 L1038.06,422.74 L1038.44,422.64 L1038.81,422.56 L1039.19,422.47 L1039.57,422.38 L1039.94,422.31 L1040.32,422.23 L1040.69,422.17 L1041.07,422.11 L1041.45,422.06 L1041.82,422.02 L1042.20,421.99 L1042.57,421.97 L1042.95,421.96 L1043.33,421.97 L1043.70,421.99 L1044.08,422.03 L1044.45,422.09 L1044.83,422.16 L1045.21,422.25 L1045.58,422.36 L1045.96,422.49 L1046.33,422.64 L1046.71,422.81 L1047.09,423.00 L1047.46,423.22 L1047.84,423.45 L1048.21,423.71 L1048.59,423.99 L1048.96,424.29 L1049.34,424.62 L1049.72,424.97 L1050.09,425.34 L1050.47,425.73 L1050.84,426.15 L1051.22,426.58 L1051.60,427.04 L1051.97,427.52 L1052.35,428.02 L1052.72,428.54 L1053.10,429.08 L1053.48,429.63 L1053.85,430.20 L1054.23,430.79 L1054.60,431.40 L1054.98,432.02 L1055.36,432.65 L1055.73,433.29 L1056.11,433.94 L1056.48,434.61 L1056.86,435.28 L1057.23,435.95 L1057.61,436.63 L1057.99,437.32 L1058.36,438.01 L1058.74,438.69 L1059.11,439.38 L1059.49,440.06 L1059.87,440.74 L1060.24,441.42 L1060.62,442.08 L1060.99,442.74 L1061.37,443.39 L1061.75,444.02 L1062.12,444.65 L1062.50,445.26 L1062.87,445.85 L1063.25,446.42 L1063.63,446.98 L1064.00,447.51 L1064.38,448.03 L1064.75,448.51 L1065.13,448.97 L1065.51,449.40 L1065.88,449.82 L1066.26,450.21 L1066.63,450.59 L1067.01,450.94 L1067.38,451.27 L1067.76,451.56 L1068.14,451.82 L1068.51,452.05 L1068.89,452.25 L1069.26,452.43 L1069.64,452.57 L1070.02,452.68 L1070.39,452.77 L1070.77,452.83 L1071.14,452.86 L1071.52,452.87 L1071.90,452.85 L1072.27,452.80 L1072.65,452.73 L1073.02,452.64 L1073.40,452.53 L1073.78,452.39 L1074.15,452.24 L1074.53,452.07 L1074.90,451.88 L1075.28,451.67 L1075.65,451.46 L1076.03,451.23 L1076.41,450.99 L1076.78,450.75 L1077.16,450.49 L1077.53,450.24 L1077.91,449.98 L1078.29,449.72 L1078.66,449.47 L1079.04,449.21 L1079.41,448.97 L1079.79,448.73 L1080.17,448.50 L1080.54,448.29 L1080.92,448.09 L1081.29,447.91 L1081.67,447.74 L1082.05,447.60 L1082.42,447.48 L1082.80,447.38 L1083.17,447.31 L1083.55,447.27 L1083.92,447.26 L1084.30,447.28 L1084.68,447.33 L1085.05,447.42 L1085.43,447.55 L1085.80,447.71 L1086.18,447.91 L1086.56,448.16 L1086.93,448.44 L1087.31,448.75 L1087.68,449.10 L1088.06,449.47 L1088.44,449.88 L1088.81,450.33 L1089.19,450.83 L1089.56,451.38 L1089.94,451.98 L1090.32,452.64 L1090.69,453.35 L1091.07,454.14 L1091.44,455.00 L1091.82,455.94 L1092.20,456.92 L1092.57,457.94 L1092.95,458.98 L1093.32,460.04 L1093.70,461.11 L1094.07,462.22 L1094.45,463.37 L1094.83,464.55 L1095.20,465.76 L1095.58,467.00 L1095.95,468.28 L1096.33,469.58 L1096.71,470.90 L1097.08,472.25 L1097.46,473.62 L1097.83,475.01 L1098.21,476.42 L1098.59,477.84 L1098.96,479.27 L1099.34,480.71 L1099.71,482.15 L1100.09,483.60 L1100.47,485.06 L1100.84,486.51 L1101.22,487.95 L1101.59,489.39 L1101.97,490.82 L1102.34,492.24 L1102.72,493.65 L1103.10,495.04 L1103.47,496.41 L1103.85,497.76 L1104.22,499.08 L1104.60,500.38 L1104.98,501.65 L1105.35,502.89 L1105.73,504.10 L1106.10,505.27 L1106.48,506.40 L1106.86,507.50 L1107.23,508.56 L1107.61,509.58 L1107.98,510.55 L1108.36,511.48 L1108.74,512.37 L1109.11,513.21 L1109.49,513.99 L1109.86,514.72 L1110.24,515.38 L1110.62,515.99 L1110.99,516.54 L1111.37,517.06 L1111.74,517.56 L1112.12,518.04 L1112.49,518.49 L1112.87,518.89 L1113.25,519.22 L1113.62,519.49 L1114.00,519.71 L1114.37,519.87 L1114.75,520.00 L1115.13,520.07 L1115.50,520.11 L1115.88,520.11 L1116.25,520.07 L1116.63,519.99 L1117.01,519.87 L1117.38,519.73 L1117.76,519.55 L1118.13,519.35 L1118.51,519.12 L1118.89,518.86 L1119.26,518.58 L1119.64,518.29 L1120.01,517.97 L1120.39,517.65 L1120.76,517.31 L1121.14,516.96 L1121.52,516.61 L1121.89,516.26 L1122.27,515.90 L1122.64,515.55 L1123.02,515.20 L1123.40,514.86 L1123.77,514.53 L1124.15,514.21 L1124.52,513.91 L1124.90,513.63 L1125.28,513.37 L1125.65,513.13 L1126.03,512.91 L1126.40,512.73 L1126.78,512.58 L1127.16,512.45 L1127.53,512.37 L1127.91,512.32 L1128.28,512.30 L1128.66,512.33 L1129.03,512.40 L1129.41,512.51 L1129.79,512.67 L1130.16,512.87 L1130.54,513.12 L1130.91,513.42 L1131.29,513.77 L1131.67,514.16 L1132.04,514.60 L1132.42,515.08 L1132.79,515.57 L1133.17,516.07 L1133.55,516.57 L1133.92,517.08 L1134.30,517.60 L1134.67,518.14 L1135.05,518.72 L1135.43,519.33 L1135.80,519.97 L1136.18,520.67 L1136.55,521.44 L1136.93,522.32 L1137.31,523.31 L1137.68,524.44 L1138.06,525.70 L1138.43,527.09 L1138.81,528.62 L1139.18,530.27 L1139.56,532.02 L1139.94,533.82 L1140.31,535.62 L1140.69,537.35 L1141.06,539.00 L1141.44,540.56 L1141.82,542.07 L1142.19,543.56 L1142.57,545.06 L1142.94,546.56 L1143.32,548.08 L1143.70,549.60 L1144.07,551.11 L1144.45,552.63 L1144.82,554.14 L1145.20,555.65 L1145.58,557.14 L1145.95,558.63 L1146.33,560.10 L1146.70,561.55 L1147.08,562.98 L1147.45,564.39 L1147.83,565.78 L1148.21,567.14 L1148.58,568.47 L1148.96,569.77 L1149.33,571.04 L1149.71,572.28 L1150.09,573.47 L1150.46,574.63 L1150.84,575.75 L1151.21,576.83 L1151.59,577.87 L1151.97,578.87 L1152.34,579.82 L1152.72,580.72 L1153.09,581.58 L1153.47,582.39 L1153.85,583.16 L1154.22,583.88 L1154.60,584.55 L1154.97,585.15 L1155.35,585.70 L1155.72,586.18 L1156.10,586.60 L1156.48,586.99 L1156.85,587.35 L1157.23,587.70 L1157.60,588.04 L1157.98,588.35 L1158.36,588.61 L1158.73,588.81 L1159.11,588.96 L1159.48,589.06 L1159.86,589.11 L1160.24,589.12 L1160.61,589.11 L1160.99,589.05 L1161.36,588.97 L1161.74,588.86 L1162.12,588.72 L1162.49,588.56 L1162.87,588.38 L1163.24,588.17 L1163.62,587.95 L1164.00,587.71 L1164.37,587.45 L1164.75,587.19 L1165.12,586.91 L1165.50,586.63 L1165.87,586.34 L1166.25,586.05 L1166.63,585.76 L1167.00,585.48 L1167.38,585.19 L1167.75,584.92 L1168.13,584.65 L1168.51,584.39 L1168.88,584.14 L1169.26,583.91 L1169.63,583.70 L1170.01,583.50 L1170.39,583.33 L1170.76,583.17 L1171.14,583.04 L1171.51,582.93 L1171.89,582.85 L1172.27,582.80 L1172.64,582.78 L1173.02,582.79 L1173.39,582.82 L1173.77,582.89 L1174.14,582.99 L1174.52,583.13 L1174.90,583.30 L1175.27,583.51 L1175.65,583.74 L1176.02,584.02 L1176.40,584.33 L1176.78,584.68 L1177.15,585.05 L1177.53,585.45 L1177.90,585.85 L1178.28,586.24 L1178.66,586.62 L1179.03,586.99 L1179.41,587.35 L1179.78,587.72 L1180.16,588.09 L1180.54,588.48 L1180.91,588.89 L1181.29,589.31 L1181.66,589.77 L1182.04,590.27 L1182.42,590.82 L1182.79,591.42 L1183.17,592.08 L1183.54,592.80 L1183.92,593.57 L1184.29,594.39 L1184.67,595.29 L1185.05,596.26 L1185.42,597.33 L1185.80,598.50 L1186.17,599.78 L1186.55,601.17 L1186.93,602.65 L1187.30,604.17 L1187.68,605.67 L1188.05,607.09 L1188.43,608.38 L1188.81,609.54 L1189.18,610.58 L1189.56,611.55 L1189.93,612.50 L1190.31,613.42 L1190.69,614.34 L1191.06,615.24 L1191.44,616.12 L1191.81,616.99 L1192.19,617.84 L1192.56,618.67 L1192.94,619.48 L1193.32,620.27 L1193.69,621.03 L1194.07,621.77 L1194.44,622.49 L1194.82,623.18 L1195.20,623.84 L1195.57,624.48 L1195.95,625.09 L1196.32,625.67 L1196.70,626.23 L1197.08,626.78 L1197.45,627.32 L1197.83,627.84 L1198.20,628.36 L1198.58,628.87 L1198.96,629.37 L1199.33,629.86 L1199.71,630.33 L1200.08,630.78 L1200.46,631.22 L1200.84,631.62 L1201.21,632.01 L1201.59,632.38 L1201.96,632.73 L1202.34,633.07 L1202.71,633.39 L1203.09,633.67 L1203.47,633.93 L1203.84,634.15 L1204.22,634.33 L1204.59,634.48 L1204.97,634.60 L1205.35,634.69 L1205.72,634.75 L1206.10,634.77 L1206.47,634.77 L1206.85,634.74 L1207.23,634.68 L1207.60,634.59 L1207.98,634.48 L1208.35,634.34 L1208.73,634.18 L1209.11,634.00 L1209.48,633.81 L1209.86,633.59 L1210.23,633.36 L1210.61,633.12 L1210.98,632.87 L1211.36,632.62 L1211.74,632.35 L1212.11,632.09 L1212.49,631.82 L1212.86,631.56 L1213.24,631.30 L1213.62,631.04 L1213.99,630.80 L1214.37,630.56 L1214.74,630.34 L1215.12,630.13 L1215.50,629.93 L1215.87,629.75 L1216.25,629.59 L1216.62,629.45 L1217.00,629.32 L1217.38,629.22 L1217.75,629.14 L1218.13,629.08 L1218.50,629.05 L1218.88,629.04 L1219.25,629.06 L1219.63,629.12 L1220.01,629.21 L1220.38,629.34 L1220.76,629.52 L1221.13,629.73 L1221.51,629.99 L1221.89,630.28 L1222.26,630.59 L1222.64,630.94 L1223.01,631.29 L1223.39,631.66 L1223.77,632.02 L1224.14,632.38 L1224.52,632.74 L1224.89,633.11 L1225.27,633.48 L1225.65,633.85 L1226.02,634.23 L1226.40,634.61 L1226.77,634.99 L1227.15,635.38 L1227.53,635.77 L1227.90,636.16 L1228.28,636.55 L1228.65,636.94 L1229.03,637.32 L1229.40,637.70 L1229.78,638.07 L1230.16,638.43 L1230.53,638.79 L1230.91,639.13 L1231.28,639.47 L1231.66,639.79 L1232.04,640.10 L1232.41,640.39 L1232.79,640.66 L1233.16,640.92 L1233.54,641.15 L1233.92,641.36 L1234.29,641.54 L1234.67,641.71 L1235.04,641.85 L1235.42,641.98 L1235.80,642.09 L1236.17,642.18 L1236.55,642.26 L1236.92,642.32 L1237.30,642.37 L1237.67,642.41 L1238.05,642.44 L1238.43,642.47 L1238.80,642.48 L1239.18,642.49" fill="none" stroke="#000" stroke-width="1.6" stroke-linejoin="round" stroke-linecap="butt"/>
<text transform="translate(768.96,365.20) scale(1.0,1)" font-size="31" text-anchor="start" font-style="italic" stroke="#000" stroke-width="0.20">I</text>
<text transform="translate(777.13,371.70) scale(1.15,1)" font-size="19" text-anchor="start" stroke="#000" stroke-width="0.14">φ</text>
<text transform="translate(809.60,373.30) scale(1.08,1)" font-size="17" text-anchor="end" stroke="#000" stroke-width="0.14">8</text><text transform="translate(809.60,441.20) scale(1.08,1)" font-size="17" text-anchor="end" stroke="#000" stroke-width="0.14">6</text><text transform="translate(809.60,511.00) scale(1.08,1)" font-size="17" text-anchor="end" stroke="#000" stroke-width="0.14">4</text><text transform="translate(809.60,579.90) scale(1.08,1)" font-size="17" text-anchor="end" stroke="#000" stroke-width="0.14">2</text><text transform="translate(809.60,649.50) scale(1.05,1)" font-size="17" text-anchor="end" stroke="#000" stroke-width="0.15">0</text>
<text transform="translate(822.30,662.40) scale(0.96,1)" font-size="17.5" text-anchor="middle" stroke="#000" stroke-width="0.15">-0,01</text><text transform="translate(930.38,662.40) scale(1.04,1)" font-size="17.5" text-anchor="middle" stroke="#000" stroke-width="0.15">-5×10<tspan font-size="12.5" dy="-6.2">-3</tspan></text><text transform="translate(1041.95,662.40) scale(1.0,1)" font-size="17.5" text-anchor="middle" stroke="#000" stroke-width="0.15">0</text><text transform="translate(1155.12,662.40) scale(1.04,1)" font-size="17.5" text-anchor="middle" stroke="#000" stroke-width="0.15">5×10<tspan font-size="12.5" dy="-6.2">-3</tspan></text><text transform="translate(1265.50,662.40) scale(0.94,1)" font-size="17.5" text-anchor="middle" stroke="#000" stroke-width="0.15">0,01</text>
<text transform="translate(1299.44,651.20) scale(1.0,1)" font-size="28.5" text-anchor="start" stroke="#000" stroke-width="0.20">sin</text>
<text transform="translate(1338.57,651.60) scale(1.06,1)" font-size="29" text-anchor="start" font-style="italic" stroke="#000" stroke-width="0.19">φ</text>
<text transform="translate(935.32,433.20) scale(1.1,1)" font-size="26.3" text-anchor="start" stroke="#000" stroke-width="0.19">4</text>
<line x1="956.00" y1="425.80" x2="992.00" y2="425.80" stroke="#000" stroke-width="1.9"/><path d="M1002.30,425.80 Q995.55,423.28 988.80,419.80 L991.50,425.80 L988.80,431.80 Q995.55,428.32 1002.30,425.80 Z" fill="#000"/>
<text transform="translate(1186.90,412.80) scale(1.05,1)" font-size="31" text-anchor="start" stroke="#000" stroke-width="0.20"><tspan font-style="italic">V</tspan>≈0</text>
</g>
</svg>
</body></html>
